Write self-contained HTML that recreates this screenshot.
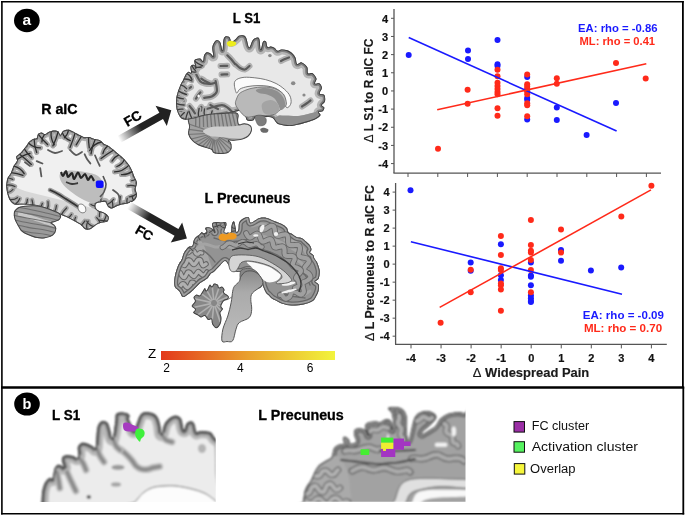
<!DOCTYPE html>
<html><head><meta charset="utf-8"><style>
html,body{margin:0;padding:0;background:#fff;}
svg{display:block;will-change:transform;}
text{font-family:"Liberation Sans",sans-serif;}
.tk{font-size:11px;font-weight:bold;fill:#111;stroke:#111;stroke-width:0.2px;}
.ax{font-size:12px;font-weight:bold;fill:#1a1a1a;stroke:#1a1a1a;stroke-width:0.15px;}
.rho{font-size:11.6px;font-weight:bold;}
.ttl{font-size:14.5px;font-weight:bold;fill:#000;stroke:#000;stroke-width:0.3px;}
.lg{font-size:12.3px;fill:#111;}
.fc{font-size:13.5px;font-weight:bold;fill:#000;stroke:#000;stroke-width:0.3px;}
</style></head><body>
<svg width="685" height="516" viewBox="0 0 685 516">
<rect width="685" height="516" fill="#fff"/>
<defs>
<filter id="bl6" x="-5%" y="-5%" width="110%" height="110%"><feGaussianBlur stdDeviation="0.45"/></filter>
<linearGradient id="thg" x1="0" x2="1" y1="0" y2="0"><stop offset="0" stop-color="#bebebe"/><stop offset="0.5" stop-color="#b2b2b2"/><stop offset="0.75" stop-color="#9a9a9a"/><stop offset="1" stop-color="#8a8a8a"/></linearGradient>
<linearGradient id="bsg" x1="0" x2="0" y1="0" y2="1"><stop offset="0" stop-color="#8a8a8a"/><stop offset="0.3" stop-color="#aaaaaa"/><stop offset="1" stop-color="#bdbdbd"/></linearGradient>
<filter id="bl9" x="-5%" y="-5%" width="110%" height="110%"><feGaussianBlur stdDeviation="1.1"/></filter>
</defs>
<g filter="url(#bl6)">
<clipPath id="c1"><path d="M176.90,110.10 C176.05,107.05 176.05,103.02 176.20,100.00 C176.35,96.98 177.02,94.67 177.80,92.00 C178.58,89.33 180.00,86.00 180.90,84.00 C181.80,82.00 182.40,81.57 183.20,80.00 C184.00,78.43 184.80,75.98 185.70,74.60 C186.60,73.22 187.72,72.02 188.60,71.70 C189.48,71.38 190.68,73.50 191.00,72.70 C191.32,71.90 190.27,68.20 190.50,66.90 C190.73,65.60 191.67,65.15 192.40,64.90 C193.13,64.65 194.33,64.90 194.90,65.40 C195.47,65.90 195.88,68.62 195.80,67.90 C195.72,67.18 194.32,62.57 194.40,61.10 C194.48,59.63 195.33,59.52 196.30,59.10 C197.27,58.68 199.07,58.27 200.20,58.60 C201.33,58.93 202.45,61.65 203.10,61.10 C203.75,60.55 203.45,56.77 204.10,55.30 C204.75,53.83 205.87,52.55 207.00,52.30 C208.13,52.05 209.85,53.15 210.90,53.80 C211.95,54.45 213.07,57.25 213.30,56.20 C213.53,55.15 212.07,49.92 212.30,47.50 C212.53,45.08 213.82,42.92 214.70,41.70 C215.58,40.48 216.63,40.03 217.60,40.20 C218.57,40.37 219.68,41.00 220.50,42.70 C221.32,44.40 222.00,50.88 222.50,50.40 C223.00,49.92 223.02,42.13 223.50,39.80 C223.98,37.47 224.52,36.90 225.40,36.40 C226.28,35.90 228.00,36.40 228.80,36.80 C229.60,37.20 229.75,37.93 230.20,38.80 C230.65,39.67 230.53,42.02 231.50,42.00 C232.47,41.98 234.77,39.73 236.00,38.70 C237.23,37.67 237.77,36.37 238.90,35.80 C240.03,35.23 241.60,34.97 242.80,35.30 C244.00,35.63 245.05,35.78 246.10,37.80 C247.15,39.82 248.05,46.92 249.10,47.40 C250.15,47.88 251.37,42.23 252.40,40.70 C253.43,39.17 254.17,38.53 255.30,38.20 C256.43,37.87 258.30,36.83 259.20,38.70 C260.10,40.57 260.05,48.92 260.70,49.40 C261.35,49.88 262.22,42.90 263.10,41.60 C263.98,40.30 265.27,40.70 266.00,41.60 C266.73,42.50 266.68,46.18 267.50,47.00 C268.32,47.82 269.70,46.35 270.90,46.50 C272.10,46.65 273.58,47.18 274.70,47.90 C275.82,48.62 276.47,50.55 277.60,50.80 C278.73,51.05 279.88,49.48 281.50,49.40 C283.12,49.32 285.52,49.65 287.30,50.30 C289.08,50.95 290.83,52.05 292.20,53.30 C293.57,54.55 294.68,56.02 295.50,57.80 C296.32,59.58 296.07,63.23 297.10,64.00 C298.13,64.77 300.02,61.88 301.70,62.40 C303.38,62.92 306.15,65.28 307.20,67.10 C308.25,68.92 307.10,72.27 308.00,73.30 C308.90,74.33 311.18,72.40 312.60,73.30 C314.02,74.20 316.10,77.02 316.50,78.70 C316.90,80.38 314.48,82.62 315.00,83.40 C315.52,84.18 318.45,82.63 319.60,83.40 C320.75,84.17 321.90,86.32 321.90,88.00 C321.90,89.68 319.20,92.33 319.60,93.50 C320.00,94.67 323.40,93.72 324.30,95.00 C325.20,96.28 325.40,99.52 325.00,101.20 C324.60,102.88 322.02,104.05 321.90,105.10 C321.78,106.15 324.17,106.47 324.30,107.50 C324.43,108.53 323.62,110.53 322.70,111.30 C321.78,112.07 319.18,111.45 318.80,112.10 C318.42,112.75 320.92,114.03 320.40,115.20 C319.88,116.37 317.52,118.07 315.70,119.10 C313.88,120.13 312.35,120.50 309.50,121.40 C306.65,122.30 301.97,123.72 298.60,124.50 C295.23,125.28 292.40,126.10 289.30,126.10 C286.20,126.10 282.10,125.02 280.00,124.50 C277.90,123.98 277.98,124.12 276.70,123.00 C275.42,121.88 274.08,118.80 272.30,117.80 C270.52,116.80 268.62,117.40 266.00,117.00 C263.38,116.60 258.70,114.87 256.60,115.40 C254.50,115.93 255.00,119.40 253.40,120.20 C251.80,121.00 248.43,121.25 247.00,120.20 C245.57,119.15 245.80,115.52 244.80,113.90 C243.80,112.28 242.47,110.90 241.00,110.50 C239.53,110.10 238.17,111.00 236.00,111.50 C233.83,112.00 231.50,112.83 228.00,113.50 C224.50,114.17 219.67,114.83 215.00,115.50 C210.33,116.17 204.50,116.82 200.00,117.50 C195.50,118.18 191.12,119.47 188.00,119.60 C184.88,119.73 183.15,119.88 181.30,118.30 C179.45,116.72 177.75,113.15 176.90,110.10 Z"/></clipPath>
<g clip-path="url(#c1)">
<path d="M176.90,110.10 C176.05,107.05 176.05,103.02 176.20,100.00 C176.35,96.98 177.02,94.67 177.80,92.00 C178.58,89.33 180.00,86.00 180.90,84.00 C181.80,82.00 182.40,81.57 183.20,80.00 C184.00,78.43 184.80,75.98 185.70,74.60 C186.60,73.22 187.72,72.02 188.60,71.70 C189.48,71.38 190.68,73.50 191.00,72.70 C191.32,71.90 190.27,68.20 190.50,66.90 C190.73,65.60 191.67,65.15 192.40,64.90 C193.13,64.65 194.33,64.90 194.90,65.40 C195.47,65.90 195.88,68.62 195.80,67.90 C195.72,67.18 194.32,62.57 194.40,61.10 C194.48,59.63 195.33,59.52 196.30,59.10 C197.27,58.68 199.07,58.27 200.20,58.60 C201.33,58.93 202.45,61.65 203.10,61.10 C203.75,60.55 203.45,56.77 204.10,55.30 C204.75,53.83 205.87,52.55 207.00,52.30 C208.13,52.05 209.85,53.15 210.90,53.80 C211.95,54.45 213.07,57.25 213.30,56.20 C213.53,55.15 212.07,49.92 212.30,47.50 C212.53,45.08 213.82,42.92 214.70,41.70 C215.58,40.48 216.63,40.03 217.60,40.20 C218.57,40.37 219.68,41.00 220.50,42.70 C221.32,44.40 222.00,50.88 222.50,50.40 C223.00,49.92 223.02,42.13 223.50,39.80 C223.98,37.47 224.52,36.90 225.40,36.40 C226.28,35.90 228.00,36.40 228.80,36.80 C229.60,37.20 229.75,37.93 230.20,38.80 C230.65,39.67 230.53,42.02 231.50,42.00 C232.47,41.98 234.77,39.73 236.00,38.70 C237.23,37.67 237.77,36.37 238.90,35.80 C240.03,35.23 241.60,34.97 242.80,35.30 C244.00,35.63 245.05,35.78 246.10,37.80 C247.15,39.82 248.05,46.92 249.10,47.40 C250.15,47.88 251.37,42.23 252.40,40.70 C253.43,39.17 254.17,38.53 255.30,38.20 C256.43,37.87 258.30,36.83 259.20,38.70 C260.10,40.57 260.05,48.92 260.70,49.40 C261.35,49.88 262.22,42.90 263.10,41.60 C263.98,40.30 265.27,40.70 266.00,41.60 C266.73,42.50 266.68,46.18 267.50,47.00 C268.32,47.82 269.70,46.35 270.90,46.50 C272.10,46.65 273.58,47.18 274.70,47.90 C275.82,48.62 276.47,50.55 277.60,50.80 C278.73,51.05 279.88,49.48 281.50,49.40 C283.12,49.32 285.52,49.65 287.30,50.30 C289.08,50.95 290.83,52.05 292.20,53.30 C293.57,54.55 294.68,56.02 295.50,57.80 C296.32,59.58 296.07,63.23 297.10,64.00 C298.13,64.77 300.02,61.88 301.70,62.40 C303.38,62.92 306.15,65.28 307.20,67.10 C308.25,68.92 307.10,72.27 308.00,73.30 C308.90,74.33 311.18,72.40 312.60,73.30 C314.02,74.20 316.10,77.02 316.50,78.70 C316.90,80.38 314.48,82.62 315.00,83.40 C315.52,84.18 318.45,82.63 319.60,83.40 C320.75,84.17 321.90,86.32 321.90,88.00 C321.90,89.68 319.20,92.33 319.60,93.50 C320.00,94.67 323.40,93.72 324.30,95.00 C325.20,96.28 325.40,99.52 325.00,101.20 C324.60,102.88 322.02,104.05 321.90,105.10 C321.78,106.15 324.17,106.47 324.30,107.50 C324.43,108.53 323.62,110.53 322.70,111.30 C321.78,112.07 319.18,111.45 318.80,112.10 C318.42,112.75 320.92,114.03 320.40,115.20 C319.88,116.37 317.52,118.07 315.70,119.10 C313.88,120.13 312.35,120.50 309.50,121.40 C306.65,122.30 301.97,123.72 298.60,124.50 C295.23,125.28 292.40,126.10 289.30,126.10 C286.20,126.10 282.10,125.02 280.00,124.50 C277.90,123.98 277.98,124.12 276.70,123.00 C275.42,121.88 274.08,118.80 272.30,117.80 C270.52,116.80 268.62,117.40 266.00,117.00 C263.38,116.60 258.70,114.87 256.60,115.40 C254.50,115.93 255.00,119.40 253.40,120.20 C251.80,121.00 248.43,121.25 247.00,120.20 C245.57,119.15 245.80,115.52 244.80,113.90 C243.80,112.28 242.47,110.90 241.00,110.50 C239.53,110.10 238.17,111.00 236.00,111.50 C233.83,112.00 231.50,112.83 228.00,113.50 C224.50,114.17 219.67,114.83 215.00,115.50 C210.33,116.17 204.50,116.82 200.00,117.50 C195.50,118.18 191.12,119.47 188.00,119.60 C184.88,119.73 183.15,119.88 181.30,118.30 C179.45,116.72 177.75,113.15 176.90,110.10 Z" fill="#e8e8e8" stroke="#b6b6b6" stroke-width="10"/>
<path d="M176.90,110.10 C176.05,107.05 176.05,103.02 176.20,100.00 C176.35,96.98 177.02,94.67 177.80,92.00 C178.58,89.33 180.00,86.00 180.90,84.00 C181.80,82.00 182.40,81.57 183.20,80.00 C184.00,78.43 184.80,75.98 185.70,74.60 C186.60,73.22 187.72,72.02 188.60,71.70 C189.48,71.38 190.68,73.50 191.00,72.70 C191.32,71.90 190.27,68.20 190.50,66.90 C190.73,65.60 191.67,65.15 192.40,64.90 C193.13,64.65 194.33,64.90 194.90,65.40 C195.47,65.90 195.88,68.62 195.80,67.90 C195.72,67.18 194.32,62.57 194.40,61.10 C194.48,59.63 195.33,59.52 196.30,59.10 C197.27,58.68 199.07,58.27 200.20,58.60 C201.33,58.93 202.45,61.65 203.10,61.10 C203.75,60.55 203.45,56.77 204.10,55.30 C204.75,53.83 205.87,52.55 207.00,52.30 C208.13,52.05 209.85,53.15 210.90,53.80 C211.95,54.45 213.07,57.25 213.30,56.20 C213.53,55.15 212.07,49.92 212.30,47.50 C212.53,45.08 213.82,42.92 214.70,41.70 C215.58,40.48 216.63,40.03 217.60,40.20 C218.57,40.37 219.68,41.00 220.50,42.70 C221.32,44.40 222.00,50.88 222.50,50.40 C223.00,49.92 223.02,42.13 223.50,39.80 C223.98,37.47 224.52,36.90 225.40,36.40 C226.28,35.90 228.00,36.40 228.80,36.80 C229.60,37.20 229.75,37.93 230.20,38.80 C230.65,39.67 230.53,42.02 231.50,42.00 C232.47,41.98 234.77,39.73 236.00,38.70 C237.23,37.67 237.77,36.37 238.90,35.80 C240.03,35.23 241.60,34.97 242.80,35.30 C244.00,35.63 245.05,35.78 246.10,37.80 C247.15,39.82 248.05,46.92 249.10,47.40 C250.15,47.88 251.37,42.23 252.40,40.70 C253.43,39.17 254.17,38.53 255.30,38.20 C256.43,37.87 258.30,36.83 259.20,38.70 C260.10,40.57 260.05,48.92 260.70,49.40 C261.35,49.88 262.22,42.90 263.10,41.60 C263.98,40.30 265.27,40.70 266.00,41.60 C266.73,42.50 266.68,46.18 267.50,47.00 C268.32,47.82 269.70,46.35 270.90,46.50 C272.10,46.65 273.58,47.18 274.70,47.90 C275.82,48.62 276.47,50.55 277.60,50.80 C278.73,51.05 279.88,49.48 281.50,49.40 C283.12,49.32 285.52,49.65 287.30,50.30 C289.08,50.95 290.83,52.05 292.20,53.30 C293.57,54.55 294.68,56.02 295.50,57.80 C296.32,59.58 296.07,63.23 297.10,64.00 C298.13,64.77 300.02,61.88 301.70,62.40 C303.38,62.92 306.15,65.28 307.20,67.10 C308.25,68.92 307.10,72.27 308.00,73.30 C308.90,74.33 311.18,72.40 312.60,73.30 C314.02,74.20 316.10,77.02 316.50,78.70 C316.90,80.38 314.48,82.62 315.00,83.40 C315.52,84.18 318.45,82.63 319.60,83.40 C320.75,84.17 321.90,86.32 321.90,88.00 C321.90,89.68 319.20,92.33 319.60,93.50 C320.00,94.67 323.40,93.72 324.30,95.00 C325.20,96.28 325.40,99.52 325.00,101.20 C324.60,102.88 322.02,104.05 321.90,105.10 C321.78,106.15 324.17,106.47 324.30,107.50 C324.43,108.53 323.62,110.53 322.70,111.30 C321.78,112.07 319.18,111.45 318.80,112.10 C318.42,112.75 320.92,114.03 320.40,115.20 C319.88,116.37 317.52,118.07 315.70,119.10 C313.88,120.13 312.35,120.50 309.50,121.40 C306.65,122.30 301.97,123.72 298.60,124.50 C295.23,125.28 292.40,126.10 289.30,126.10 C286.20,126.10 282.10,125.02 280.00,124.50 C277.90,123.98 277.98,124.12 276.70,123.00 C275.42,121.88 274.08,118.80 272.30,117.80 C270.52,116.80 268.62,117.40 266.00,117.00 C263.38,116.60 258.70,114.87 256.60,115.40 C254.50,115.93 255.00,119.40 253.40,120.20 C251.80,121.00 248.43,121.25 247.00,120.20 C245.57,119.15 245.80,115.52 244.80,113.90 C243.80,112.28 242.47,110.90 241.00,110.50 C239.53,110.10 238.17,111.00 236.00,111.50 C233.83,112.00 231.50,112.83 228.00,113.50 C224.50,114.17 219.67,114.83 215.00,115.50 C210.33,116.17 204.50,116.82 200.00,117.50 C195.50,118.18 191.12,119.47 188.00,119.60 C184.88,119.73 183.15,119.88 181.30,118.30 C179.45,116.72 177.75,113.15 176.90,110.10 Z" fill="none" stroke="#7e7e7e" stroke-width="5"/>
<path d="M192.90,66.30 C193.42,67.58 194.75,71.48 196.00,74.00 C197.25,76.52 198.90,79.82 200.40,81.40 C201.90,82.98 203.32,83.08 205.00,83.50 C206.68,83.92 208.73,84.03 210.50,83.90 C212.27,83.77 214.75,82.90 215.60,82.70" fill="none" stroke="#b0b0b0" stroke-width="6" stroke-linecap="round"/>
<path d="M201.30,78.60 C201.92,79.00 203.63,80.23 205.00,81.00 C206.37,81.77 208.75,82.83 209.50,83.20" fill="none" stroke="#b0b0b0" stroke-width="6" stroke-linecap="round"/>
<path d="M215.60,81.00 C215.80,82.75 217.43,88.92 216.80,91.50 C216.17,94.08 213.90,95.45 211.80,96.50 C209.70,97.55 205.47,97.58 204.20,97.80" fill="none" stroke="#b0b0b0" stroke-width="6" stroke-linecap="round"/>
<path d="M178.60,96.00 C179.00,96.33 180.10,97.25 181.00,98.00 C181.90,98.75 183.50,100.08 184.00,100.50" fill="none" stroke="#b0b0b0" stroke-width="6" stroke-linecap="round"/>
<path d="M195.90,98.70 C196.25,98.17 197.25,96.57 198.00,95.50 C198.75,94.43 200.00,92.83 200.40,92.30" fill="none" stroke="#b0b0b0" stroke-width="6" stroke-linecap="round"/>
<path d="M178.60,110.50 C179.00,110.58 180.10,110.85 181.00,111.00 C181.90,111.15 183.50,111.33 184.00,111.40" fill="none" stroke="#b0b0b0" stroke-width="6" stroke-linecap="round"/>
<path d="M189.50,106.00 C189.92,106.50 191.08,107.78 192.00,109.00 C192.92,110.22 194.50,112.58 195.00,113.30" fill="none" stroke="#b0b0b0" stroke-width="6" stroke-linecap="round"/>
<path d="M201.30,106.90 C201.50,107.42 202.05,108.93 202.50,110.00 C202.95,111.07 203.75,112.75 204.00,113.30" fill="none" stroke="#b0b0b0" stroke-width="6" stroke-linecap="round"/>
<path d="M210.40,105.00 C211.00,105.33 212.73,106.33 214.00,107.00 C215.27,107.67 217.33,108.67 218.00,109.00" fill="none" stroke="#b0b0b0" stroke-width="6" stroke-linecap="round"/>
<path d="M199.20,111.00 C201.00,110.50 206.22,108.98 210.00,108.00 C213.78,107.02 218.90,105.10 221.90,105.10 C224.90,105.10 226.12,106.70 228.00,108.00 C229.88,109.30 232.33,112.08 233.20,112.90" fill="none" stroke="#b0b0b0" stroke-width="6" stroke-linecap="round"/>
<path d="M227.30,55.30 C227.92,55.92 229.72,57.55 231.00,59.00 C232.28,60.45 234.33,63.17 235.00,64.00" fill="none" stroke="#b0b0b0" stroke-width="6" stroke-linecap="round"/>
<path d="M235.50,64.00 C236.25,64.67 238.42,67.08 240.00,68.00 C241.58,68.92 243.42,69.83 245.00,69.50 C246.58,69.17 248.75,66.58 249.50,66.00" fill="none" stroke="#b0b0b0" stroke-width="6" stroke-linecap="round"/>
<path d="M220.50,66.00 C221.63,65.97 226.17,65.83 227.30,65.80" fill="none" stroke="#b0b0b0" stroke-width="6" stroke-linecap="round"/>
<path d="M221.50,74.60 C222.47,74.55 226.33,74.35 227.30,74.30" fill="none" stroke="#b0b0b0" stroke-width="6" stroke-linecap="round"/>
<path d="M281.00,61.00 C281.67,60.67 283.67,59.58 285.00,59.00 C286.33,58.42 288.33,57.75 289.00,57.50" fill="none" stroke="#b0b0b0" stroke-width="6" stroke-linecap="round"/>
<path d="M302.00,106.50 C302.75,106.00 305.08,104.50 306.50,103.50 C307.92,102.50 309.83,101.00 310.50,100.50" fill="none" stroke="#b0b0b0" stroke-width="6" stroke-linecap="round"/>
<path d="M280.00,118.00 C281.67,118.33 286.67,119.83 290.00,120.00 C293.33,120.17 296.33,119.67 300.00,119.00 C303.67,118.33 310.00,116.50 312.00,116.00" fill="none" stroke="#b0b0b0" stroke-width="6" stroke-linecap="round"/>
<path d="M183.00,86.00 C183.67,86.50 185.67,88.83 187.00,89.00 C188.33,89.17 190.33,87.33 191.00,87.00" fill="none" stroke="#b0b0b0" stroke-width="6" stroke-linecap="round"/>
<path d="M192.90,66.30 C193.42,67.58 194.75,71.48 196.00,74.00 C197.25,76.52 198.90,79.82 200.40,81.40 C201.90,82.98 203.32,83.08 205.00,83.50 C206.68,83.92 208.73,84.03 210.50,83.90 C212.27,83.77 214.75,82.90 215.60,82.70" fill="none" stroke="#5a5a5a" stroke-width="2.2" stroke-linecap="round"/>
<path d="M201.30,78.60 C201.92,79.00 203.63,80.23 205.00,81.00 C206.37,81.77 208.75,82.83 209.50,83.20" fill="none" stroke="#5a5a5a" stroke-width="2.2" stroke-linecap="round"/>
<path d="M215.60,81.00 C215.80,82.75 217.43,88.92 216.80,91.50 C216.17,94.08 213.90,95.45 211.80,96.50 C209.70,97.55 205.47,97.58 204.20,97.80" fill="none" stroke="#5a5a5a" stroke-width="2.2" stroke-linecap="round"/>
<path d="M178.60,96.00 C179.00,96.33 180.10,97.25 181.00,98.00 C181.90,98.75 183.50,100.08 184.00,100.50" fill="none" stroke="#5a5a5a" stroke-width="2.2" stroke-linecap="round"/>
<path d="M195.90,98.70 C196.25,98.17 197.25,96.57 198.00,95.50 C198.75,94.43 200.00,92.83 200.40,92.30" fill="none" stroke="#5a5a5a" stroke-width="2.2" stroke-linecap="round"/>
<path d="M178.60,110.50 C179.00,110.58 180.10,110.85 181.00,111.00 C181.90,111.15 183.50,111.33 184.00,111.40" fill="none" stroke="#5a5a5a" stroke-width="2.2" stroke-linecap="round"/>
<path d="M189.50,106.00 C189.92,106.50 191.08,107.78 192.00,109.00 C192.92,110.22 194.50,112.58 195.00,113.30" fill="none" stroke="#5a5a5a" stroke-width="2.2" stroke-linecap="round"/>
<path d="M201.30,106.90 C201.50,107.42 202.05,108.93 202.50,110.00 C202.95,111.07 203.75,112.75 204.00,113.30" fill="none" stroke="#5a5a5a" stroke-width="2.2" stroke-linecap="round"/>
<path d="M210.40,105.00 C211.00,105.33 212.73,106.33 214.00,107.00 C215.27,107.67 217.33,108.67 218.00,109.00" fill="none" stroke="#5a5a5a" stroke-width="2.2" stroke-linecap="round"/>
<path d="M199.20,111.00 C201.00,110.50 206.22,108.98 210.00,108.00 C213.78,107.02 218.90,105.10 221.90,105.10 C224.90,105.10 226.12,106.70 228.00,108.00 C229.88,109.30 232.33,112.08 233.20,112.90" fill="none" stroke="#5a5a5a" stroke-width="2.2" stroke-linecap="round"/>
<path d="M227.30,55.30 C227.92,55.92 229.72,57.55 231.00,59.00 C232.28,60.45 234.33,63.17 235.00,64.00" fill="none" stroke="#5a5a5a" stroke-width="2.2" stroke-linecap="round"/>
<path d="M235.50,64.00 C236.25,64.67 238.42,67.08 240.00,68.00 C241.58,68.92 243.42,69.83 245.00,69.50 C246.58,69.17 248.75,66.58 249.50,66.00" fill="none" stroke="#5a5a5a" stroke-width="2.2" stroke-linecap="round"/>
<path d="M220.50,66.00 C221.63,65.97 226.17,65.83 227.30,65.80" fill="none" stroke="#5a5a5a" stroke-width="2.2" stroke-linecap="round"/>
<path d="M221.50,74.60 C222.47,74.55 226.33,74.35 227.30,74.30" fill="none" stroke="#5a5a5a" stroke-width="2.2" stroke-linecap="round"/>
<path d="M281.00,61.00 C281.67,60.67 283.67,59.58 285.00,59.00 C286.33,58.42 288.33,57.75 289.00,57.50" fill="none" stroke="#5a5a5a" stroke-width="2.2" stroke-linecap="round"/>
<path d="M302.00,106.50 C302.75,106.00 305.08,104.50 306.50,103.50 C307.92,102.50 309.83,101.00 310.50,100.50" fill="none" stroke="#5a5a5a" stroke-width="2.2" stroke-linecap="round"/>
<path d="M280.00,118.00 C281.67,118.33 286.67,119.83 290.00,120.00 C293.33,120.17 296.33,119.67 300.00,119.00 C303.67,118.33 310.00,116.50 312.00,116.00" fill="none" stroke="#5a5a5a" stroke-width="2.2" stroke-linecap="round"/>
<path d="M183.00,86.00 C183.67,86.50 185.67,88.83 187.00,89.00 C188.33,89.17 190.33,87.33 191.00,87.00" fill="none" stroke="#5a5a5a" stroke-width="2.2" stroke-linecap="round"/>
<ellipse cx="185.8" cy="90.5" rx="1.6" ry="1.3" fill="#555"/>
<ellipse cx="198.6" cy="96" rx="1.2" ry="1.6" fill="#fafafa"/>
<path d="M176.9,110.1 Q179.8,108.7 183.0,109.2" fill="none" stroke="#a8a8a8" stroke-width="4.5" stroke-linecap="round"/>
<path d="M176.5,103.6 Q180.2,105.1 184.2,105.0" fill="none" stroke="#a8a8a8" stroke-width="4.5" stroke-linecap="round"/>
<path d="M176.8,97.2 Q180.0,98.7 183.5,98.8" fill="none" stroke="#a8a8a8" stroke-width="4.5" stroke-linecap="round"/>
<path d="M178.2,90.9 Q182.0,93.3 186.4,94.5" fill="none" stroke="#a8a8a8" stroke-width="4.5" stroke-linecap="round"/>
<path d="M180.6,84.8 Q184.3,85.7 186.6,88.7" fill="none" stroke="#a8a8a8" stroke-width="4.5" stroke-linecap="round"/>
<path d="M183.6,79.1 Q188.1,78.6 192.0,81.0" fill="none" stroke="#a8a8a8" stroke-width="4.5" stroke-linecap="round"/>
<path d="M186.8,73.5 Q190.8,75.5 192.0,79.7" fill="none" stroke="#a8a8a8" stroke-width="4.5" stroke-linecap="round"/>
<path d="M190.9,71.3 Q193.4,72.5 196.0,71.8" fill="none" stroke="#a8a8a8" stroke-width="4.5" stroke-linecap="round"/>
<path d="M191.9,65.4 Q193.1,68.3 195.4,70.4" fill="none" stroke="#a8a8a8" stroke-width="4.5" stroke-linecap="round"/>
<path d="M195.7,67.3 Q198.5,67.6 201.3,67.0" fill="none" stroke="#a8a8a8" stroke-width="4.5" stroke-linecap="round"/>
<path d="M194.5,61.0 Q198.2,64.2 202.7,65.9" fill="none" stroke="#a8a8a8" stroke-width="4.5" stroke-linecap="round"/>
<path d="M211.4,116.0 Q211.3,113.3 212.2,110.8" fill="none" stroke="#a8a8a8" stroke-width="4.5" stroke-linecap="round"/>
<path d="M205.0,116.8 Q203.4,112.9 204.5,108.8" fill="none" stroke="#a8a8a8" stroke-width="4.5" stroke-linecap="round"/>
<path d="M198.5,117.8 Q197.9,113.1 199.1,108.5" fill="none" stroke="#a8a8a8" stroke-width="4.5" stroke-linecap="round"/>
<path d="M192.1,118.9 Q190.2,115.2 189.0,111.2" fill="none" stroke="#a8a8a8" stroke-width="4.5" stroke-linecap="round"/>
<path d="M185.7,119.2 Q186.4,115.5 187.9,112.0" fill="none" stroke="#a8a8a8" stroke-width="4.5" stroke-linecap="round"/>
<path d="M180.4,116.6 Q182.3,114.5 184.4,112.6" fill="none" stroke="#a8a8a8" stroke-width="4.5" stroke-linecap="round"/>
<path d="M176.9,110.1 Q179.8,108.7 183.0,109.2" fill="none" stroke="#3c3c3c" stroke-width="1.3" stroke-linecap="round"/>
<path d="M176.5,103.6 Q180.2,105.1 184.2,105.0" fill="none" stroke="#3c3c3c" stroke-width="1.3" stroke-linecap="round"/>
<path d="M176.8,97.2 Q180.0,98.7 183.5,98.8" fill="none" stroke="#3c3c3c" stroke-width="1.3" stroke-linecap="round"/>
<path d="M178.2,90.9 Q182.0,93.3 186.4,94.5" fill="none" stroke="#3c3c3c" stroke-width="1.3" stroke-linecap="round"/>
<path d="M180.6,84.8 Q184.3,85.7 186.6,88.7" fill="none" stroke="#3c3c3c" stroke-width="1.3" stroke-linecap="round"/>
<path d="M183.6,79.1 Q188.1,78.6 192.0,81.0" fill="none" stroke="#3c3c3c" stroke-width="1.3" stroke-linecap="round"/>
<path d="M186.8,73.5 Q190.8,75.5 192.0,79.7" fill="none" stroke="#3c3c3c" stroke-width="1.3" stroke-linecap="round"/>
<path d="M190.9,71.3 Q193.4,72.5 196.0,71.8" fill="none" stroke="#3c3c3c" stroke-width="1.3" stroke-linecap="round"/>
<path d="M191.9,65.4 Q193.1,68.3 195.4,70.4" fill="none" stroke="#3c3c3c" stroke-width="1.3" stroke-linecap="round"/>
<path d="M195.7,67.3 Q198.5,67.6 201.3,67.0" fill="none" stroke="#3c3c3c" stroke-width="1.3" stroke-linecap="round"/>
<path d="M194.5,61.0 Q198.2,64.2 202.7,65.9" fill="none" stroke="#3c3c3c" stroke-width="1.3" stroke-linecap="round"/>
<path d="M211.4,116.0 Q211.3,113.3 212.2,110.8" fill="none" stroke="#3c3c3c" stroke-width="1.3" stroke-linecap="round"/>
<path d="M205.0,116.8 Q203.4,112.9 204.5,108.8" fill="none" stroke="#3c3c3c" stroke-width="1.3" stroke-linecap="round"/>
<path d="M198.5,117.8 Q197.9,113.1 199.1,108.5" fill="none" stroke="#3c3c3c" stroke-width="1.3" stroke-linecap="round"/>
<path d="M192.1,118.9 Q190.2,115.2 189.0,111.2" fill="none" stroke="#3c3c3c" stroke-width="1.3" stroke-linecap="round"/>
<path d="M185.7,119.2 Q186.4,115.5 187.9,112.0" fill="none" stroke="#3c3c3c" stroke-width="1.3" stroke-linecap="round"/>
<path d="M180.4,116.6 Q182.3,114.5 184.4,112.6" fill="none" stroke="#3c3c3c" stroke-width="1.3" stroke-linecap="round"/>
<ellipse cx="269.9" cy="55.6" rx="1.8" ry="1.6" fill="#8a8a8a"/>
<ellipse cx="293.2" cy="83.3" rx="2.2" ry="2" fill="#8a8a8a"/>
<ellipse cx="304" cy="95" rx="1.6" ry="1.5" fill="#8a8a8a"/>
<path d="M276.00,117.00 C277.50,115.75 281.33,115.67 285.00,115.50 C288.67,115.33 293.83,116.33 298.00,116.00 C302.17,115.67 306.33,114.33 310.00,113.50 C313.67,112.67 318.00,110.58 320.00,111.00 C322.00,111.42 323.00,114.25 322.00,116.00 C321.00,117.75 317.67,120.00 314.00,121.50 C310.33,123.00 304.50,124.17 300.00,125.00 C295.50,125.83 291.00,126.83 287.00,126.50 C283.00,126.17 277.83,124.58 276.00,123.00 C274.17,121.42 274.50,118.25 276.00,117.00 Z" fill="#8f8f8f"/>
<path d="M176.90,110.10 C176.05,107.05 176.05,103.02 176.20,100.00 C176.35,96.98 177.02,94.67 177.80,92.00 C178.58,89.33 180.00,86.00 180.90,84.00 C181.80,82.00 182.40,81.57 183.20,80.00 C184.00,78.43 184.80,75.98 185.70,74.60 C186.60,73.22 187.72,72.02 188.60,71.70 C189.48,71.38 190.68,73.50 191.00,72.70 C191.32,71.90 190.27,68.20 190.50,66.90 C190.73,65.60 191.67,65.15 192.40,64.90 C193.13,64.65 194.33,64.90 194.90,65.40 C195.47,65.90 195.88,68.62 195.80,67.90 C195.72,67.18 194.32,62.57 194.40,61.10 C194.48,59.63 195.33,59.52 196.30,59.10 C197.27,58.68 199.07,58.27 200.20,58.60 C201.33,58.93 202.45,61.65 203.10,61.10 C203.75,60.55 203.45,56.77 204.10,55.30 C204.75,53.83 205.87,52.55 207.00,52.30 C208.13,52.05 209.85,53.15 210.90,53.80 C211.95,54.45 213.07,57.25 213.30,56.20 C213.53,55.15 212.07,49.92 212.30,47.50 C212.53,45.08 213.82,42.92 214.70,41.70 C215.58,40.48 216.63,40.03 217.60,40.20 C218.57,40.37 219.68,41.00 220.50,42.70 C221.32,44.40 222.00,50.88 222.50,50.40 C223.00,49.92 223.02,42.13 223.50,39.80 C223.98,37.47 224.52,36.90 225.40,36.40 C226.28,35.90 228.00,36.40 228.80,36.80 C229.60,37.20 229.75,37.93 230.20,38.80 C230.65,39.67 230.53,42.02 231.50,42.00 C232.47,41.98 234.77,39.73 236.00,38.70 C237.23,37.67 237.77,36.37 238.90,35.80 C240.03,35.23 241.60,34.97 242.80,35.30 C244.00,35.63 245.05,35.78 246.10,37.80 C247.15,39.82 248.05,46.92 249.10,47.40 C250.15,47.88 251.37,42.23 252.40,40.70 C253.43,39.17 254.17,38.53 255.30,38.20 C256.43,37.87 258.30,36.83 259.20,38.70 C260.10,40.57 260.05,48.92 260.70,49.40 C261.35,49.88 262.22,42.90 263.10,41.60 C263.98,40.30 265.27,40.70 266.00,41.60 C266.73,42.50 266.68,46.18 267.50,47.00 C268.32,47.82 269.70,46.35 270.90,46.50 C272.10,46.65 273.58,47.18 274.70,47.90 C275.82,48.62 276.47,50.55 277.60,50.80 C278.73,51.05 279.88,49.48 281.50,49.40 C283.12,49.32 285.52,49.65 287.30,50.30 C289.08,50.95 290.83,52.05 292.20,53.30 C293.57,54.55 294.68,56.02 295.50,57.80 C296.32,59.58 296.07,63.23 297.10,64.00 C298.13,64.77 300.02,61.88 301.70,62.40 C303.38,62.92 306.15,65.28 307.20,67.10 C308.25,68.92 307.10,72.27 308.00,73.30 C308.90,74.33 311.18,72.40 312.60,73.30 C314.02,74.20 316.10,77.02 316.50,78.70 C316.90,80.38 314.48,82.62 315.00,83.40 C315.52,84.18 318.45,82.63 319.60,83.40 C320.75,84.17 321.90,86.32 321.90,88.00 C321.90,89.68 319.20,92.33 319.60,93.50 C320.00,94.67 323.40,93.72 324.30,95.00 C325.20,96.28 325.40,99.52 325.00,101.20 C324.60,102.88 322.02,104.05 321.90,105.10 C321.78,106.15 324.17,106.47 324.30,107.50 C324.43,108.53 323.62,110.53 322.70,111.30 C321.78,112.07 319.18,111.45 318.80,112.10 C318.42,112.75 320.92,114.03 320.40,115.20 C319.88,116.37 317.52,118.07 315.70,119.10 C313.88,120.13 312.35,120.50 309.50,121.40 C306.65,122.30 301.97,123.72 298.60,124.50 C295.23,125.28 292.40,126.10 289.30,126.10 C286.20,126.10 282.10,125.02 280.00,124.50 C277.90,123.98 277.98,124.12 276.70,123.00 C275.42,121.88 274.08,118.80 272.30,117.80 C270.52,116.80 268.62,117.40 266.00,117.00 C263.38,116.60 258.70,114.87 256.60,115.40 C254.50,115.93 255.00,119.40 253.40,120.20 C251.80,121.00 248.43,121.25 247.00,120.20 C245.57,119.15 245.80,115.52 244.80,113.90 C243.80,112.28 242.47,110.90 241.00,110.50 C239.53,110.10 238.17,111.00 236.00,111.50 C233.83,112.00 231.50,112.83 228.00,113.50 C224.50,114.17 219.67,114.83 215.00,115.50 C210.33,116.17 204.50,116.82 200.00,117.50 C195.50,118.18 191.12,119.47 188.00,119.60 C184.88,119.73 183.15,119.88 181.30,118.30 C179.45,116.72 177.75,113.15 176.90,110.10 Z" fill="none" stroke="#3f3f3f" stroke-width="1.8"/>
</g>
<path d="M234.30,84.00 C234.33,81.75 235.05,80.62 236.70,79.50 C238.35,78.38 241.18,77.58 244.20,77.30 C247.22,77.02 251.25,77.42 254.80,77.80 C258.35,78.18 261.95,78.65 265.50,79.60 C269.05,80.55 272.90,81.85 276.10,83.50 C279.30,85.15 282.38,87.42 284.70,89.50 C287.02,91.58 288.95,93.75 290.00,96.00 C291.05,98.25 291.33,101.08 291.00,103.00 C290.67,104.92 288.92,107.00 288.00,107.50 C287.08,108.00 286.00,107.42 285.50,106.00 C285.00,104.58 285.58,101.17 285.00,99.00 C284.42,96.83 283.50,94.75 282.00,93.00 C280.50,91.25 278.33,89.63 276.00,88.50 C273.67,87.37 271.00,86.68 268.00,86.20 C265.00,85.72 261.33,85.55 258.00,85.60 C254.67,85.65 251.00,85.93 248.00,86.50 C245.00,87.07 241.92,87.92 240.00,89.00 C238.08,90.08 237.45,93.83 236.50,93.00 C235.55,92.17 234.27,86.25 234.30,84.00 Z" fill="#fbfbfb" stroke="#6a6a6a" stroke-width="0.9"/>
<path d="M236.50,99.00 C237.17,97.25 237.92,95.00 239.50,93.50 C241.08,92.00 243.73,90.92 246.00,90.00 C248.27,89.08 250.43,88.50 253.10,88.00 C255.77,87.50 259.05,87.08 262.00,87.00 C264.95,86.92 268.13,87.00 270.80,87.50 C273.47,88.00 275.90,88.92 278.00,90.00 C280.10,91.08 282.08,92.33 283.40,94.00 C284.72,95.67 285.48,98.07 285.90,100.00 C286.32,101.93 286.88,103.93 285.90,105.60 C284.92,107.27 282.15,108.48 280.00,110.00 C277.85,111.52 276.83,113.73 273.00,114.70 C269.17,115.67 261.45,115.43 257.00,115.80 C252.55,116.17 249.32,117.87 246.30,116.90 C243.28,115.93 240.70,112.15 238.90,110.00 C237.10,107.85 235.90,105.83 235.50,104.00 C235.10,102.17 235.83,100.75 236.50,99.00 Z" fill="#b9b9b9" stroke="#6a6a6a" stroke-width="0.8"/>
<path d="M256.00,90.00 C256.83,89.17 261.33,88.17 264.00,88.00 C266.67,87.83 269.50,88.25 272.00,89.00 C274.50,89.75 277.00,90.83 279.00,92.50 C281.00,94.17 283.00,96.75 284.00,99.00 C285.00,101.25 285.50,104.17 285.00,106.00 C284.50,107.83 282.17,110.33 281.00,110.00 C279.83,109.67 279.17,106.00 278.00,104.00 C276.83,102.00 275.83,99.58 274.00,98.00 C272.17,96.42 269.50,95.33 267.00,94.50 C264.50,93.67 260.83,93.75 259.00,93.00 C257.17,92.25 255.17,90.83 256.00,90.00 Z" fill="#8f8f8f"/>
<path d="M262.00,104.00 C263.00,101.83 267.50,100.17 270.00,100.00 C272.50,99.83 275.50,101.33 277.00,103.00 C278.50,104.67 279.83,108.17 279.00,110.00 C278.17,111.83 274.50,113.50 272.00,114.00 C269.50,114.50 265.67,114.67 264.00,113.00 C262.33,111.33 261.00,106.17 262.00,104.00 Z" fill="#a4a4a4"/>
<path d="M255.50,116.00 C256.50,115.07 260.23,114.90 262.00,115.40 C263.77,115.90 265.60,117.48 266.10,119.00 C266.60,120.52 266.18,123.40 265.00,124.50 C263.82,125.60 260.50,126.18 259.00,125.60 C257.50,125.02 256.58,122.60 256.00,121.00 C255.42,119.40 254.50,116.93 255.50,116.00 Z" fill="#7d7d7d" stroke="#555" stroke-width="0.6"/>
<path d="M260.30,129.00 C260.63,128.23 262.67,127.62 264.00,127.70 C265.33,127.78 267.80,128.70 268.30,129.50 C268.80,130.30 268.05,132.03 267.00,132.50 C265.95,132.97 263.12,132.88 262.00,132.30 C260.88,131.72 259.97,129.77 260.30,129.00 Z" fill="#6a6a6a"/>
<clipPath id="c1b"><path d="M188.10,119.20 C187.08,120.73 189.10,124.02 189.10,126.40 C189.10,128.78 187.77,131.30 188.10,133.50 C188.43,135.70 189.57,137.73 191.10,139.60 C192.63,141.47 194.92,143.33 197.30,144.70 C199.68,146.07 203.02,146.93 205.40,147.80 C207.78,148.67 210.23,149.05 211.60,149.90 C212.97,150.75 212.07,152.23 213.60,152.90 C215.13,153.57 218.42,153.90 220.80,153.90 C223.18,153.90 226.12,153.75 227.90,152.90 C229.68,152.05 230.98,150.50 231.50,148.80 C232.02,147.10 231.43,144.05 231.00,142.70 C230.57,141.35 228.40,141.03 228.90,140.70 C229.40,140.37 231.78,140.88 234.00,140.70 C236.22,140.52 239.80,140.28 242.20,139.60 C244.60,138.92 246.78,138.13 248.40,136.60 C250.02,135.07 251.57,132.28 251.90,130.40 C252.23,128.52 251.67,126.48 250.40,125.30 C249.13,124.12 246.17,123.47 244.30,123.30 C242.43,123.13 240.23,124.82 239.20,124.30 C238.17,123.78 238.20,121.73 238.10,120.20 C238.00,118.67 238.93,116.38 238.60,115.10 C238.27,113.82 238.22,112.88 236.10,112.50 C233.98,112.12 229.30,112.68 225.90,112.80 C222.50,112.92 219.12,112.90 215.70,113.20 C212.28,113.50 208.82,113.93 205.40,114.60 C201.98,115.27 198.08,116.43 195.20,117.20 C192.32,117.97 189.12,117.67 188.10,119.20 Z"/></clipPath>
<g clip-path="url(#c1b)">
<path d="M188.10,119.20 C187.08,120.73 189.10,124.02 189.10,126.40 C189.10,128.78 187.77,131.30 188.10,133.50 C188.43,135.70 189.57,137.73 191.10,139.60 C192.63,141.47 194.92,143.33 197.30,144.70 C199.68,146.07 203.02,146.93 205.40,147.80 C207.78,148.67 210.23,149.05 211.60,149.90 C212.97,150.75 212.07,152.23 213.60,152.90 C215.13,153.57 218.42,153.90 220.80,153.90 C223.18,153.90 226.12,153.75 227.90,152.90 C229.68,152.05 230.98,150.50 231.50,148.80 C232.02,147.10 231.43,144.05 231.00,142.70 C230.57,141.35 228.40,141.03 228.90,140.70 C229.40,140.37 231.78,140.88 234.00,140.70 C236.22,140.52 239.80,140.28 242.20,139.60 C244.60,138.92 246.78,138.13 248.40,136.60 C250.02,135.07 251.57,132.28 251.90,130.40 C252.23,128.52 251.67,126.48 250.40,125.30 C249.13,124.12 246.17,123.47 244.30,123.30 C242.43,123.13 240.23,124.82 239.20,124.30 C238.17,123.78 238.20,121.73 238.10,120.20 C238.00,118.67 238.93,116.38 238.60,115.10 C238.27,113.82 238.22,112.88 236.10,112.50 C233.98,112.12 229.30,112.68 225.90,112.80 C222.50,112.92 219.12,112.90 215.70,113.20 C212.28,113.50 208.82,113.93 205.40,114.60 C201.98,115.27 198.08,116.43 195.20,117.20 C192.32,117.97 189.12,117.67 188.10,119.20 Z" fill="#a2a2a2"/>
<line x1="196.0" y1="112" x2="195.6" y2="127" stroke="#747474" stroke-width="1.3"/>
<line x1="199.6" y1="112" x2="199.6" y2="127" stroke="#747474" stroke-width="1.3"/>
<line x1="203.2" y1="112" x2="203.6" y2="127" stroke="#747474" stroke-width="1.3"/>
<line x1="206.8" y1="112" x2="207.6" y2="127" stroke="#747474" stroke-width="1.3"/>
<line x1="210.4" y1="112" x2="211.6" y2="127" stroke="#747474" stroke-width="1.3"/>
<line x1="214.0" y1="112" x2="215.6" y2="127" stroke="#747474" stroke-width="1.3"/>
<line x1="217.6" y1="112" x2="219.6" y2="127" stroke="#747474" stroke-width="1.3"/>
<line x1="221.2" y1="112" x2="223.6" y2="127" stroke="#747474" stroke-width="1.3"/>
<line x1="224.8" y1="112" x2="227.6" y2="127" stroke="#747474" stroke-width="1.3"/>
<line x1="228.4" y1="112" x2="231.6" y2="127" stroke="#747474" stroke-width="1.3"/>
<line x1="232.0" y1="112" x2="235.6" y2="127" stroke="#747474" stroke-width="1.3"/>
<line x1="235.6" y1="112" x2="239.6" y2="127" stroke="#747474" stroke-width="1.3"/>
<line x1="214.0" y1="138.9" x2="209.8" y2="162.5" stroke="#777" stroke-width="1.2"/>
<line x1="212.8" y1="138.6" x2="204.2" y2="161.0" stroke="#777" stroke-width="1.2"/>
<line x1="211.8" y1="138.1" x2="199.1" y2="158.4" stroke="#777" stroke-width="1.2"/>
<line x1="210.9" y1="137.4" x2="194.5" y2="154.9" stroke="#777" stroke-width="1.2"/>
<line x1="210.1" y1="136.5" x2="190.7" y2="150.6" stroke="#777" stroke-width="1.2"/>
<line x1="209.6" y1="135.5" x2="187.8" y2="145.7" stroke="#777" stroke-width="1.2"/>
<line x1="209.2" y1="134.5" x2="185.9" y2="140.3" stroke="#777" stroke-width="1.2"/>
<line x1="209.0" y1="133.3" x2="185.0" y2="134.6" stroke="#777" stroke-width="1.2"/>
<line x1="209.1" y1="132.2" x2="185.3" y2="128.8" stroke="#777" stroke-width="1.2"/>
<line x1="209.3" y1="131.0" x2="186.6" y2="123.2" stroke="#777" stroke-width="1.2"/>
<line x1="219.6" y1="136.1" x2="236.6" y2="142.2" stroke="#777" stroke-width="1.2"/>
<line x1="219.1" y1="137.1" x2="234.6" y2="146.4" stroke="#777" stroke-width="1.2"/>
<line x1="218.5" y1="138.0" x2="231.8" y2="150.1" stroke="#777" stroke-width="1.2"/>
<line x1="217.6" y1="138.8" x2="228.4" y2="153.2" stroke="#777" stroke-width="1.2"/>
<line x1="216.6" y1="139.4" x2="224.5" y2="155.6" stroke="#777" stroke-width="1.2"/>
<line x1="215.6" y1="139.8" x2="220.2" y2="157.2" stroke="#777" stroke-width="1.2"/>
<line x1="214.4" y1="140.0" x2="215.7" y2="157.9" stroke="#777" stroke-width="1.2"/>
<line x1="213.3" y1="140.0" x2="211.1" y2="157.8" stroke="#777" stroke-width="1.2"/>
<path d="M203.00,131.00 C203.33,129.50 208.33,127.75 212.00,127.00 C215.67,126.25 221.00,126.67 225.00,126.50 C229.00,126.33 232.83,126.33 236.00,126.00 C239.17,125.67 241.60,124.42 244.00,124.50 C246.40,124.58 249.23,125.42 250.40,126.50 C251.57,127.58 251.57,129.42 251.00,131.00 C250.43,132.58 248.83,134.75 247.00,136.00 C245.17,137.25 242.83,138.17 240.00,138.50 C237.17,138.83 233.33,138.25 230.00,138.00 C226.67,137.75 223.33,137.33 220.00,137.00 C216.67,136.67 212.83,137.00 210.00,136.00 C207.17,135.00 202.67,132.50 203.00,131.00 Z" fill="#cfcfcf"/>
<path d="M188.10,119.20 C187.08,120.73 189.10,124.02 189.10,126.40 C189.10,128.78 187.77,131.30 188.10,133.50 C188.43,135.70 189.57,137.73 191.10,139.60 C192.63,141.47 194.92,143.33 197.30,144.70 C199.68,146.07 203.02,146.93 205.40,147.80 C207.78,148.67 210.23,149.05 211.60,149.90 C212.97,150.75 212.07,152.23 213.60,152.90 C215.13,153.57 218.42,153.90 220.80,153.90 C223.18,153.90 226.12,153.75 227.90,152.90 C229.68,152.05 230.98,150.50 231.50,148.80 C232.02,147.10 231.43,144.05 231.00,142.70 C230.57,141.35 228.40,141.03 228.90,140.70 C229.40,140.37 231.78,140.88 234.00,140.70 C236.22,140.52 239.80,140.28 242.20,139.60 C244.60,138.92 246.78,138.13 248.40,136.60 C250.02,135.07 251.57,132.28 251.90,130.40 C252.23,128.52 251.67,126.48 250.40,125.30 C249.13,124.12 246.17,123.47 244.30,123.30 C242.43,123.13 240.23,124.82 239.20,124.30 C238.17,123.78 238.20,121.73 238.10,120.20 C238.00,118.67 238.93,116.38 238.60,115.10 C238.27,113.82 238.22,112.88 236.10,112.50 C233.98,112.12 229.30,112.68 225.90,112.80 C222.50,112.92 219.12,112.90 215.70,113.20 C212.28,113.50 208.82,113.93 205.40,114.60 C201.98,115.27 198.08,116.43 195.20,117.20 C192.32,117.97 189.12,117.67 188.10,119.20 Z" fill="none" stroke="#484848" stroke-width="2"/>
</g>
<path d="M227.00,42.50 C227.42,41.77 228.83,40.97 230.00,40.80 C231.17,40.63 232.97,41.13 234.00,41.50 C235.03,41.87 236.12,42.28 236.20,43.00 C236.28,43.72 235.53,45.20 234.50,45.80 C233.47,46.40 231.17,46.70 230.00,46.60 C228.83,46.50 228.00,45.88 227.50,45.20 C227.00,44.52 226.58,43.23 227.00,42.50 Z" fill="#eded1e"/>
</g>
<g filter="url(#bl6)">
<clipPath id="c2"><path d="M15.10,204.60 C13.30,204.20 12.45,203.47 11.30,202.10 C10.15,200.73 9.03,198.82 8.20,196.40 C7.37,193.98 6.53,190.17 6.30,187.60 C6.07,185.03 6.50,182.77 6.80,181.00 C7.10,179.23 7.42,178.35 8.10,177.00 C8.78,175.65 9.98,174.72 10.90,172.90 C11.82,171.08 12.58,168.13 13.60,166.10 C14.62,164.07 16.55,162.28 17.00,160.70 C17.45,159.12 15.75,157.85 16.30,156.60 C16.85,155.35 19.07,154.43 20.30,153.20 C21.53,151.97 22.68,150.43 23.70,149.20 C24.72,147.97 25.48,147.05 26.40,145.80 C27.32,144.55 28.07,142.83 29.20,141.70 C30.33,140.57 31.97,139.57 33.20,139.00 C34.43,138.43 35.80,139.10 36.60,138.30 C37.40,137.50 37.20,135.17 38.00,134.20 C38.80,133.23 40.27,132.50 41.40,132.50 C42.53,132.50 43.68,134.25 44.80,134.20 C45.92,134.15 47.20,132.65 48.10,132.20 C49.00,131.75 49.17,131.77 50.20,131.50 C51.23,131.23 52.95,130.60 54.30,130.60 C55.65,130.60 57.28,130.78 58.30,131.50 C59.32,132.22 59.60,134.97 60.40,134.90 C61.20,134.83 61.87,131.95 63.10,131.10 C64.33,130.25 66.33,129.83 67.80,129.80 C69.27,129.77 70.40,130.27 71.90,130.90 C73.40,131.53 74.85,132.58 76.80,133.60 C78.75,134.62 81.57,136.43 83.60,137.00 C85.63,137.57 87.20,136.67 89.00,137.00 C90.80,137.33 92.60,138.45 94.40,139.00 C96.20,139.55 98.22,139.52 99.80,140.30 C101.38,141.08 102.32,142.68 103.90,143.70 C105.48,144.72 107.72,145.38 109.30,146.40 C110.88,147.42 112.03,148.67 113.40,149.80 C114.77,150.93 116.15,152.07 117.50,153.20 C118.85,154.33 120.15,155.35 121.50,156.60 C122.85,157.85 124.23,159.12 125.60,160.70 C126.97,162.28 128.57,164.30 129.70,166.10 C130.83,167.90 131.60,169.68 132.40,171.50 C133.20,173.32 133.75,175.15 134.50,177.00 C135.25,178.85 136.72,180.62 136.90,182.60 C137.08,184.58 135.60,186.80 135.60,188.90 C135.60,191.00 137.12,193.32 136.90,195.20 C136.68,197.08 135.78,198.85 134.30,200.20 C132.82,201.55 130.52,202.47 128.00,203.30 C125.48,204.13 121.92,204.35 119.20,205.20 C116.48,206.05 113.58,208.18 111.70,208.40 C109.82,208.62 108.95,207.55 107.90,206.50 C106.85,205.45 106.45,202.83 105.40,202.10 C104.35,201.37 103.08,201.90 101.60,202.10 C100.12,202.30 97.55,202.57 96.50,203.30 C95.45,204.03 95.08,205.33 95.30,206.50 C95.52,207.67 96.33,209.25 97.80,210.30 C99.27,211.35 102.32,211.75 104.10,212.80 C105.88,213.85 107.98,215.13 108.50,216.60 C109.02,218.07 108.57,220.55 107.20,221.60 C105.83,222.65 102.28,222.27 100.30,222.90 C98.32,223.53 96.98,224.35 95.30,225.40 C93.62,226.45 91.88,228.57 90.20,229.20 C88.52,229.83 86.67,229.83 85.20,229.20 C83.73,228.57 83.08,226.67 81.40,225.40 C79.72,224.13 77.32,222.87 75.10,221.60 C72.88,220.33 70.75,219.07 68.10,217.80 C65.45,216.53 62.15,215.25 59.20,214.00 C56.25,212.75 54.17,211.67 50.40,210.30 C46.63,208.93 41.32,206.77 36.60,205.80 C31.88,204.83 25.68,204.70 22.10,204.50 C18.52,204.30 16.90,205.00 15.10,204.60 Z"/></clipPath>
<g clip-path="url(#c2)">
<path d="M15.10,204.60 C13.30,204.20 12.45,203.47 11.30,202.10 C10.15,200.73 9.03,198.82 8.20,196.40 C7.37,193.98 6.53,190.17 6.30,187.60 C6.07,185.03 6.50,182.77 6.80,181.00 C7.10,179.23 7.42,178.35 8.10,177.00 C8.78,175.65 9.98,174.72 10.90,172.90 C11.82,171.08 12.58,168.13 13.60,166.10 C14.62,164.07 16.55,162.28 17.00,160.70 C17.45,159.12 15.75,157.85 16.30,156.60 C16.85,155.35 19.07,154.43 20.30,153.20 C21.53,151.97 22.68,150.43 23.70,149.20 C24.72,147.97 25.48,147.05 26.40,145.80 C27.32,144.55 28.07,142.83 29.20,141.70 C30.33,140.57 31.97,139.57 33.20,139.00 C34.43,138.43 35.80,139.10 36.60,138.30 C37.40,137.50 37.20,135.17 38.00,134.20 C38.80,133.23 40.27,132.50 41.40,132.50 C42.53,132.50 43.68,134.25 44.80,134.20 C45.92,134.15 47.20,132.65 48.10,132.20 C49.00,131.75 49.17,131.77 50.20,131.50 C51.23,131.23 52.95,130.60 54.30,130.60 C55.65,130.60 57.28,130.78 58.30,131.50 C59.32,132.22 59.60,134.97 60.40,134.90 C61.20,134.83 61.87,131.95 63.10,131.10 C64.33,130.25 66.33,129.83 67.80,129.80 C69.27,129.77 70.40,130.27 71.90,130.90 C73.40,131.53 74.85,132.58 76.80,133.60 C78.75,134.62 81.57,136.43 83.60,137.00 C85.63,137.57 87.20,136.67 89.00,137.00 C90.80,137.33 92.60,138.45 94.40,139.00 C96.20,139.55 98.22,139.52 99.80,140.30 C101.38,141.08 102.32,142.68 103.90,143.70 C105.48,144.72 107.72,145.38 109.30,146.40 C110.88,147.42 112.03,148.67 113.40,149.80 C114.77,150.93 116.15,152.07 117.50,153.20 C118.85,154.33 120.15,155.35 121.50,156.60 C122.85,157.85 124.23,159.12 125.60,160.70 C126.97,162.28 128.57,164.30 129.70,166.10 C130.83,167.90 131.60,169.68 132.40,171.50 C133.20,173.32 133.75,175.15 134.50,177.00 C135.25,178.85 136.72,180.62 136.90,182.60 C137.08,184.58 135.60,186.80 135.60,188.90 C135.60,191.00 137.12,193.32 136.90,195.20 C136.68,197.08 135.78,198.85 134.30,200.20 C132.82,201.55 130.52,202.47 128.00,203.30 C125.48,204.13 121.92,204.35 119.20,205.20 C116.48,206.05 113.58,208.18 111.70,208.40 C109.82,208.62 108.95,207.55 107.90,206.50 C106.85,205.45 106.45,202.83 105.40,202.10 C104.35,201.37 103.08,201.90 101.60,202.10 C100.12,202.30 97.55,202.57 96.50,203.30 C95.45,204.03 95.08,205.33 95.30,206.50 C95.52,207.67 96.33,209.25 97.80,210.30 C99.27,211.35 102.32,211.75 104.10,212.80 C105.88,213.85 107.98,215.13 108.50,216.60 C109.02,218.07 108.57,220.55 107.20,221.60 C105.83,222.65 102.28,222.27 100.30,222.90 C98.32,223.53 96.98,224.35 95.30,225.40 C93.62,226.45 91.88,228.57 90.20,229.20 C88.52,229.83 86.67,229.83 85.20,229.20 C83.73,228.57 83.08,226.67 81.40,225.40 C79.72,224.13 77.32,222.87 75.10,221.60 C72.88,220.33 70.75,219.07 68.10,217.80 C65.45,216.53 62.15,215.25 59.20,214.00 C56.25,212.75 54.17,211.67 50.40,210.30 C46.63,208.93 41.32,206.77 36.60,205.80 C31.88,204.83 25.68,204.70 22.10,204.50 C18.52,204.30 16.90,205.00 15.10,204.60 Z" fill="#f0f0f0" stroke="#b2b2b2" stroke-width="8"/>
<path d="M15.10,204.60 C13.30,204.20 12.45,203.47 11.30,202.10 C10.15,200.73 9.03,198.82 8.20,196.40 C7.37,193.98 6.53,190.17 6.30,187.60 C6.07,185.03 6.50,182.77 6.80,181.00 C7.10,179.23 7.42,178.35 8.10,177.00 C8.78,175.65 9.98,174.72 10.90,172.90 C11.82,171.08 12.58,168.13 13.60,166.10 C14.62,164.07 16.55,162.28 17.00,160.70 C17.45,159.12 15.75,157.85 16.30,156.60 C16.85,155.35 19.07,154.43 20.30,153.20 C21.53,151.97 22.68,150.43 23.70,149.20 C24.72,147.97 25.48,147.05 26.40,145.80 C27.32,144.55 28.07,142.83 29.20,141.70 C30.33,140.57 31.97,139.57 33.20,139.00 C34.43,138.43 35.80,139.10 36.60,138.30 C37.40,137.50 37.20,135.17 38.00,134.20 C38.80,133.23 40.27,132.50 41.40,132.50 C42.53,132.50 43.68,134.25 44.80,134.20 C45.92,134.15 47.20,132.65 48.10,132.20 C49.00,131.75 49.17,131.77 50.20,131.50 C51.23,131.23 52.95,130.60 54.30,130.60 C55.65,130.60 57.28,130.78 58.30,131.50 C59.32,132.22 59.60,134.97 60.40,134.90 C61.20,134.83 61.87,131.95 63.10,131.10 C64.33,130.25 66.33,129.83 67.80,129.80 C69.27,129.77 70.40,130.27 71.90,130.90 C73.40,131.53 74.85,132.58 76.80,133.60 C78.75,134.62 81.57,136.43 83.60,137.00 C85.63,137.57 87.20,136.67 89.00,137.00 C90.80,137.33 92.60,138.45 94.40,139.00 C96.20,139.55 98.22,139.52 99.80,140.30 C101.38,141.08 102.32,142.68 103.90,143.70 C105.48,144.72 107.72,145.38 109.30,146.40 C110.88,147.42 112.03,148.67 113.40,149.80 C114.77,150.93 116.15,152.07 117.50,153.20 C118.85,154.33 120.15,155.35 121.50,156.60 C122.85,157.85 124.23,159.12 125.60,160.70 C126.97,162.28 128.57,164.30 129.70,166.10 C130.83,167.90 131.60,169.68 132.40,171.50 C133.20,173.32 133.75,175.15 134.50,177.00 C135.25,178.85 136.72,180.62 136.90,182.60 C137.08,184.58 135.60,186.80 135.60,188.90 C135.60,191.00 137.12,193.32 136.90,195.20 C136.68,197.08 135.78,198.85 134.30,200.20 C132.82,201.55 130.52,202.47 128.00,203.30 C125.48,204.13 121.92,204.35 119.20,205.20 C116.48,206.05 113.58,208.18 111.70,208.40 C109.82,208.62 108.95,207.55 107.90,206.50 C106.85,205.45 106.45,202.83 105.40,202.10 C104.35,201.37 103.08,201.90 101.60,202.10 C100.12,202.30 97.55,202.57 96.50,203.30 C95.45,204.03 95.08,205.33 95.30,206.50 C95.52,207.67 96.33,209.25 97.80,210.30 C99.27,211.35 102.32,211.75 104.10,212.80 C105.88,213.85 107.98,215.13 108.50,216.60 C109.02,218.07 108.57,220.55 107.20,221.60 C105.83,222.65 102.28,222.27 100.30,222.90 C98.32,223.53 96.98,224.35 95.30,225.40 C93.62,226.45 91.88,228.57 90.20,229.20 C88.52,229.83 86.67,229.83 85.20,229.20 C83.73,228.57 83.08,226.67 81.40,225.40 C79.72,224.13 77.32,222.87 75.10,221.60 C72.88,220.33 70.75,219.07 68.10,217.80 C65.45,216.53 62.15,215.25 59.20,214.00 C56.25,212.75 54.17,211.67 50.40,210.30 C46.63,208.93 41.32,206.77 36.60,205.80 C31.88,204.83 25.68,204.70 22.10,204.50 C18.52,204.30 16.90,205.00 15.10,204.60 Z" fill="none" stroke="#7a7a7a" stroke-width="3.6"/>
<path d="M10.00,186.00 C12.50,184.83 19.17,189.33 25.00,191.00 C30.83,192.67 38.33,194.33 45.00,196.00 C51.67,197.67 58.33,199.33 65.00,201.00 C71.67,202.67 79.17,204.33 85.00,206.00 C90.83,207.67 96.17,209.17 100.00,211.00 C103.83,212.83 108.00,215.00 108.00,217.00 C108.00,219.00 103.33,221.00 100.00,223.00 C96.67,225.00 91.67,229.00 88.00,229.00 C84.33,229.00 82.67,225.50 78.00,223.00 C73.33,220.50 66.33,216.67 60.00,214.00 C53.67,211.33 46.67,208.67 40.00,207.00 C33.33,205.33 25.00,205.50 20.00,204.00 C15.00,202.50 11.67,201.00 10.00,198.00 C8.33,195.00 7.50,187.17 10.00,186.00 Z" fill="#d8d8d8"/>
<path d="M11.0,172.7 Q17.2,173.3 23.0,175.4" fill="none" stroke="#a3a3a3" stroke-width="5" stroke-linecap="round"/>
<path d="M13.6,166.1 Q20.6,167.6 24.2,173.7" fill="none" stroke="#a3a3a3" stroke-width="5" stroke-linecap="round"/>
<path d="M16.9,159.8 Q22.6,155.0 30.0,153.3" fill="none" stroke="#a3a3a3" stroke-width="5" stroke-linecap="round"/>
<path d="M19.3,154.1 Q25.5,159.1 31.4,164.4" fill="none" stroke="#a3a3a3" stroke-width="5" stroke-linecap="round"/>
<path d="M24.1,148.7 Q27.2,153.8 31.7,157.8" fill="none" stroke="#a3a3a3" stroke-width="5" stroke-linecap="round"/>
<path d="M28.4,142.9 Q33.5,147.6 40.5,147.9" fill="none" stroke="#a3a3a3" stroke-width="5" stroke-linecap="round"/>
<path d="M34.1,138.8 Q34.2,145.9 36.7,152.5" fill="none" stroke="#a3a3a3" stroke-width="5" stroke-linecap="round"/>
<path d="M38.2,134.1 Q42.4,139.8 47.6,144.6" fill="none" stroke="#a3a3a3" stroke-width="5" stroke-linecap="round"/>
<path d="M44.7,134.1 Q41.9,137.5 41.9,141.9" fill="none" stroke="#a3a3a3" stroke-width="5" stroke-linecap="round"/>
<path d="M51.2,131.3 Q50.2,138.6 54.3,144.7" fill="none" stroke="#a3a3a3" stroke-width="5" stroke-linecap="round"/>
<path d="M58.2,131.5 Q56.3,139.0 52.9,145.9" fill="none" stroke="#a3a3a3" stroke-width="5" stroke-linecap="round"/>
<path d="M62.2,132.4 Q64.4,138.3 70.3,140.6" fill="none" stroke="#a3a3a3" stroke-width="5" stroke-linecap="round"/>
<path d="M68.5,130.0 Q67.9,134.6 64.4,137.7" fill="none" stroke="#a3a3a3" stroke-width="5" stroke-linecap="round"/>
<path d="M75.2,132.7 Q73.1,140.3 70.0,147.6" fill="none" stroke="#a3a3a3" stroke-width="5" stroke-linecap="round"/>
<path d="M81.6,136.0 Q78.9,140.4 76.2,144.9" fill="none" stroke="#a3a3a3" stroke-width="5" stroke-linecap="round"/>
<path d="M88.5,137.0 Q88.4,142.4 89.3,147.8" fill="none" stroke="#a3a3a3" stroke-width="5" stroke-linecap="round"/>
<path d="M95.3,139.2 Q91.9,146.1 91.0,153.8" fill="none" stroke="#a3a3a3" stroke-width="5" stroke-linecap="round"/>
<path d="M101.8,142.0 Q93.7,143.3 89.7,150.6" fill="none" stroke="#a3a3a3" stroke-width="5" stroke-linecap="round"/>
<path d="M107.9,145.7 Q104.0,148.7 102.9,153.6" fill="none" stroke="#a3a3a3" stroke-width="5" stroke-linecap="round"/>
<path d="M113.7,150.0 Q107.1,153.9 101.1,158.6" fill="none" stroke="#a3a3a3" stroke-width="5" stroke-linecap="round"/>
<path d="M119.2,154.6 Q114.5,156.7 112.0,161.1" fill="none" stroke="#a3a3a3" stroke-width="5" stroke-linecap="round"/>
<path d="M124.4,159.5 Q122.2,164.7 116.9,166.5" fill="none" stroke="#a3a3a3" stroke-width="5" stroke-linecap="round"/>
<path d="M129.0,165.1 Q123.1,171.5 114.5,171.9" fill="none" stroke="#a3a3a3" stroke-width="5" stroke-linecap="round"/>
<path d="M132.4,171.4 Q127.5,174.9 121.5,174.6" fill="none" stroke="#a3a3a3" stroke-width="5" stroke-linecap="round"/>
<path d="M11.0,172.7 Q17.2,173.3 23.0,175.4" fill="none" stroke="#2e2e2e" stroke-width="1.3" stroke-linecap="round"/>
<path d="M13.6,166.1 Q20.6,167.6 24.2,173.7" fill="none" stroke="#2e2e2e" stroke-width="1.3" stroke-linecap="round"/>
<path d="M16.9,159.8 Q22.6,155.0 30.0,153.3" fill="none" stroke="#2e2e2e" stroke-width="1.3" stroke-linecap="round"/>
<path d="M19.3,154.1 Q25.5,159.1 31.4,164.4" fill="none" stroke="#2e2e2e" stroke-width="1.3" stroke-linecap="round"/>
<path d="M24.1,148.7 Q27.2,153.8 31.7,157.8" fill="none" stroke="#2e2e2e" stroke-width="1.3" stroke-linecap="round"/>
<path d="M28.4,142.9 Q33.5,147.6 40.5,147.9" fill="none" stroke="#2e2e2e" stroke-width="1.3" stroke-linecap="round"/>
<path d="M34.1,138.8 Q34.2,145.9 36.7,152.5" fill="none" stroke="#2e2e2e" stroke-width="1.3" stroke-linecap="round"/>
<path d="M38.2,134.1 Q42.4,139.8 47.6,144.6" fill="none" stroke="#2e2e2e" stroke-width="1.3" stroke-linecap="round"/>
<path d="M44.7,134.1 Q41.9,137.5 41.9,141.9" fill="none" stroke="#2e2e2e" stroke-width="1.3" stroke-linecap="round"/>
<path d="M51.2,131.3 Q50.2,138.6 54.3,144.7" fill="none" stroke="#2e2e2e" stroke-width="1.3" stroke-linecap="round"/>
<path d="M58.2,131.5 Q56.3,139.0 52.9,145.9" fill="none" stroke="#2e2e2e" stroke-width="1.3" stroke-linecap="round"/>
<path d="M62.2,132.4 Q64.4,138.3 70.3,140.6" fill="none" stroke="#2e2e2e" stroke-width="1.3" stroke-linecap="round"/>
<path d="M68.5,130.0 Q67.9,134.6 64.4,137.7" fill="none" stroke="#2e2e2e" stroke-width="1.3" stroke-linecap="round"/>
<path d="M75.2,132.7 Q73.1,140.3 70.0,147.6" fill="none" stroke="#2e2e2e" stroke-width="1.3" stroke-linecap="round"/>
<path d="M81.6,136.0 Q78.9,140.4 76.2,144.9" fill="none" stroke="#2e2e2e" stroke-width="1.3" stroke-linecap="round"/>
<path d="M88.5,137.0 Q88.4,142.4 89.3,147.8" fill="none" stroke="#2e2e2e" stroke-width="1.3" stroke-linecap="round"/>
<path d="M95.3,139.2 Q91.9,146.1 91.0,153.8" fill="none" stroke="#2e2e2e" stroke-width="1.3" stroke-linecap="round"/>
<path d="M101.8,142.0 Q93.7,143.3 89.7,150.6" fill="none" stroke="#2e2e2e" stroke-width="1.3" stroke-linecap="round"/>
<path d="M107.9,145.7 Q104.0,148.7 102.9,153.6" fill="none" stroke="#2e2e2e" stroke-width="1.3" stroke-linecap="round"/>
<path d="M113.7,150.0 Q107.1,153.9 101.1,158.6" fill="none" stroke="#2e2e2e" stroke-width="1.3" stroke-linecap="round"/>
<path d="M119.2,154.6 Q114.5,156.7 112.0,161.1" fill="none" stroke="#2e2e2e" stroke-width="1.3" stroke-linecap="round"/>
<path d="M124.4,159.5 Q122.2,164.7 116.9,166.5" fill="none" stroke="#2e2e2e" stroke-width="1.3" stroke-linecap="round"/>
<path d="M129.0,165.1 Q123.1,171.5 114.5,171.9" fill="none" stroke="#2e2e2e" stroke-width="1.3" stroke-linecap="round"/>
<path d="M132.4,171.4 Q127.5,174.9 121.5,174.6" fill="none" stroke="#2e2e2e" stroke-width="1.3" stroke-linecap="round"/>
<path d="M15.1,204.6 Q18.4,202.2 19.8,198.5" fill="none" stroke="#a3a3a3" stroke-width="4.5" stroke-linecap="round"/>
<path d="M9.9,199.5 Q14.0,200.2 17.4,197.7" fill="none" stroke="#a3a3a3" stroke-width="4.5" stroke-linecap="round"/>
<path d="M7.4,192.5 Q10.8,192.3 12.9,189.5" fill="none" stroke="#a3a3a3" stroke-width="4.5" stroke-linecap="round"/>
<path d="M6.5,185.1 Q11.0,184.2 14.9,186.5" fill="none" stroke="#a3a3a3" stroke-width="4.5" stroke-linecap="round"/>
<path d="M7.8,177.8 Q10.3,178.7 12.8,179.3" fill="none" stroke="#a3a3a3" stroke-width="4.5" stroke-linecap="round"/>
<path d="M135.5,179.2 Q133.8,180.5 131.7,180.7" fill="none" stroke="#a3a3a3" stroke-width="4.5" stroke-linecap="round"/>
<path d="M136.1,186.4 Q131.9,184.9 127.6,185.8" fill="none" stroke="#a3a3a3" stroke-width="4.5" stroke-linecap="round"/>
<path d="M136.6,193.7 Q133.5,196.6 129.3,196.9" fill="none" stroke="#a3a3a3" stroke-width="4.5" stroke-linecap="round"/>
<path d="M134.0,200.4 Q132.0,198.6 132.2,196.1" fill="none" stroke="#a3a3a3" stroke-width="4.5" stroke-linecap="round"/>
<path d="M127.2,203.5 Q126.5,200.9 127.2,198.4" fill="none" stroke="#a3a3a3" stroke-width="4.5" stroke-linecap="round"/>
<path d="M119.9,205.1 Q119.3,200.8 120.5,196.7" fill="none" stroke="#a3a3a3" stroke-width="4.5" stroke-linecap="round"/>
<path d="M112.9,207.9 Q113.1,204.5 112.1,201.2" fill="none" stroke="#a3a3a3" stroke-width="4.5" stroke-linecap="round"/>
<path d="M106.9,204.8 Q110.8,202.7 113.6,199.3" fill="none" stroke="#a3a3a3" stroke-width="4.5" stroke-linecap="round"/>
<path d="M101.0,202.2 Q100.4,198.0 101.5,193.8" fill="none" stroke="#a3a3a3" stroke-width="4.5" stroke-linecap="round"/>
<path d="M95.5,205.9 Q93.0,206.1 90.9,204.6" fill="none" stroke="#a3a3a3" stroke-width="4.5" stroke-linecap="round"/>
<path d="M100.0,211.2 Q99.4,213.9 99.4,216.6" fill="none" stroke="#a3a3a3" stroke-width="4.5" stroke-linecap="round"/>
<path d="M106.4,214.8 Q105.5,218.4 103.5,221.6" fill="none" stroke="#a3a3a3" stroke-width="4.5" stroke-linecap="round"/>
<path d="M107.3,221.2 Q103.3,220.7 99.3,220.1" fill="none" stroke="#a3a3a3" stroke-width="4.5" stroke-linecap="round"/>
<path d="M100.2,222.9 Q99.0,219.9 96.7,217.6" fill="none" stroke="#a3a3a3" stroke-width="4.5" stroke-linecap="round"/>
<path d="M93.7,226.6 Q88.9,225.5 86.7,221.1" fill="none" stroke="#a3a3a3" stroke-width="4.5" stroke-linecap="round"/>
<path d="M87.1,229.2 Q85.7,224.8 88.3,221.1" fill="none" stroke="#a3a3a3" stroke-width="4.5" stroke-linecap="round"/>
<path d="M81.2,225.3 Q83.3,223.2 85.0,220.9" fill="none" stroke="#a3a3a3" stroke-width="4.5" stroke-linecap="round"/>
<path d="M74.7,221.4 Q74.5,219.2 75.6,217.3" fill="none" stroke="#a3a3a3" stroke-width="4.5" stroke-linecap="round"/>
<path d="M68.2,217.8 Q70.4,216.5 71.6,214.3" fill="none" stroke="#a3a3a3" stroke-width="4.5" stroke-linecap="round"/>
<path d="M61.3,214.9 Q63.4,211.0 66.6,208.0" fill="none" stroke="#a3a3a3" stroke-width="4.5" stroke-linecap="round"/>
<path d="M54.4,212.0 Q56.2,209.1 56.4,205.7" fill="none" stroke="#a3a3a3" stroke-width="4.5" stroke-linecap="round"/>
<path d="M47.3,209.3 Q48.8,205.5 48.0,201.6" fill="none" stroke="#a3a3a3" stroke-width="4.5" stroke-linecap="round"/>
<path d="M40.2,207.0 Q42.1,205.6 42.3,203.4" fill="none" stroke="#a3a3a3" stroke-width="4.5" stroke-linecap="round"/>
<path d="M32.9,205.5 Q32.8,202.6 32.0,199.8" fill="none" stroke="#a3a3a3" stroke-width="4.5" stroke-linecap="round"/>
<path d="M25.4,204.8 Q27.5,202.5 27.4,199.4" fill="none" stroke="#a3a3a3" stroke-width="4.5" stroke-linecap="round"/>
<path d="M15.1,204.6 Q18.4,202.2 19.8,198.5" fill="none" stroke="#3a3a3a" stroke-width="1.2" stroke-linecap="round"/>
<path d="M9.9,199.5 Q14.0,200.2 17.4,197.7" fill="none" stroke="#3a3a3a" stroke-width="1.2" stroke-linecap="round"/>
<path d="M7.4,192.5 Q10.8,192.3 12.9,189.5" fill="none" stroke="#3a3a3a" stroke-width="1.2" stroke-linecap="round"/>
<path d="M6.5,185.1 Q11.0,184.2 14.9,186.5" fill="none" stroke="#3a3a3a" stroke-width="1.2" stroke-linecap="round"/>
<path d="M7.8,177.8 Q10.3,178.7 12.8,179.3" fill="none" stroke="#3a3a3a" stroke-width="1.2" stroke-linecap="round"/>
<path d="M135.5,179.2 Q133.8,180.5 131.7,180.7" fill="none" stroke="#3a3a3a" stroke-width="1.2" stroke-linecap="round"/>
<path d="M136.1,186.4 Q131.9,184.9 127.6,185.8" fill="none" stroke="#3a3a3a" stroke-width="1.2" stroke-linecap="round"/>
<path d="M136.6,193.7 Q133.5,196.6 129.3,196.9" fill="none" stroke="#3a3a3a" stroke-width="1.2" stroke-linecap="round"/>
<path d="M134.0,200.4 Q132.0,198.6 132.2,196.1" fill="none" stroke="#3a3a3a" stroke-width="1.2" stroke-linecap="round"/>
<path d="M127.2,203.5 Q126.5,200.9 127.2,198.4" fill="none" stroke="#3a3a3a" stroke-width="1.2" stroke-linecap="round"/>
<path d="M119.9,205.1 Q119.3,200.8 120.5,196.7" fill="none" stroke="#3a3a3a" stroke-width="1.2" stroke-linecap="round"/>
<path d="M112.9,207.9 Q113.1,204.5 112.1,201.2" fill="none" stroke="#3a3a3a" stroke-width="1.2" stroke-linecap="round"/>
<path d="M106.9,204.8 Q110.8,202.7 113.6,199.3" fill="none" stroke="#3a3a3a" stroke-width="1.2" stroke-linecap="round"/>
<path d="M101.0,202.2 Q100.4,198.0 101.5,193.8" fill="none" stroke="#3a3a3a" stroke-width="1.2" stroke-linecap="round"/>
<path d="M95.5,205.9 Q93.0,206.1 90.9,204.6" fill="none" stroke="#3a3a3a" stroke-width="1.2" stroke-linecap="round"/>
<path d="M100.0,211.2 Q99.4,213.9 99.4,216.6" fill="none" stroke="#3a3a3a" stroke-width="1.2" stroke-linecap="round"/>
<path d="M106.4,214.8 Q105.5,218.4 103.5,221.6" fill="none" stroke="#3a3a3a" stroke-width="1.2" stroke-linecap="round"/>
<path d="M107.3,221.2 Q103.3,220.7 99.3,220.1" fill="none" stroke="#3a3a3a" stroke-width="1.2" stroke-linecap="round"/>
<path d="M100.2,222.9 Q99.0,219.9 96.7,217.6" fill="none" stroke="#3a3a3a" stroke-width="1.2" stroke-linecap="round"/>
<path d="M93.7,226.6 Q88.9,225.5 86.7,221.1" fill="none" stroke="#3a3a3a" stroke-width="1.2" stroke-linecap="round"/>
<path d="M87.1,229.2 Q85.7,224.8 88.3,221.1" fill="none" stroke="#3a3a3a" stroke-width="1.2" stroke-linecap="round"/>
<path d="M81.2,225.3 Q83.3,223.2 85.0,220.9" fill="none" stroke="#3a3a3a" stroke-width="1.2" stroke-linecap="round"/>
<path d="M74.7,221.4 Q74.5,219.2 75.6,217.3" fill="none" stroke="#3a3a3a" stroke-width="1.2" stroke-linecap="round"/>
<path d="M68.2,217.8 Q70.4,216.5 71.6,214.3" fill="none" stroke="#3a3a3a" stroke-width="1.2" stroke-linecap="round"/>
<path d="M61.3,214.9 Q63.4,211.0 66.6,208.0" fill="none" stroke="#3a3a3a" stroke-width="1.2" stroke-linecap="round"/>
<path d="M54.4,212.0 Q56.2,209.1 56.4,205.7" fill="none" stroke="#3a3a3a" stroke-width="1.2" stroke-linecap="round"/>
<path d="M47.3,209.3 Q48.8,205.5 48.0,201.6" fill="none" stroke="#3a3a3a" stroke-width="1.2" stroke-linecap="round"/>
<path d="M40.2,207.0 Q42.1,205.6 42.3,203.4" fill="none" stroke="#3a3a3a" stroke-width="1.2" stroke-linecap="round"/>
<path d="M32.9,205.5 Q32.8,202.6 32.0,199.8" fill="none" stroke="#3a3a3a" stroke-width="1.2" stroke-linecap="round"/>
<path d="M25.4,204.8 Q27.5,202.5 27.4,199.4" fill="none" stroke="#3a3a3a" stroke-width="1.2" stroke-linecap="round"/>
<path d="M36.70,161.20 C37.67,161.58 41.53,163.12 42.50,163.50" fill="none" stroke="#5a5a5a" stroke-width="1.8" stroke-linecap="round"/>
<path d="M40.20,168.20 C40.40,169.57 41.20,175.03 41.40,176.40" fill="none" stroke="#5a5a5a" stroke-width="1.8" stroke-linecap="round"/>
<path d="M25.00,162.40 C25.78,162.98 28.92,165.32 29.70,165.90" fill="none" stroke="#5a5a5a" stroke-width="1.8" stroke-linecap="round"/>
<path d="M84.60,154.20 C85.00,155.00 86.03,157.45 87.00,159.00 C87.97,160.55 89.83,162.75 90.40,163.50" fill="none" stroke="#5a5a5a" stroke-width="1.8" stroke-linecap="round"/>
<path d="M95.00,155.40 C95.33,156.17 96.22,158.25 97.00,160.00 C97.78,161.75 99.25,164.92 99.70,165.90" fill="none" stroke="#5a5a5a" stroke-width="1.8" stroke-linecap="round"/>
<path d="M113.00,190.00 C113.83,190.67 116.83,192.50 118.00,194.00 C119.17,195.50 119.67,198.17 120.00,199.00" fill="none" stroke="#5a5a5a" stroke-width="1.8" stroke-linecap="round"/>
<path d="M48.00,150.00 C49.17,150.50 52.67,152.83 55.00,153.00 C57.33,153.17 60.83,151.33 62.00,151.00" fill="none" stroke="#5a5a5a" stroke-width="1.8" stroke-linecap="round"/>
<path d="M70.00,150.00 C71.00,150.83 74.00,154.67 76.00,155.00 C78.00,155.33 81.00,152.50 82.00,152.00" fill="none" stroke="#5a5a5a" stroke-width="1.8" stroke-linecap="round"/>
<path d="M60.00,174.00 C61.33,171.92 65.83,170.83 70.00,170.50 C74.17,170.17 80.33,171.08 85.00,172.00 C89.67,172.92 94.83,173.67 98.00,176.00 C101.17,178.33 103.33,182.50 104.00,186.00 C104.67,189.50 103.67,194.17 102.00,197.00 C100.33,199.83 97.33,202.67 94.00,203.00 C90.67,203.33 86.00,201.00 82.00,199.00 C78.00,197.00 73.33,193.67 70.00,191.00 C66.67,188.33 63.67,185.83 62.00,183.00 C60.33,180.17 58.67,176.08 60.00,174.00 Z" fill="#bdbdbd"/>
<path d="M61.00,172.00 C61.33,172.67 62.17,176.17 63.00,176.00 C63.83,175.83 65.17,170.83 66.00,171.00 C66.83,171.17 67.00,176.67 68.00,177.00 C69.00,177.33 71.00,172.67 72.00,173.00 C73.00,173.33 73.00,179.08 74.00,179.00 C75.00,178.92 76.83,172.67 78.00,172.50 C79.17,172.33 79.83,177.75 81.00,178.00 C82.17,178.25 83.83,173.67 85.00,174.00 C86.17,174.33 87.00,179.67 88.00,180.00 C89.00,180.33 90.00,175.83 91.00,176.00 C92.00,176.17 93.50,180.17 94.00,181.00" fill="none" stroke="#262626" stroke-width="2.2" stroke-linejoin="round"/>
<path d="M66.00,182.00 C67.00,182.33 70.00,183.83 72.00,184.00 C74.00,184.17 77.00,183.17 78.00,183.00" fill="none" stroke="#3a3a3a" stroke-width="1.8"/>
<path d="M103.00,176.00 C103.50,177.33 105.83,181.33 106.00,184.00 C106.17,186.67 105.00,189.83 104.00,192.00 C103.00,194.17 100.67,196.17 100.00,197.00" fill="none" stroke="#555" stroke-width="1.6"/>
<path d="M50.00,190.00 C51.33,190.67 55.33,192.50 58.00,194.00 C60.67,195.50 63.33,197.33 66.00,199.00 C68.67,200.67 71.67,202.50 74.00,204.00 C76.33,205.50 79.00,207.33 80.00,208.00" fill="none" stroke="#9a9a9a" stroke-width="4.5" stroke-linecap="round"/>
<path d="M50.00,190.00 C51.33,190.67 55.33,192.50 58.00,194.00 C60.67,195.50 63.33,197.33 66.00,199.00 C68.67,200.67 71.67,202.50 74.00,204.00 C76.33,205.50 79.00,207.33 80.00,208.00" fill="none" stroke="#333" stroke-width="1.6" stroke-linecap="round"/>
<path d="M15.10,204.60 C13.30,204.20 12.45,203.47 11.30,202.10 C10.15,200.73 9.03,198.82 8.20,196.40 C7.37,193.98 6.53,190.17 6.30,187.60 C6.07,185.03 6.50,182.77 6.80,181.00 C7.10,179.23 7.42,178.35 8.10,177.00 C8.78,175.65 9.98,174.72 10.90,172.90 C11.82,171.08 12.58,168.13 13.60,166.10 C14.62,164.07 16.55,162.28 17.00,160.70 C17.45,159.12 15.75,157.85 16.30,156.60 C16.85,155.35 19.07,154.43 20.30,153.20 C21.53,151.97 22.68,150.43 23.70,149.20 C24.72,147.97 25.48,147.05 26.40,145.80 C27.32,144.55 28.07,142.83 29.20,141.70 C30.33,140.57 31.97,139.57 33.20,139.00 C34.43,138.43 35.80,139.10 36.60,138.30 C37.40,137.50 37.20,135.17 38.00,134.20 C38.80,133.23 40.27,132.50 41.40,132.50 C42.53,132.50 43.68,134.25 44.80,134.20 C45.92,134.15 47.20,132.65 48.10,132.20 C49.00,131.75 49.17,131.77 50.20,131.50 C51.23,131.23 52.95,130.60 54.30,130.60 C55.65,130.60 57.28,130.78 58.30,131.50 C59.32,132.22 59.60,134.97 60.40,134.90 C61.20,134.83 61.87,131.95 63.10,131.10 C64.33,130.25 66.33,129.83 67.80,129.80 C69.27,129.77 70.40,130.27 71.90,130.90 C73.40,131.53 74.85,132.58 76.80,133.60 C78.75,134.62 81.57,136.43 83.60,137.00 C85.63,137.57 87.20,136.67 89.00,137.00 C90.80,137.33 92.60,138.45 94.40,139.00 C96.20,139.55 98.22,139.52 99.80,140.30 C101.38,141.08 102.32,142.68 103.90,143.70 C105.48,144.72 107.72,145.38 109.30,146.40 C110.88,147.42 112.03,148.67 113.40,149.80 C114.77,150.93 116.15,152.07 117.50,153.20 C118.85,154.33 120.15,155.35 121.50,156.60 C122.85,157.85 124.23,159.12 125.60,160.70 C126.97,162.28 128.57,164.30 129.70,166.10 C130.83,167.90 131.60,169.68 132.40,171.50 C133.20,173.32 133.75,175.15 134.50,177.00 C135.25,178.85 136.72,180.62 136.90,182.60 C137.08,184.58 135.60,186.80 135.60,188.90 C135.60,191.00 137.12,193.32 136.90,195.20 C136.68,197.08 135.78,198.85 134.30,200.20 C132.82,201.55 130.52,202.47 128.00,203.30 C125.48,204.13 121.92,204.35 119.20,205.20 C116.48,206.05 113.58,208.18 111.70,208.40 C109.82,208.62 108.95,207.55 107.90,206.50 C106.85,205.45 106.45,202.83 105.40,202.10 C104.35,201.37 103.08,201.90 101.60,202.10 C100.12,202.30 97.55,202.57 96.50,203.30 C95.45,204.03 95.08,205.33 95.30,206.50 C95.52,207.67 96.33,209.25 97.80,210.30 C99.27,211.35 102.32,211.75 104.10,212.80 C105.88,213.85 107.98,215.13 108.50,216.60 C109.02,218.07 108.57,220.55 107.20,221.60 C105.83,222.65 102.28,222.27 100.30,222.90 C98.32,223.53 96.98,224.35 95.30,225.40 C93.62,226.45 91.88,228.57 90.20,229.20 C88.52,229.83 86.67,229.83 85.20,229.20 C83.73,228.57 83.08,226.67 81.40,225.40 C79.72,224.13 77.32,222.87 75.10,221.60 C72.88,220.33 70.75,219.07 68.10,217.80 C65.45,216.53 62.15,215.25 59.20,214.00 C56.25,212.75 54.17,211.67 50.40,210.30 C46.63,208.93 41.32,206.77 36.60,205.80 C31.88,204.83 25.68,204.70 22.10,204.50 C18.52,204.30 16.90,205.00 15.10,204.60 Z" fill="none" stroke="#3f3f3f" stroke-width="1.8"/>
</g>
<path d="M78.50,205.00 C79.08,204.03 80.88,203.87 82.00,204.20 C83.12,204.53 84.62,205.78 85.20,207.00 C85.78,208.22 86.03,210.53 85.50,211.50 C84.97,212.47 83.17,213.05 82.00,212.80 C80.83,212.55 79.08,211.30 78.50,210.00 C77.92,208.70 77.92,205.97 78.50,205.00 Z" fill="#fbfbfb" stroke="#666" stroke-width="0.8"/>
<clipPath id="c2b"><path d="M13.80,213.10 C13.65,214.72 13.88,217.10 14.60,219.30 C15.32,221.50 16.93,224.27 18.10,226.30 C19.27,228.33 19.98,230.05 21.60,231.50 C23.22,232.95 25.45,233.97 27.80,235.00 C30.15,236.03 33.22,237.12 35.70,237.70 C38.18,238.28 40.23,238.65 42.70,238.50 C45.17,238.35 48.47,237.67 50.50,236.80 C52.53,235.93 53.95,234.77 54.90,233.30 C55.85,231.83 56.35,229.47 56.20,228.00 C56.05,226.53 54.80,225.37 54.00,224.50 C53.20,223.63 51.25,223.23 51.40,222.80 C51.55,222.37 53.58,222.35 54.90,221.90 C56.22,221.45 58.27,220.98 59.30,220.10 C60.33,219.22 61.10,217.77 61.10,216.60 C61.10,215.43 60.48,214.12 59.30,213.10 C58.12,212.08 56.48,211.52 54.00,210.50 C51.52,209.48 47.75,207.87 44.40,207.00 C41.05,206.13 37.12,205.52 33.90,205.30 C30.68,205.08 27.58,205.42 25.10,205.70 C22.62,205.98 20.60,206.35 19.00,207.00 C17.40,207.65 16.37,208.58 15.50,209.60 C14.63,210.62 13.95,211.48 13.80,213.10 Z"/></clipPath>
<g clip-path="url(#c2b)">
<path d="M13.80,213.10 C13.65,214.72 13.88,217.10 14.60,219.30 C15.32,221.50 16.93,224.27 18.10,226.30 C19.27,228.33 19.98,230.05 21.60,231.50 C23.22,232.95 25.45,233.97 27.80,235.00 C30.15,236.03 33.22,237.12 35.70,237.70 C38.18,238.28 40.23,238.65 42.70,238.50 C45.17,238.35 48.47,237.67 50.50,236.80 C52.53,235.93 53.95,234.77 54.90,233.30 C55.85,231.83 56.35,229.47 56.20,228.00 C56.05,226.53 54.80,225.37 54.00,224.50 C53.20,223.63 51.25,223.23 51.40,222.80 C51.55,222.37 53.58,222.35 54.90,221.90 C56.22,221.45 58.27,220.98 59.30,220.10 C60.33,219.22 61.10,217.77 61.10,216.60 C61.10,215.43 60.48,214.12 59.30,213.10 C58.12,212.08 56.48,211.52 54.00,210.50 C51.52,209.48 47.75,207.87 44.40,207.00 C41.05,206.13 37.12,205.52 33.90,205.30 C30.68,205.08 27.58,205.42 25.10,205.70 C22.62,205.98 20.60,206.35 19.00,207.00 C17.40,207.65 16.37,208.58 15.50,209.60 C14.63,210.62 13.95,211.48 13.80,213.10 Z" fill="#9a9a9a"/>
<path d="M18.00,214.00 C20.00,214.50 25.50,215.67 30.00,217.00 C34.50,218.33 40.33,220.50 45.00,222.00 C49.67,223.50 55.83,225.33 58.00,226.00" fill="none" stroke="#c8c8c8" stroke-width="4"/>
<path d="M10.00,206.00 C13.00,206.50 22.00,207.83 28.00,209.00 C34.00,210.17 40.33,211.67 46.00,213.00 C51.67,214.33 59.33,216.33 62.00,217.00" fill="none" stroke="#6e6e6e" stroke-width="1.1"/>
<path d="M10.00,210.30 C13.00,210.85 22.00,212.43 28.00,213.60 C34.00,214.77 40.33,216.02 46.00,217.30 C51.67,218.58 59.33,220.63 62.00,221.30" fill="none" stroke="#6e6e6e" stroke-width="1.1"/>
<path d="M10.00,214.60 C13.00,215.20 22.00,217.03 28.00,218.20 C34.00,219.37 40.33,220.37 46.00,221.60 C51.67,222.83 59.33,224.93 62.00,225.60" fill="none" stroke="#6e6e6e" stroke-width="1.1"/>
<path d="M10.00,218.90 C13.00,219.55 22.00,221.63 28.00,222.80 C34.00,223.97 40.33,224.72 46.00,225.90 C51.67,227.08 59.33,229.23 62.00,229.90" fill="none" stroke="#6e6e6e" stroke-width="1.1"/>
<path d="M10.00,223.20 C13.00,223.90 22.00,226.23 28.00,227.40 C34.00,228.57 40.33,229.07 46.00,230.20 C51.67,231.33 59.33,233.53 62.00,234.20" fill="none" stroke="#6e6e6e" stroke-width="1.1"/>
<path d="M10.00,227.50 C13.00,228.25 22.00,230.83 28.00,232.00 C34.00,233.17 40.33,233.42 46.00,234.50 C51.67,235.58 59.33,237.83 62.00,238.50" fill="none" stroke="#6e6e6e" stroke-width="1.1"/>
<path d="M10.00,231.80 C13.00,232.60 22.00,235.43 28.00,236.60 C34.00,237.77 40.33,237.77 46.00,238.80 C51.67,239.83 59.33,242.13 62.00,242.80" fill="none" stroke="#6e6e6e" stroke-width="1.1"/>
<path d="M10.00,236.10 C13.00,236.95 22.00,240.03 28.00,241.20 C34.00,242.37 40.33,242.12 46.00,243.10 C51.67,244.08 59.33,246.43 62.00,247.10" fill="none" stroke="#6e6e6e" stroke-width="1.1"/>
<path d="M13.80,213.10 C13.65,214.72 13.88,217.10 14.60,219.30 C15.32,221.50 16.93,224.27 18.10,226.30 C19.27,228.33 19.98,230.05 21.60,231.50 C23.22,232.95 25.45,233.97 27.80,235.00 C30.15,236.03 33.22,237.12 35.70,237.70 C38.18,238.28 40.23,238.65 42.70,238.50 C45.17,238.35 48.47,237.67 50.50,236.80 C52.53,235.93 53.95,234.77 54.90,233.30 C55.85,231.83 56.35,229.47 56.20,228.00 C56.05,226.53 54.80,225.37 54.00,224.50 C53.20,223.63 51.25,223.23 51.40,222.80 C51.55,222.37 53.58,222.35 54.90,221.90 C56.22,221.45 58.27,220.98 59.30,220.10 C60.33,219.22 61.10,217.77 61.10,216.60 C61.10,215.43 60.48,214.12 59.30,213.10 C58.12,212.08 56.48,211.52 54.00,210.50 C51.52,209.48 47.75,207.87 44.40,207.00 C41.05,206.13 37.12,205.52 33.90,205.30 C30.68,205.08 27.58,205.42 25.10,205.70 C22.62,205.98 20.60,206.35 19.00,207.00 C17.40,207.65 16.37,208.58 15.50,209.60 C14.63,210.62 13.95,211.48 13.80,213.10 Z" fill="none" stroke="#444" stroke-width="2"/>
</g>
<rect x="95.8" y="180.4" width="7.8" height="7.5" rx="2" fill="#1111ff"/>
</g>
<g filter="url(#bl6)">
<clipPath id="c3"><path d="M182.80,297.00 C181.45,296.42 180.65,292.95 179.30,291.20 C177.95,289.45 175.47,288.83 174.70,286.50 C173.93,284.17 174.13,280.68 174.70,277.20 C175.27,273.72 176.95,268.50 178.10,265.60 C179.25,262.70 180.62,261.93 181.60,259.80 C182.58,257.67 182.83,254.93 184.00,252.80 C185.17,250.67 187.20,248.18 188.60,247.00 C190.00,245.82 191.43,247.05 192.40,245.70 C193.37,244.35 193.17,240.82 194.40,238.90 C195.63,236.98 198.55,235.33 199.80,234.20 C201.05,233.07 201.33,232.22 201.90,232.10 C202.47,231.98 202.42,233.50 203.20,233.50 C203.98,233.50 206.25,233.00 206.60,232.10 C206.95,231.20 204.85,228.88 205.30,228.10 C205.75,227.32 207.95,227.18 209.30,227.40 C210.65,227.62 212.50,228.62 213.40,229.40 C214.30,230.18 214.93,233.00 214.70,232.10 C214.47,231.20 211.77,225.68 212.00,224.00 C212.23,222.32 214.52,222.23 216.10,222.00 C217.68,221.77 219.92,222.60 221.50,222.60 C223.08,222.60 224.80,221.55 225.60,222.00 C226.40,222.45 226.53,223.62 226.30,225.30 C226.07,226.98 223.87,230.85 224.20,232.10 C224.53,233.35 227.17,232.80 228.30,232.80 C229.43,232.80 230.43,233.35 231.00,232.10 C231.57,230.85 231.25,227.10 231.70,225.30 C232.15,223.50 233.13,221.30 233.70,221.30 C234.27,221.30 234.65,223.50 235.10,225.30 C235.55,227.10 235.83,231.42 236.40,232.10 C236.97,232.78 238.03,230.98 238.50,229.40 C238.97,227.82 238.42,224.40 239.20,222.60 C239.98,220.80 241.63,219.50 243.20,218.60 C244.77,217.70 247.40,216.53 248.60,217.20 C249.80,217.87 249.20,222.15 250.40,222.60 C251.60,223.05 254.22,220.68 255.80,219.90 C257.38,219.12 258.08,218.23 259.90,217.90 C261.72,217.57 264.22,217.33 266.70,217.90 C269.18,218.47 272.08,220.17 274.80,221.30 C277.52,222.43 280.97,223.57 283.00,224.70 C285.03,225.83 286.10,226.87 287.00,228.10 C287.90,229.33 287.48,231.08 288.40,232.10 C289.32,233.12 291.15,233.40 292.50,234.20 C293.85,235.00 294.92,236.23 296.50,236.90 C298.08,237.57 300.42,237.42 302.00,238.20 C303.58,238.98 304.65,240.35 306.00,241.60 C307.35,242.85 309.20,244.35 310.10,245.70 C311.00,247.05 311.40,248.57 311.40,249.70 C311.40,250.83 309.75,251.58 310.10,252.50 C310.45,253.42 312.82,254.30 313.50,255.20 C314.18,256.10 313.63,256.77 314.20,257.90 C314.77,259.03 316.12,260.42 316.90,262.00 C317.68,263.58 318.43,265.73 318.90,267.40 C319.37,269.07 319.75,270.12 319.70,272.00 C319.65,273.88 319.37,277.10 318.60,278.70 C317.83,280.30 315.10,280.63 315.10,281.60 C315.10,282.57 318.02,283.03 318.60,284.50 C319.18,285.97 319.00,288.45 318.60,290.40 C318.20,292.35 317.18,294.45 316.20,296.20 C315.22,297.95 314.83,299.53 312.70,300.90 C310.57,302.27 306.90,303.63 303.40,304.40 C299.90,305.17 295.20,305.60 291.70,305.50 C288.20,305.40 285.12,304.67 282.40,303.80 C279.68,302.93 277.15,301.18 275.40,300.30 C273.65,299.42 273.07,299.38 271.90,298.50 C270.73,297.62 269.38,295.97 268.40,295.00 C267.42,294.03 266.90,294.20 266.00,292.70 C265.10,291.20 263.83,288.45 263.00,286.00 C262.17,283.55 262.33,280.50 261.00,278.00 C259.67,275.50 257.33,272.33 255.00,271.00 C252.67,269.67 249.33,269.83 247.00,270.00 C244.67,270.17 242.83,271.75 241.00,272.00 C239.17,272.25 237.67,271.92 236.00,271.50 C234.33,271.08 232.33,270.75 231.00,269.50 C229.67,268.25 229.05,265.42 228.00,264.00 C226.95,262.58 226.23,260.55 224.70,261.00 C223.17,261.45 220.55,264.97 218.80,266.70 C217.05,268.43 215.55,270.23 214.20,271.40 C212.85,272.57 211.87,272.53 210.70,273.70 C209.53,274.87 208.95,276.85 207.20,278.40 C205.45,279.95 202.52,281.07 200.20,283.00 C197.88,284.93 195.43,288.05 193.30,290.00 C191.17,291.95 189.15,293.53 187.40,294.70 C185.65,295.87 184.15,297.58 182.80,297.00 Z"/></clipPath>
<g clip-path="url(#c3)">
<path d="M182.80,297.00 C181.45,296.42 180.65,292.95 179.30,291.20 C177.95,289.45 175.47,288.83 174.70,286.50 C173.93,284.17 174.13,280.68 174.70,277.20 C175.27,273.72 176.95,268.50 178.10,265.60 C179.25,262.70 180.62,261.93 181.60,259.80 C182.58,257.67 182.83,254.93 184.00,252.80 C185.17,250.67 187.20,248.18 188.60,247.00 C190.00,245.82 191.43,247.05 192.40,245.70 C193.37,244.35 193.17,240.82 194.40,238.90 C195.63,236.98 198.55,235.33 199.80,234.20 C201.05,233.07 201.33,232.22 201.90,232.10 C202.47,231.98 202.42,233.50 203.20,233.50 C203.98,233.50 206.25,233.00 206.60,232.10 C206.95,231.20 204.85,228.88 205.30,228.10 C205.75,227.32 207.95,227.18 209.30,227.40 C210.65,227.62 212.50,228.62 213.40,229.40 C214.30,230.18 214.93,233.00 214.70,232.10 C214.47,231.20 211.77,225.68 212.00,224.00 C212.23,222.32 214.52,222.23 216.10,222.00 C217.68,221.77 219.92,222.60 221.50,222.60 C223.08,222.60 224.80,221.55 225.60,222.00 C226.40,222.45 226.53,223.62 226.30,225.30 C226.07,226.98 223.87,230.85 224.20,232.10 C224.53,233.35 227.17,232.80 228.30,232.80 C229.43,232.80 230.43,233.35 231.00,232.10 C231.57,230.85 231.25,227.10 231.70,225.30 C232.15,223.50 233.13,221.30 233.70,221.30 C234.27,221.30 234.65,223.50 235.10,225.30 C235.55,227.10 235.83,231.42 236.40,232.10 C236.97,232.78 238.03,230.98 238.50,229.40 C238.97,227.82 238.42,224.40 239.20,222.60 C239.98,220.80 241.63,219.50 243.20,218.60 C244.77,217.70 247.40,216.53 248.60,217.20 C249.80,217.87 249.20,222.15 250.40,222.60 C251.60,223.05 254.22,220.68 255.80,219.90 C257.38,219.12 258.08,218.23 259.90,217.90 C261.72,217.57 264.22,217.33 266.70,217.90 C269.18,218.47 272.08,220.17 274.80,221.30 C277.52,222.43 280.97,223.57 283.00,224.70 C285.03,225.83 286.10,226.87 287.00,228.10 C287.90,229.33 287.48,231.08 288.40,232.10 C289.32,233.12 291.15,233.40 292.50,234.20 C293.85,235.00 294.92,236.23 296.50,236.90 C298.08,237.57 300.42,237.42 302.00,238.20 C303.58,238.98 304.65,240.35 306.00,241.60 C307.35,242.85 309.20,244.35 310.10,245.70 C311.00,247.05 311.40,248.57 311.40,249.70 C311.40,250.83 309.75,251.58 310.10,252.50 C310.45,253.42 312.82,254.30 313.50,255.20 C314.18,256.10 313.63,256.77 314.20,257.90 C314.77,259.03 316.12,260.42 316.90,262.00 C317.68,263.58 318.43,265.73 318.90,267.40 C319.37,269.07 319.75,270.12 319.70,272.00 C319.65,273.88 319.37,277.10 318.60,278.70 C317.83,280.30 315.10,280.63 315.10,281.60 C315.10,282.57 318.02,283.03 318.60,284.50 C319.18,285.97 319.00,288.45 318.60,290.40 C318.20,292.35 317.18,294.45 316.20,296.20 C315.22,297.95 314.83,299.53 312.70,300.90 C310.57,302.27 306.90,303.63 303.40,304.40 C299.90,305.17 295.20,305.60 291.70,305.50 C288.20,305.40 285.12,304.67 282.40,303.80 C279.68,302.93 277.15,301.18 275.40,300.30 C273.65,299.42 273.07,299.38 271.90,298.50 C270.73,297.62 269.38,295.97 268.40,295.00 C267.42,294.03 266.90,294.20 266.00,292.70 C265.10,291.20 263.83,288.45 263.00,286.00 C262.17,283.55 262.33,280.50 261.00,278.00 C259.67,275.50 257.33,272.33 255.00,271.00 C252.67,269.67 249.33,269.83 247.00,270.00 C244.67,270.17 242.83,271.75 241.00,272.00 C239.17,272.25 237.67,271.92 236.00,271.50 C234.33,271.08 232.33,270.75 231.00,269.50 C229.67,268.25 229.05,265.42 228.00,264.00 C226.95,262.58 226.23,260.55 224.70,261.00 C223.17,261.45 220.55,264.97 218.80,266.70 C217.05,268.43 215.55,270.23 214.20,271.40 C212.85,272.57 211.87,272.53 210.70,273.70 C209.53,274.87 208.95,276.85 207.20,278.40 C205.45,279.95 202.52,281.07 200.20,283.00 C197.88,284.93 195.43,288.05 193.30,290.00 C191.17,291.95 189.15,293.53 187.40,294.70 C185.65,295.87 184.15,297.58 182.80,297.00 Z" fill="#939393"/>
<path d="M172.00,300.00 C169.67,294.00 169.83,271.00 172.00,262.00 C174.17,253.00 180.33,249.67 185.00,246.00 C189.67,242.33 195.83,237.33 200.00,240.00 C204.17,242.67 208.00,256.17 210.00,262.00 C212.00,267.83 213.67,271.00 212.00,275.00 C210.33,279.00 204.33,282.17 200.00,286.00 C195.67,289.83 190.67,295.67 186.00,298.00 C181.33,300.33 174.33,306.00 172.00,300.00 Z" fill="#a7a7a7"/>
<path d="M175.90,262.76 C176.30,262.32 177.54,260.51 178.27,260.13 C178.99,259.74 179.65,259.88 180.25,260.46 C180.86,261.05 181.21,262.80 181.89,263.65 C182.57,264.50 183.62,265.62 184.32,265.58 C185.02,265.53 185.51,264.27 186.08,263.39 C186.65,262.51 187.11,260.83 187.73,260.31 C188.34,259.79 189.04,259.84 189.76,260.29 C190.47,260.75 191.29,262.31 192.00,263.03 C192.71,263.74 193.33,264.66 194.00,264.59 C194.67,264.51 195.33,263.38 196.00,262.57 C196.67,261.77 197.23,260.17 198.00,259.77 C198.77,259.36 200.01,259.47 200.62,260.15 C201.22,260.82 201.19,262.86 201.62,263.79 C202.05,264.72 202.47,265.70 203.20,265.74 C203.93,265.77 205.53,264.29 206.00,264.00" fill="none" stroke="#666" stroke-width="5.5" stroke-linecap="round" stroke-linejoin="round"/><path d="M175.90,262.76 C176.30,262.32 177.54,260.51 178.27,260.13 C178.99,259.74 179.65,259.88 180.25,260.46 C180.86,261.05 181.21,262.80 181.89,263.65 C182.57,264.50 183.62,265.62 184.32,265.58 C185.02,265.53 185.51,264.27 186.08,263.39 C186.65,262.51 187.11,260.83 187.73,260.31 C188.34,259.79 189.04,259.84 189.76,260.29 C190.47,260.75 191.29,262.31 192.00,263.03 C192.71,263.74 193.33,264.66 194.00,264.59 C194.67,264.51 195.33,263.38 196.00,262.57 C196.67,261.77 197.23,260.17 198.00,259.77 C198.77,259.36 200.01,259.47 200.62,260.15 C201.22,260.82 201.19,262.86 201.62,263.79 C202.05,264.72 202.47,265.70 203.20,265.74 C203.93,265.77 205.53,264.29 206.00,264.00" fill="none" stroke="#b0b0b0" stroke-width="3.4" stroke-linecap="round" stroke-linejoin="round"/>
<path d="M175.95,274.41 C176.34,274.00 177.58,272.23 178.29,271.94 C179.00,271.66 179.63,272.03 180.22,272.70 C180.82,273.38 181.16,275.17 181.85,275.98 C182.53,276.78 183.62,277.69 184.32,277.53 C185.01,277.38 185.47,275.94 186.04,275.04 C186.60,274.14 187.08,272.56 187.71,272.14 C188.33,271.73 189.07,272.01 189.79,272.55 C190.50,273.08 191.30,274.68 192.00,275.35 C192.70,276.01 193.33,276.72 194.00,276.53 C194.67,276.34 195.33,275.04 196.00,274.22 C196.67,273.39 197.41,271.91 198.00,271.60 C198.59,271.29 198.72,271.78 199.53,272.37 C200.34,272.96 201.91,274.80 202.85,275.15 C203.79,275.50 204.49,274.99 205.18,274.47 C205.87,273.94 206.70,272.41 207.00,272.00" fill="none" stroke="#666" stroke-width="5.5" stroke-linecap="round" stroke-linejoin="round"/><path d="M175.95,274.41 C176.34,274.00 177.58,272.23 178.29,271.94 C179.00,271.66 179.63,272.03 180.22,272.70 C180.82,273.38 181.16,275.17 181.85,275.98 C182.53,276.78 183.62,277.69 184.32,277.53 C185.01,277.38 185.47,275.94 186.04,275.04 C186.60,274.14 187.08,272.56 187.71,272.14 C188.33,271.73 189.07,272.01 189.79,272.55 C190.50,273.08 191.30,274.68 192.00,275.35 C192.70,276.01 193.33,276.72 194.00,276.53 C194.67,276.34 195.33,275.04 196.00,274.22 C196.67,273.39 197.41,271.91 198.00,271.60 C198.59,271.29 198.72,271.78 199.53,272.37 C200.34,272.96 201.91,274.80 202.85,275.15 C203.79,275.50 204.49,274.99 205.18,274.47 C205.87,273.94 206.70,272.41 207.00,272.00" fill="none" stroke="#b0b0b0" stroke-width="3.4" stroke-linecap="round" stroke-linejoin="round"/>
<path d="M178.00,288.40 C178.33,288.10 179.33,287.35 180.00,286.61 C180.67,285.88 181.33,284.39 182.00,283.98 C182.67,283.57 183.30,283.66 184.00,284.14 C184.70,284.62 185.45,286.23 186.21,286.84 C186.97,287.45 187.93,288.06 188.58,287.82 C189.23,287.58 189.62,286.32 190.10,285.42 C190.59,284.52 190.92,282.90 191.48,282.41 C192.03,281.92 192.60,282.14 193.44,282.50 C194.27,282.85 195.59,284.19 196.48,284.54 C197.37,284.89 198.22,285.11 198.78,284.59 C199.35,284.06 199.34,282.01 199.87,281.41 C200.41,280.81 201.65,281.07 202.00,281.00" fill="none" stroke="#666" stroke-width="5.5" stroke-linecap="round" stroke-linejoin="round"/><path d="M178.00,288.40 C178.33,288.10 179.33,287.35 180.00,286.61 C180.67,285.88 181.33,284.39 182.00,283.98 C182.67,283.57 183.30,283.66 184.00,284.14 C184.70,284.62 185.45,286.23 186.21,286.84 C186.97,287.45 187.93,288.06 188.58,287.82 C189.23,287.58 189.62,286.32 190.10,285.42 C190.59,284.52 190.92,282.90 191.48,282.41 C192.03,281.92 192.60,282.14 193.44,282.50 C194.27,282.85 195.59,284.19 196.48,284.54 C197.37,284.89 198.22,285.11 198.78,284.59 C199.35,284.06 199.34,282.01 199.87,281.41 C200.41,280.81 201.65,281.07 202.00,281.00" fill="none" stroke="#b0b0b0" stroke-width="3.4" stroke-linecap="round" stroke-linejoin="round"/>
<path d="M185.85,252.23 C186.17,252.38 187.07,253.25 187.77,253.10 C188.46,252.96 189.27,251.92 190.02,251.38 C190.76,250.83 191.56,249.89 192.24,249.82 C192.93,249.76 193.53,250.35 194.13,250.97 C194.73,251.59 195.23,253.00 195.84,253.56 C196.44,254.12 197.07,254.49 197.77,254.32 C198.47,254.14 199.32,252.75 200.03,252.53 C200.73,252.31 201.67,252.92 202.00,253.00" fill="none" stroke="#666" stroke-width="5" stroke-linecap="round" stroke-linejoin="round"/><path d="M185.85,252.23 C186.17,252.38 187.07,253.25 187.77,253.10 C188.46,252.96 189.27,251.92 190.02,251.38 C190.76,250.83 191.56,249.89 192.24,249.82 C192.93,249.76 193.53,250.35 194.13,250.97 C194.73,251.59 195.23,253.00 195.84,253.56 C196.44,254.12 197.07,254.49 197.77,254.32 C198.47,254.14 199.32,252.75 200.03,252.53 C200.73,252.31 201.67,252.92 202.00,253.00" fill="none" stroke="#b0b0b0" stroke-width="3" stroke-linecap="round" stroke-linejoin="round"/>
<path d="M252.00,226.00 C253.67,225.67 258.67,223.67 262.00,224.00 C265.33,224.33 268.67,226.50 272.00,228.00 C275.33,229.50 280.33,232.17 282.00,233.00" fill="none" stroke="#a4a4a4" stroke-width="3" stroke-linecap="round"/>
<path d="M262.00,236.00 C264.17,236.67 270.67,238.33 275.00,240.00 C279.33,241.67 284.17,244.00 288.00,246.00 C291.83,248.00 296.33,251.00 298.00,252.00" fill="none" stroke="#a4a4a4" stroke-width="3" stroke-linecap="round"/>
<path d="M285.00,240.00 C286.67,240.33 292.00,240.67 295.00,242.00 C298.00,243.33 300.83,245.67 303.00,248.00 C305.17,250.33 307.17,254.67 308.00,256.00" fill="none" stroke="#a4a4a4" stroke-width="3" stroke-linecap="round"/>
<path d="M292.00,258.00 C293.33,258.67 297.50,260.00 300.00,262.00 C302.50,264.00 305.00,267.33 307.00,270.00 C309.00,272.67 311.17,276.67 312.00,278.00" fill="none" stroke="#a4a4a4" stroke-width="3" stroke-linecap="round"/>
<path d="M290.00,293.00 C291.67,293.50 296.67,296.33 300.00,296.00 C303.33,295.67 308.33,291.83 310.00,291.00" fill="none" stroke="#a4a4a4" stroke-width="3" stroke-linecap="round"/>
<path d="M196.00,246.00 C197.50,245.67 201.83,243.83 205.00,244.00 C208.17,244.17 211.67,246.67 215.00,247.00 C218.33,247.33 221.67,245.67 225.00,246.00 C228.33,246.33 233.33,248.50 235.00,249.00" fill="none" stroke="#a4a4a4" stroke-width="3" stroke-linecap="round"/>
<path d="M214.00,238.00 C216.00,238.50 221.67,240.50 226.00,241.00 C230.33,241.50 235.67,241.50 240.00,241.00 C244.33,240.50 250.00,238.50 252.00,238.00" fill="none" stroke="#6a6a6a" stroke-width="1.4" stroke-linecap="round"/>
<path d="M246.00,245.00 C248.00,245.50 254.00,246.83 258.00,248.00 C262.00,249.17 266.00,250.33 270.00,252.00 C274.00,253.67 278.67,255.67 282.00,258.00 C285.33,260.33 288.67,264.67 290.00,266.00" fill="none" stroke="#6a6a6a" stroke-width="1.4" stroke-linecap="round"/>
<path d="M296.00,270.00 C297.50,270.83 302.67,272.50 305.00,275.00 C307.33,277.50 309.17,283.33 310.00,285.00" fill="none" stroke="#6a6a6a" stroke-width="1.4" stroke-linecap="round"/>
<path d="M280.00,292.00 C282.00,292.67 287.83,295.00 292.00,296.00 C296.17,297.00 302.83,297.67 305.00,298.00" fill="none" stroke="#6a6a6a" stroke-width="1.4" stroke-linecap="round"/>
<path d="M203.00,250.00 C204.17,251.00 208.00,254.00 210.00,256.00 C212.00,258.00 214.17,261.00 215.00,262.00" fill="none" stroke="#6a6a6a" stroke-width="1.4" stroke-linecap="round"/>
<path d="M182.80,297.00 C181.45,296.42 180.65,292.95 179.30,291.20 C177.95,289.45 175.47,288.83 174.70,286.50 C173.93,284.17 174.13,280.68 174.70,277.20 C175.27,273.72 176.95,268.50 178.10,265.60 C179.25,262.70 180.62,261.93 181.60,259.80 C182.58,257.67 182.83,254.93 184.00,252.80 C185.17,250.67 187.20,248.18 188.60,247.00 C190.00,245.82 191.43,247.05 192.40,245.70 C193.37,244.35 193.17,240.82 194.40,238.90 C195.63,236.98 198.55,235.33 199.80,234.20 C201.05,233.07 201.33,232.22 201.90,232.10 C202.47,231.98 202.42,233.50 203.20,233.50 C203.98,233.50 206.25,233.00 206.60,232.10 C206.95,231.20 204.85,228.88 205.30,228.10 C205.75,227.32 207.95,227.18 209.30,227.40 C210.65,227.62 212.50,228.62 213.40,229.40 C214.30,230.18 214.93,233.00 214.70,232.10 C214.47,231.20 211.77,225.68 212.00,224.00 C212.23,222.32 214.52,222.23 216.10,222.00 C217.68,221.77 219.92,222.60 221.50,222.60 C223.08,222.60 224.80,221.55 225.60,222.00 C226.40,222.45 226.53,223.62 226.30,225.30 C226.07,226.98 223.87,230.85 224.20,232.10 C224.53,233.35 227.17,232.80 228.30,232.80 C229.43,232.80 230.43,233.35 231.00,232.10 C231.57,230.85 231.25,227.10 231.70,225.30 C232.15,223.50 233.13,221.30 233.70,221.30 C234.27,221.30 234.65,223.50 235.10,225.30 C235.55,227.10 235.83,231.42 236.40,232.10 C236.97,232.78 238.03,230.98 238.50,229.40 C238.97,227.82 238.42,224.40 239.20,222.60 C239.98,220.80 241.63,219.50 243.20,218.60 C244.77,217.70 247.40,216.53 248.60,217.20 C249.80,217.87 249.20,222.15 250.40,222.60 C251.60,223.05 254.22,220.68 255.80,219.90 C257.38,219.12 258.08,218.23 259.90,217.90 C261.72,217.57 264.22,217.33 266.70,217.90 C269.18,218.47 272.08,220.17 274.80,221.30 C277.52,222.43 280.97,223.57 283.00,224.70 C285.03,225.83 286.10,226.87 287.00,228.10 C287.90,229.33 287.48,231.08 288.40,232.10 C289.32,233.12 291.15,233.40 292.50,234.20 C293.85,235.00 294.92,236.23 296.50,236.90 C298.08,237.57 300.42,237.42 302.00,238.20 C303.58,238.98 304.65,240.35 306.00,241.60 C307.35,242.85 309.20,244.35 310.10,245.70 C311.00,247.05 311.40,248.57 311.40,249.70 C311.40,250.83 309.75,251.58 310.10,252.50 C310.45,253.42 312.82,254.30 313.50,255.20 C314.18,256.10 313.63,256.77 314.20,257.90 C314.77,259.03 316.12,260.42 316.90,262.00 C317.68,263.58 318.43,265.73 318.90,267.40 C319.37,269.07 319.75,270.12 319.70,272.00 C319.65,273.88 319.37,277.10 318.60,278.70 C317.83,280.30 315.10,280.63 315.10,281.60 C315.10,282.57 318.02,283.03 318.60,284.50 C319.18,285.97 319.00,288.45 318.60,290.40 C318.20,292.35 317.18,294.45 316.20,296.20 C315.22,297.95 314.83,299.53 312.70,300.90 C310.57,302.27 306.90,303.63 303.40,304.40 C299.90,305.17 295.20,305.60 291.70,305.50 C288.20,305.40 285.12,304.67 282.40,303.80 C279.68,302.93 277.15,301.18 275.40,300.30 C273.65,299.42 273.07,299.38 271.90,298.50 C270.73,297.62 269.38,295.97 268.40,295.00 C267.42,294.03 266.90,294.20 266.00,292.70 C265.10,291.20 263.83,288.45 263.00,286.00 C262.17,283.55 262.33,280.50 261.00,278.00 C259.67,275.50 257.33,272.33 255.00,271.00 C252.67,269.67 249.33,269.83 247.00,270.00 C244.67,270.17 242.83,271.75 241.00,272.00 C239.17,272.25 237.67,271.92 236.00,271.50 C234.33,271.08 232.33,270.75 231.00,269.50 C229.67,268.25 229.05,265.42 228.00,264.00 C226.95,262.58 226.23,260.55 224.70,261.00 C223.17,261.45 220.55,264.97 218.80,266.70 C217.05,268.43 215.55,270.23 214.20,271.40 C212.85,272.57 211.87,272.53 210.70,273.70 C209.53,274.87 208.95,276.85 207.20,278.40 C205.45,279.95 202.52,281.07 200.20,283.00 C197.88,284.93 195.43,288.05 193.30,290.00 C191.17,291.95 189.15,293.53 187.40,294.70 C185.65,295.87 184.15,297.58 182.80,297.00 Z" fill="none" stroke="#666" stroke-width="8"/>
<path d="M182.80,297.00 C181.45,296.42 180.65,292.95 179.30,291.20 C177.95,289.45 175.47,288.83 174.70,286.50 C173.93,284.17 174.13,280.68 174.70,277.20 C175.27,273.72 176.95,268.50 178.10,265.60 C179.25,262.70 180.62,261.93 181.60,259.80 C182.58,257.67 182.83,254.93 184.00,252.80 C185.17,250.67 187.20,248.18 188.60,247.00 C190.00,245.82 191.43,247.05 192.40,245.70 C193.37,244.35 193.17,240.82 194.40,238.90 C195.63,236.98 198.55,235.33 199.80,234.20 C201.05,233.07 201.33,232.22 201.90,232.10 C202.47,231.98 202.42,233.50 203.20,233.50 C203.98,233.50 206.25,233.00 206.60,232.10 C206.95,231.20 204.85,228.88 205.30,228.10 C205.75,227.32 207.95,227.18 209.30,227.40 C210.65,227.62 212.50,228.62 213.40,229.40 C214.30,230.18 214.93,233.00 214.70,232.10 C214.47,231.20 211.77,225.68 212.00,224.00 C212.23,222.32 214.52,222.23 216.10,222.00 C217.68,221.77 219.92,222.60 221.50,222.60 C223.08,222.60 224.80,221.55 225.60,222.00 C226.40,222.45 226.53,223.62 226.30,225.30 C226.07,226.98 223.87,230.85 224.20,232.10 C224.53,233.35 227.17,232.80 228.30,232.80 C229.43,232.80 230.43,233.35 231.00,232.10 C231.57,230.85 231.25,227.10 231.70,225.30 C232.15,223.50 233.13,221.30 233.70,221.30 C234.27,221.30 234.65,223.50 235.10,225.30 C235.55,227.10 235.83,231.42 236.40,232.10 C236.97,232.78 238.03,230.98 238.50,229.40 C238.97,227.82 238.42,224.40 239.20,222.60 C239.98,220.80 241.63,219.50 243.20,218.60 C244.77,217.70 247.40,216.53 248.60,217.20 C249.80,217.87 249.20,222.15 250.40,222.60 C251.60,223.05 254.22,220.68 255.80,219.90 C257.38,219.12 258.08,218.23 259.90,217.90 C261.72,217.57 264.22,217.33 266.70,217.90 C269.18,218.47 272.08,220.17 274.80,221.30 C277.52,222.43 280.97,223.57 283.00,224.70 C285.03,225.83 286.10,226.87 287.00,228.10 C287.90,229.33 287.48,231.08 288.40,232.10 C289.32,233.12 291.15,233.40 292.50,234.20 C293.85,235.00 294.92,236.23 296.50,236.90 C298.08,237.57 300.42,237.42 302.00,238.20 C303.58,238.98 304.65,240.35 306.00,241.60 C307.35,242.85 309.20,244.35 310.10,245.70 C311.00,247.05 311.40,248.57 311.40,249.70 C311.40,250.83 309.75,251.58 310.10,252.50 C310.45,253.42 312.82,254.30 313.50,255.20 C314.18,256.10 313.63,256.77 314.20,257.90 C314.77,259.03 316.12,260.42 316.90,262.00 C317.68,263.58 318.43,265.73 318.90,267.40 C319.37,269.07 319.75,270.12 319.70,272.00 C319.65,273.88 319.37,277.10 318.60,278.70 C317.83,280.30 315.10,280.63 315.10,281.60 C315.10,282.57 318.02,283.03 318.60,284.50 C319.18,285.97 319.00,288.45 318.60,290.40 C318.20,292.35 317.18,294.45 316.20,296.20 C315.22,297.95 314.83,299.53 312.70,300.90 C310.57,302.27 306.90,303.63 303.40,304.40 C299.90,305.17 295.20,305.60 291.70,305.50 C288.20,305.40 285.12,304.67 282.40,303.80 C279.68,302.93 277.15,301.18 275.40,300.30 C273.65,299.42 273.07,299.38 271.90,298.50 C270.73,297.62 269.38,295.97 268.40,295.00 C267.42,294.03 266.90,294.20 266.00,292.70 C265.10,291.20 263.83,288.45 263.00,286.00 C262.17,283.55 262.33,280.50 261.00,278.00 C259.67,275.50 257.33,272.33 255.00,271.00 C252.67,269.67 249.33,269.83 247.00,270.00 C244.67,270.17 242.83,271.75 241.00,272.00 C239.17,272.25 237.67,271.92 236.00,271.50 C234.33,271.08 232.33,270.75 231.00,269.50 C229.67,268.25 229.05,265.42 228.00,264.00 C226.95,262.58 226.23,260.55 224.70,261.00 C223.17,261.45 220.55,264.97 218.80,266.70 C217.05,268.43 215.55,270.23 214.20,271.40 C212.85,272.57 211.87,272.53 210.70,273.70 C209.53,274.87 208.95,276.85 207.20,278.40 C205.45,279.95 202.52,281.07 200.20,283.00 C197.88,284.93 195.43,288.05 193.30,290.00 C191.17,291.95 189.15,293.53 187.40,294.70 C185.65,295.87 184.15,297.58 182.80,297.00 Z" fill="none" stroke="#9e9e9e" stroke-width="5.4"/>
<path d="M261.31,228.29 C261.61,228.52 262.40,229.52 263.08,229.65 C263.77,229.78 264.59,229.47 265.44,229.07 C266.28,228.68 267.26,227.84 268.15,227.31 C269.04,226.77 269.86,226.01 270.76,225.85 C271.67,225.69 272.95,225.79 273.60,226.33 C274.25,226.87 274.41,228.01 274.68,229.07 C274.95,230.13 274.94,231.66 275.22,232.70 C275.50,233.74 275.78,234.79 276.38,235.31 C276.97,235.83 277.83,235.89 278.80,235.80 C279.77,235.71 281.12,235.00 282.20,234.75 C283.28,234.51 284.43,234.24 285.28,234.32 C286.13,234.40 286.84,234.65 287.29,235.22 C287.75,235.79 287.88,236.76 288.01,237.74 C288.14,238.72 287.97,240.06 288.06,241.09 C288.14,242.13 288.20,243.28 288.51,243.95 C288.82,244.61 289.18,244.86 289.93,245.07 C290.68,245.28 291.90,245.23 293.00,245.20 C294.10,245.17 295.51,244.83 296.52,244.88 C297.53,244.94 298.49,245.04 299.06,245.54 C299.63,246.04 299.84,246.92 299.93,247.87 C300.02,248.82 299.80,250.19 299.59,251.22 C299.39,252.26 298.75,253.27 298.69,254.09 C298.63,254.92 298.78,255.63 299.26,256.16 C299.73,256.70 300.64,256.99 301.57,257.28 C302.49,257.57 303.80,257.65 304.79,257.90 C305.78,258.16 306.82,258.20 307.51,258.80 C308.20,259.39 308.96,260.59 308.95,261.46 C308.94,262.33 308.08,263.14 307.45,264.01 C306.82,264.88 305.74,265.83 305.18,266.69 C304.62,267.55 304.08,268.41 304.09,269.17 C304.10,269.92 304.57,270.59 305.24,271.23 C305.91,271.87 307.29,272.28 308.10,273.02 C308.91,273.76 309.72,274.83 310.09,275.65 C310.45,276.48 310.58,277.26 310.27,277.96 C309.97,278.66 309.09,279.26 308.24,279.86 C307.39,280.46 305.95,281.19 305.17,281.58 C304.38,281.96 303.98,281.77 303.55,282.16 C303.11,282.55 302.66,283.16 302.55,283.91 C302.43,284.66 302.69,285.68 302.87,286.65 C303.05,287.62 303.49,288.78 303.62,289.71 C303.75,290.64 304.08,291.42 303.65,292.24 C303.22,293.06 301.94,294.41 301.05,294.61 C300.15,294.82 299.23,293.93 298.27,293.48 C297.31,293.02 296.22,292.22 295.31,291.88 C294.40,291.54 293.52,291.26 292.82,291.45 C292.12,291.63 291.59,292.24 291.12,293.00 C290.65,293.77 290.55,295.19 290.00,296.04 C289.44,296.89 288.49,297.63 287.77,298.09 C287.05,298.55 286.35,298.87 285.68,298.78 C285.02,298.70 284.39,298.21 283.78,297.60 C283.17,296.98 282.64,295.54 282.01,295.11 C281.38,294.68 280.33,295.02 280.00,295.00" fill="none" stroke="#686868" stroke-width="6" stroke-linecap="round" stroke-linejoin="round"/><path d="M261.31,228.29 C261.61,228.52 262.40,229.52 263.08,229.65 C263.77,229.78 264.59,229.47 265.44,229.07 C266.28,228.68 267.26,227.84 268.15,227.31 C269.04,226.77 269.86,226.01 270.76,225.85 C271.67,225.69 272.95,225.79 273.60,226.33 C274.25,226.87 274.41,228.01 274.68,229.07 C274.95,230.13 274.94,231.66 275.22,232.70 C275.50,233.74 275.78,234.79 276.38,235.31 C276.97,235.83 277.83,235.89 278.80,235.80 C279.77,235.71 281.12,235.00 282.20,234.75 C283.28,234.51 284.43,234.24 285.28,234.32 C286.13,234.40 286.84,234.65 287.29,235.22 C287.75,235.79 287.88,236.76 288.01,237.74 C288.14,238.72 287.97,240.06 288.06,241.09 C288.14,242.13 288.20,243.28 288.51,243.95 C288.82,244.61 289.18,244.86 289.93,245.07 C290.68,245.28 291.90,245.23 293.00,245.20 C294.10,245.17 295.51,244.83 296.52,244.88 C297.53,244.94 298.49,245.04 299.06,245.54 C299.63,246.04 299.84,246.92 299.93,247.87 C300.02,248.82 299.80,250.19 299.59,251.22 C299.39,252.26 298.75,253.27 298.69,254.09 C298.63,254.92 298.78,255.63 299.26,256.16 C299.73,256.70 300.64,256.99 301.57,257.28 C302.49,257.57 303.80,257.65 304.79,257.90 C305.78,258.16 306.82,258.20 307.51,258.80 C308.20,259.39 308.96,260.59 308.95,261.46 C308.94,262.33 308.08,263.14 307.45,264.01 C306.82,264.88 305.74,265.83 305.18,266.69 C304.62,267.55 304.08,268.41 304.09,269.17 C304.10,269.92 304.57,270.59 305.24,271.23 C305.91,271.87 307.29,272.28 308.10,273.02 C308.91,273.76 309.72,274.83 310.09,275.65 C310.45,276.48 310.58,277.26 310.27,277.96 C309.97,278.66 309.09,279.26 308.24,279.86 C307.39,280.46 305.95,281.19 305.17,281.58 C304.38,281.96 303.98,281.77 303.55,282.16 C303.11,282.55 302.66,283.16 302.55,283.91 C302.43,284.66 302.69,285.68 302.87,286.65 C303.05,287.62 303.49,288.78 303.62,289.71 C303.75,290.64 304.08,291.42 303.65,292.24 C303.22,293.06 301.94,294.41 301.05,294.61 C300.15,294.82 299.23,293.93 298.27,293.48 C297.31,293.02 296.22,292.22 295.31,291.88 C294.40,291.54 293.52,291.26 292.82,291.45 C292.12,291.63 291.59,292.24 291.12,293.00 C290.65,293.77 290.55,295.19 290.00,296.04 C289.44,296.89 288.49,297.63 287.77,298.09 C287.05,298.55 286.35,298.87 285.68,298.78 C285.02,298.70 284.39,298.21 283.78,297.60 C283.17,296.98 282.64,295.54 282.01,295.11 C281.38,294.68 280.33,295.02 280.00,295.00" fill="none" stroke="#a0a0a0" stroke-width="4.2" stroke-linecap="round" stroke-linejoin="round"/>
<path d="M246.15,233.24 C246.41,233.71 247.12,235.31 247.67,236.03 C248.22,236.75 248.79,237.40 249.45,237.55 C250.11,237.69 250.88,237.35 251.66,236.92 C252.44,236.48 253.25,235.49 254.13,234.95 C255.01,234.40 256.16,233.68 256.95,233.62 C257.74,233.56 258.37,233.95 258.89,234.59 C259.40,235.23 259.67,236.49 260.05,237.46 C260.44,238.44 260.68,239.76 261.18,240.46 C261.67,241.16 262.27,241.63 263.01,241.68 C263.75,241.72 264.67,241.11 265.64,240.72 C266.61,240.34 267.88,239.57 268.82,239.37 C269.75,239.17 270.62,239.09 271.24,239.52 C271.86,239.95 272.17,240.99 272.52,241.97 C272.86,242.94 273.00,244.48 273.31,245.37 C273.63,246.26 273.83,246.93 274.39,247.29 C274.96,247.66 275.81,247.64 276.70,247.55 C277.59,247.45 278.79,246.92 279.76,246.73 C280.72,246.53 281.77,246.22 282.48,246.38 C283.20,246.54 283.71,246.99 284.06,247.68 C284.40,248.37 284.47,249.59 284.55,250.52 C284.63,251.46 284.39,252.48 284.52,253.29 C284.65,254.11 284.76,254.97 285.32,255.42 C285.88,255.87 286.89,255.93 287.87,256.01 C288.85,256.09 290.24,255.83 291.21,255.92 C292.18,256.01 293.11,256.03 293.69,256.57 C294.27,257.11 294.74,258.20 294.68,259.16 C294.62,260.12 293.68,261.33 293.33,262.33 C292.99,263.34 292.48,264.43 292.61,265.20 C292.73,265.97 293.30,266.52 294.09,266.95 C294.88,267.39 296.27,267.36 297.34,267.83 C298.42,268.29 299.98,269.09 300.53,269.75 C301.09,270.40 300.95,271.05 300.68,271.75 C300.42,272.45 299.59,273.21 298.94,273.95 C298.29,274.68 297.28,275.46 296.79,276.18 C296.30,276.90 295.89,277.77 296.02,278.28 C296.14,278.79 297.04,278.56 297.52,279.26 C298.00,279.96 298.59,281.46 298.91,282.46 C299.23,283.45 299.65,284.49 299.46,285.23 C299.26,285.96 298.47,286.40 297.73,286.86 C296.99,287.33 295.45,287.81 295.00,288.00" fill="none" stroke="#686868" stroke-width="6" stroke-linecap="round" stroke-linejoin="round"/><path d="M246.15,233.24 C246.41,233.71 247.12,235.31 247.67,236.03 C248.22,236.75 248.79,237.40 249.45,237.55 C250.11,237.69 250.88,237.35 251.66,236.92 C252.44,236.48 253.25,235.49 254.13,234.95 C255.01,234.40 256.16,233.68 256.95,233.62 C257.74,233.56 258.37,233.95 258.89,234.59 C259.40,235.23 259.67,236.49 260.05,237.46 C260.44,238.44 260.68,239.76 261.18,240.46 C261.67,241.16 262.27,241.63 263.01,241.68 C263.75,241.72 264.67,241.11 265.64,240.72 C266.61,240.34 267.88,239.57 268.82,239.37 C269.75,239.17 270.62,239.09 271.24,239.52 C271.86,239.95 272.17,240.99 272.52,241.97 C272.86,242.94 273.00,244.48 273.31,245.37 C273.63,246.26 273.83,246.93 274.39,247.29 C274.96,247.66 275.81,247.64 276.70,247.55 C277.59,247.45 278.79,246.92 279.76,246.73 C280.72,246.53 281.77,246.22 282.48,246.38 C283.20,246.54 283.71,246.99 284.06,247.68 C284.40,248.37 284.47,249.59 284.55,250.52 C284.63,251.46 284.39,252.48 284.52,253.29 C284.65,254.11 284.76,254.97 285.32,255.42 C285.88,255.87 286.89,255.93 287.87,256.01 C288.85,256.09 290.24,255.83 291.21,255.92 C292.18,256.01 293.11,256.03 293.69,256.57 C294.27,257.11 294.74,258.20 294.68,259.16 C294.62,260.12 293.68,261.33 293.33,262.33 C292.99,263.34 292.48,264.43 292.61,265.20 C292.73,265.97 293.30,266.52 294.09,266.95 C294.88,267.39 296.27,267.36 297.34,267.83 C298.42,268.29 299.98,269.09 300.53,269.75 C301.09,270.40 300.95,271.05 300.68,271.75 C300.42,272.45 299.59,273.21 298.94,273.95 C298.29,274.68 297.28,275.46 296.79,276.18 C296.30,276.90 295.89,277.77 296.02,278.28 C296.14,278.79 297.04,278.56 297.52,279.26 C298.00,279.96 298.59,281.46 298.91,282.46 C299.23,283.45 299.65,284.49 299.46,285.23 C299.26,285.96 298.47,286.40 297.73,286.86 C296.99,287.33 295.45,287.81 295.00,288.00" fill="none" stroke="#a0a0a0" stroke-width="4.2" stroke-linecap="round" stroke-linejoin="round"/>
<path d="M222.29,247.47 C222.61,247.32 223.59,247.01 224.20,246.58 C224.81,246.16 225.36,245.45 225.95,244.93 C226.54,244.42 227.11,243.80 227.74,243.49 C228.37,243.18 229.03,243.04 229.73,243.07 C230.44,243.10 231.24,243.41 231.97,243.69 C232.70,243.97 233.40,244.52 234.10,244.75 C234.79,244.98 235.48,245.17 236.15,245.09 C236.82,245.02 237.45,244.68 238.09,244.30 C238.73,243.92 239.29,243.27 239.96,242.82 C240.64,242.38 241.44,241.79 242.14,241.63 C242.83,241.48 243.48,241.63 244.13,241.88 C244.78,242.13 245.40,242.68 246.03,243.13 C246.66,243.58 247.26,244.23 247.90,244.59 C248.54,244.95 249.21,245.25 249.85,245.29 C250.49,245.33 251.04,245.02 251.75,244.83 C252.47,244.64 253.36,244.31 254.14,244.15 C254.91,243.98 255.71,243.75 256.41,243.83 C257.11,243.91 257.75,244.21 258.35,244.63 C258.95,245.06 259.40,245.99 260.00,246.39 C260.61,246.78 261.67,246.90 262.00,247.00" fill="none" stroke="#686868" stroke-width="5.4" stroke-linecap="round" stroke-linejoin="round"/><path d="M222.29,247.47 C222.61,247.32 223.59,247.01 224.20,246.58 C224.81,246.16 225.36,245.45 225.95,244.93 C226.54,244.42 227.11,243.80 227.74,243.49 C228.37,243.18 229.03,243.04 229.73,243.07 C230.44,243.10 231.24,243.41 231.97,243.69 C232.70,243.97 233.40,244.52 234.10,244.75 C234.79,244.98 235.48,245.17 236.15,245.09 C236.82,245.02 237.45,244.68 238.09,244.30 C238.73,243.92 239.29,243.27 239.96,242.82 C240.64,242.38 241.44,241.79 242.14,241.63 C242.83,241.48 243.48,241.63 244.13,241.88 C244.78,242.13 245.40,242.68 246.03,243.13 C246.66,243.58 247.26,244.23 247.90,244.59 C248.54,244.95 249.21,245.25 249.85,245.29 C250.49,245.33 251.04,245.02 251.75,244.83 C252.47,244.64 253.36,244.31 254.14,244.15 C254.91,243.98 255.71,243.75 256.41,243.83 C257.11,243.91 257.75,244.21 258.35,244.63 C258.95,245.06 259.40,245.99 260.00,246.39 C260.61,246.78 261.67,246.90 262.00,247.00" fill="none" stroke="#a0a0a0" stroke-width="3.6" stroke-linecap="round" stroke-linejoin="round"/>
<path d="M188.4,247.2 Q191.2,248.1 192.8,250.6" fill="none" stroke="#888" stroke-width="3.2" stroke-linecap="round"/>
<path d="M193.4,242.2 Q195.2,243.2 197.0,244.1" fill="none" stroke="#888" stroke-width="3.2" stroke-linecap="round"/>
<path d="M197.9,235.9 Q198.7,237.9 199.8,239.7" fill="none" stroke="#888" stroke-width="3.2" stroke-linecap="round"/>
<path d="M203.7,233.3 Q204.6,235.2 205.0,237.2" fill="none" stroke="#888" stroke-width="3.2" stroke-linecap="round"/>
<path d="M205.9,228.0 Q205.4,230.9 206.2,233.8" fill="none" stroke="#888" stroke-width="3.2" stroke-linecap="round"/>
<path d="M213.4,229.4 Q212.0,231.7 209.5,232.4" fill="none" stroke="#888" stroke-width="3.2" stroke-linecap="round"/>
<path d="M213.1,227.3 Q216.9,226.4 220.4,224.9" fill="none" stroke="#888" stroke-width="3.2" stroke-linecap="round"/>
<path d="M216.0,222.0 Q216.2,224.9 217.6,227.3" fill="none" stroke="#888" stroke-width="3.2" stroke-linecap="round"/>
<path d="M224.0,222.2 Q224.5,224.8 225.9,227.0" fill="none" stroke="#888" stroke-width="3.2" stroke-linecap="round"/>
<path d="M225.4,228.2 Q222.3,228.0 220.3,225.8" fill="none" stroke="#888" stroke-width="3.2" stroke-linecap="round"/>
<path d="M228.0,232.8 Q228.5,235.2 227.9,237.6" fill="none" stroke="#888" stroke-width="3.2" stroke-linecap="round"/>
<path d="M231.5,227.2 Q233.5,228.8 236.1,228.6" fill="none" stroke="#888" stroke-width="3.2" stroke-linecap="round"/>
<path d="M234.2,222.8 Q232.2,223.3 230.0,223.3" fill="none" stroke="#888" stroke-width="3.2" stroke-linecap="round"/>
<path d="M236.1,230.6 Q234.1,231.1 232.1,231.4" fill="none" stroke="#888" stroke-width="3.2" stroke-linecap="round"/>
<path d="M188.4,247.2 Q191.2,248.1 192.8,250.6" fill="none" stroke="#444" stroke-width="1.0" stroke-linecap="round"/>
<path d="M193.4,242.2 Q195.2,243.2 197.0,244.1" fill="none" stroke="#444" stroke-width="1.0" stroke-linecap="round"/>
<path d="M197.9,235.9 Q198.7,237.9 199.8,239.7" fill="none" stroke="#444" stroke-width="1.0" stroke-linecap="round"/>
<path d="M203.7,233.3 Q204.6,235.2 205.0,237.2" fill="none" stroke="#444" stroke-width="1.0" stroke-linecap="round"/>
<path d="M205.9,228.0 Q205.4,230.9 206.2,233.8" fill="none" stroke="#444" stroke-width="1.0" stroke-linecap="round"/>
<path d="M213.4,229.4 Q212.0,231.7 209.5,232.4" fill="none" stroke="#444" stroke-width="1.0" stroke-linecap="round"/>
<path d="M213.1,227.3 Q216.9,226.4 220.4,224.9" fill="none" stroke="#444" stroke-width="1.0" stroke-linecap="round"/>
<path d="M216.0,222.0 Q216.2,224.9 217.6,227.3" fill="none" stroke="#444" stroke-width="1.0" stroke-linecap="round"/>
<path d="M224.0,222.2 Q224.5,224.8 225.9,227.0" fill="none" stroke="#444" stroke-width="1.0" stroke-linecap="round"/>
<path d="M225.4,228.2 Q222.3,228.0 220.3,225.8" fill="none" stroke="#444" stroke-width="1.0" stroke-linecap="round"/>
<path d="M228.0,232.8 Q228.5,235.2 227.9,237.6" fill="none" stroke="#444" stroke-width="1.0" stroke-linecap="round"/>
<path d="M231.5,227.2 Q233.5,228.8 236.1,228.6" fill="none" stroke="#444" stroke-width="1.0" stroke-linecap="round"/>
<path d="M234.2,222.8 Q232.2,223.3 230.0,223.3" fill="none" stroke="#444" stroke-width="1.0" stroke-linecap="round"/>
<path d="M236.1,230.6 Q234.1,231.1 232.1,231.4" fill="none" stroke="#444" stroke-width="1.0" stroke-linecap="round"/>
<path d="M232.00,250.00 C233.33,249.67 237.33,248.08 240.00,248.00 C242.67,247.92 245.33,249.50 248.00,249.50 C250.67,249.50 253.33,247.75 256.00,248.00 C258.67,248.25 261.33,250.00 264.00,251.00 C266.67,252.00 269.33,252.83 272.00,254.00 C274.67,255.17 277.33,256.50 280.00,258.00 C282.67,259.50 285.67,261.17 288.00,263.00 C290.33,264.83 292.17,266.83 294.00,269.00 C295.83,271.17 297.83,273.50 299.00,276.00 C300.17,278.50 301.00,281.33 301.00,284.00 C301.00,286.67 299.33,290.67 299.00,292.00" fill="none" stroke="#3a3a3a" stroke-width="1.3"/>
<path d="M238.00,244.00 C239.33,243.67 243.33,242.17 246.00,242.00 C248.67,241.83 252.67,242.83 254.00,243.00" fill="none" stroke="#3a3a3a" stroke-width="1.1"/>
<ellipse cx="262" cy="228.5" rx="2" ry="4" transform="rotate(20 262 228.5)" fill="#f2f2f2"/>
<ellipse cx="276" cy="234" rx="2.2" ry="2" transform="rotate(0 276 234)" fill="#f2f2f2"/>
<ellipse cx="255.8" cy="235.5" rx="2.6" ry="1.2" transform="rotate(0 255.8 235.5)" fill="#f2f2f2"/>
<ellipse cx="288.5" cy="283.8" rx="7" ry="1.6" transform="rotate(-10 288.5 283.8)" fill="#f2f2f2"/>
<ellipse cx="289" cy="291" rx="8" ry="1.3" transform="rotate(-15 289 291)" fill="#f2f2f2"/>
<path d="M182.80,297.00 C181.45,296.42 180.65,292.95 179.30,291.20 C177.95,289.45 175.47,288.83 174.70,286.50 C173.93,284.17 174.13,280.68 174.70,277.20 C175.27,273.72 176.95,268.50 178.10,265.60 C179.25,262.70 180.62,261.93 181.60,259.80 C182.58,257.67 182.83,254.93 184.00,252.80 C185.17,250.67 187.20,248.18 188.60,247.00 C190.00,245.82 191.43,247.05 192.40,245.70 C193.37,244.35 193.17,240.82 194.40,238.90 C195.63,236.98 198.55,235.33 199.80,234.20 C201.05,233.07 201.33,232.22 201.90,232.10 C202.47,231.98 202.42,233.50 203.20,233.50 C203.98,233.50 206.25,233.00 206.60,232.10 C206.95,231.20 204.85,228.88 205.30,228.10 C205.75,227.32 207.95,227.18 209.30,227.40 C210.65,227.62 212.50,228.62 213.40,229.40 C214.30,230.18 214.93,233.00 214.70,232.10 C214.47,231.20 211.77,225.68 212.00,224.00 C212.23,222.32 214.52,222.23 216.10,222.00 C217.68,221.77 219.92,222.60 221.50,222.60 C223.08,222.60 224.80,221.55 225.60,222.00 C226.40,222.45 226.53,223.62 226.30,225.30 C226.07,226.98 223.87,230.85 224.20,232.10 C224.53,233.35 227.17,232.80 228.30,232.80 C229.43,232.80 230.43,233.35 231.00,232.10 C231.57,230.85 231.25,227.10 231.70,225.30 C232.15,223.50 233.13,221.30 233.70,221.30 C234.27,221.30 234.65,223.50 235.10,225.30 C235.55,227.10 235.83,231.42 236.40,232.10 C236.97,232.78 238.03,230.98 238.50,229.40 C238.97,227.82 238.42,224.40 239.20,222.60 C239.98,220.80 241.63,219.50 243.20,218.60 C244.77,217.70 247.40,216.53 248.60,217.20 C249.80,217.87 249.20,222.15 250.40,222.60 C251.60,223.05 254.22,220.68 255.80,219.90 C257.38,219.12 258.08,218.23 259.90,217.90 C261.72,217.57 264.22,217.33 266.70,217.90 C269.18,218.47 272.08,220.17 274.80,221.30 C277.52,222.43 280.97,223.57 283.00,224.70 C285.03,225.83 286.10,226.87 287.00,228.10 C287.90,229.33 287.48,231.08 288.40,232.10 C289.32,233.12 291.15,233.40 292.50,234.20 C293.85,235.00 294.92,236.23 296.50,236.90 C298.08,237.57 300.42,237.42 302.00,238.20 C303.58,238.98 304.65,240.35 306.00,241.60 C307.35,242.85 309.20,244.35 310.10,245.70 C311.00,247.05 311.40,248.57 311.40,249.70 C311.40,250.83 309.75,251.58 310.10,252.50 C310.45,253.42 312.82,254.30 313.50,255.20 C314.18,256.10 313.63,256.77 314.20,257.90 C314.77,259.03 316.12,260.42 316.90,262.00 C317.68,263.58 318.43,265.73 318.90,267.40 C319.37,269.07 319.75,270.12 319.70,272.00 C319.65,273.88 319.37,277.10 318.60,278.70 C317.83,280.30 315.10,280.63 315.10,281.60 C315.10,282.57 318.02,283.03 318.60,284.50 C319.18,285.97 319.00,288.45 318.60,290.40 C318.20,292.35 317.18,294.45 316.20,296.20 C315.22,297.95 314.83,299.53 312.70,300.90 C310.57,302.27 306.90,303.63 303.40,304.40 C299.90,305.17 295.20,305.60 291.70,305.50 C288.20,305.40 285.12,304.67 282.40,303.80 C279.68,302.93 277.15,301.18 275.40,300.30 C273.65,299.42 273.07,299.38 271.90,298.50 C270.73,297.62 269.38,295.97 268.40,295.00 C267.42,294.03 266.90,294.20 266.00,292.70 C265.10,291.20 263.83,288.45 263.00,286.00 C262.17,283.55 262.33,280.50 261.00,278.00 C259.67,275.50 257.33,272.33 255.00,271.00 C252.67,269.67 249.33,269.83 247.00,270.00 C244.67,270.17 242.83,271.75 241.00,272.00 C239.17,272.25 237.67,271.92 236.00,271.50 C234.33,271.08 232.33,270.75 231.00,269.50 C229.67,268.25 229.05,265.42 228.00,264.00 C226.95,262.58 226.23,260.55 224.70,261.00 C223.17,261.45 220.55,264.97 218.80,266.70 C217.05,268.43 215.55,270.23 214.20,271.40 C212.85,272.57 211.87,272.53 210.70,273.70 C209.53,274.87 208.95,276.85 207.20,278.40 C205.45,279.95 202.52,281.07 200.20,283.00 C197.88,284.93 195.43,288.05 193.30,290.00 C191.17,291.95 189.15,293.53 187.40,294.70 C185.65,295.87 184.15,297.58 182.80,297.00 Z" fill="none" stroke="#4a4a4a" stroke-width="1.8"/>
</g>
<path d="M230.50,257.50 C231.57,256.13 232.08,255.58 235.20,255.20 C238.32,254.82 244.92,254.82 249.20,255.20 C253.48,255.58 257.00,256.13 260.90,257.50 C264.80,258.87 268.90,261.25 272.60,263.40 C276.30,265.55 280.18,268.07 283.10,270.40 C286.02,272.73 288.75,275.65 290.10,277.40 C291.45,279.15 291.98,279.93 291.20,280.90 C290.42,281.87 287.92,282.82 285.40,283.20 C282.88,283.58 276.68,284.17 276.10,283.20 C275.52,282.23 281.52,279.35 281.90,277.40 C282.28,275.45 280.55,273.45 278.40,271.50 C276.25,269.55 272.50,267.25 269.00,265.70 C265.50,264.15 261.08,262.98 257.40,262.20 C253.72,261.42 249.63,260.90 246.90,261.00 C244.17,261.10 242.37,261.82 241.00,262.80 C239.63,263.78 239.67,265.45 238.70,266.90 C237.73,268.35 236.57,270.92 235.20,271.50 C233.83,272.08 231.57,271.75 230.50,270.40 C229.43,269.05 228.80,265.55 228.80,263.40 C228.80,261.25 229.43,258.87 230.50,257.50 Z" fill="#d4d4d4" stroke="#5a5a5a" stroke-width="0.9"/>
<path d="M246.90,262.00 C247.88,261.37 253.72,262.42 257.40,263.20 C261.08,263.98 265.57,265.15 269.00,266.70 C272.43,268.25 276.05,270.95 278.00,272.50 C279.95,274.05 281.03,274.58 280.70,276.00 C280.37,277.42 278.33,280.00 276.00,281.00 C273.67,282.00 269.62,283.00 266.70,282.00 C263.78,281.00 261.03,277.50 258.50,275.00 C255.97,272.50 253.43,269.17 251.50,267.00 C249.57,264.83 245.92,262.63 246.90,262.00 Z" fill="#fbfbfb"/>
<path d="M241.50,270.00 C243.17,268.58 247.42,268.17 250.00,268.50 C252.58,268.83 255.17,270.25 257.00,272.00 C258.83,273.75 260.17,276.67 261.00,279.00 C261.83,281.33 262.83,284.33 262.00,286.00 C261.17,287.67 258.33,288.67 256.00,289.00 C253.67,289.33 250.33,288.83 248.00,288.00 C245.67,287.17 243.33,285.83 242.00,284.00 C240.67,282.17 240.08,279.33 240.00,277.00 C239.92,274.67 239.83,271.42 241.50,270.00 Z" fill="#858585" stroke="#555" stroke-width="0.8"/>
<ellipse cx="243.4" cy="280.9" rx="1.5" ry="1.2" fill="#333"/>
<path d="M241.00,276.50 C242.10,274.85 243.72,272.33 245.90,271.50 C248.08,270.67 251.63,270.58 254.10,271.50 C256.57,272.42 259.32,274.80 260.70,277.00 C262.08,279.20 263.77,282.05 262.40,284.70 C261.03,287.35 254.43,290.43 252.50,292.90 C250.57,295.37 250.93,296.75 250.80,299.50 C250.67,302.25 251.97,306.38 251.70,309.40 C251.43,312.42 251.27,315.40 249.20,317.60 C247.13,319.80 241.50,320.68 239.30,322.60 C237.10,324.52 237.10,326.08 236.00,329.10 C234.90,332.12 234.20,338.63 232.70,340.70 C231.20,342.77 228.78,341.45 227.00,341.50 C225.22,341.55 222.68,343.07 222.00,341.00 C221.32,338.93 221.93,333.27 222.90,329.10 C223.87,324.93 226.43,320.38 227.80,316.00 C229.17,311.62 230.28,306.92 231.10,302.80 C231.92,298.68 232.15,294.05 232.70,291.30 C233.25,288.55 233.30,287.95 234.40,286.30 C235.50,284.65 238.20,283.03 239.30,281.40 C240.40,279.77 239.90,278.15 241.00,276.50 Z" fill="url(#bsg)" stroke="#555" stroke-width="1"/>
<clipPath id="c3b"><path d="M209.70,284.70 C210.62,284.03 211.28,286.70 212.00,286.50 C212.72,286.30 213.02,283.80 214.00,283.50 C214.98,283.20 217.07,284.03 217.90,284.70 C218.73,285.37 218.32,287.20 219.00,287.50 C219.68,287.80 221.08,286.15 222.00,286.50 C222.92,286.85 224.17,288.60 224.50,289.60 C224.83,290.60 223.32,291.40 224.00,292.50 C224.68,293.60 227.97,295.03 228.60,296.20 C229.23,297.37 228.57,298.70 227.80,299.50 C227.03,300.30 225.10,299.90 224.00,301.00 C222.90,302.10 221.37,304.77 221.20,306.10 C221.03,307.43 223.13,307.90 223.00,309.00 C222.87,310.10 220.65,311.20 220.40,312.70 C220.15,314.20 221.50,316.08 221.50,318.00 C221.50,319.92 221.27,322.48 220.40,324.20 C219.53,325.92 217.67,328.30 216.30,328.30 C214.93,328.30 213.03,325.70 212.20,324.20 C211.37,322.70 212.00,320.00 211.30,319.30 C210.60,318.60 209.08,320.55 208.00,320.00 C206.92,319.45 205.97,316.42 204.80,316.00 C203.63,315.58 202.13,317.58 201.00,317.50 C199.87,317.42 199.30,316.30 198.00,315.50 C196.70,314.70 193.70,313.70 193.20,312.70 C192.70,311.70 195.27,310.60 195.00,309.50 C194.73,308.40 191.62,307.48 191.60,306.10 C191.58,304.72 194.58,302.63 194.90,301.20 C195.22,299.77 193.23,298.60 193.50,297.50 C193.77,296.40 195.50,294.93 196.50,294.60 C197.50,294.27 198.67,295.78 199.50,295.50 C200.33,295.22 200.62,294.15 201.50,292.90 C202.38,291.65 203.97,288.40 204.80,288.00 C205.63,287.60 205.68,291.05 206.50,290.50 C207.32,289.95 208.78,285.37 209.70,284.70 Z"/></clipPath>
<g clip-path="url(#c3b)">
<path d="M209.70,284.70 C210.62,284.03 211.28,286.70 212.00,286.50 C212.72,286.30 213.02,283.80 214.00,283.50 C214.98,283.20 217.07,284.03 217.90,284.70 C218.73,285.37 218.32,287.20 219.00,287.50 C219.68,287.80 221.08,286.15 222.00,286.50 C222.92,286.85 224.17,288.60 224.50,289.60 C224.83,290.60 223.32,291.40 224.00,292.50 C224.68,293.60 227.97,295.03 228.60,296.20 C229.23,297.37 228.57,298.70 227.80,299.50 C227.03,300.30 225.10,299.90 224.00,301.00 C222.90,302.10 221.37,304.77 221.20,306.10 C221.03,307.43 223.13,307.90 223.00,309.00 C222.87,310.10 220.65,311.20 220.40,312.70 C220.15,314.20 221.50,316.08 221.50,318.00 C221.50,319.92 221.27,322.48 220.40,324.20 C219.53,325.92 217.67,328.30 216.30,328.30 C214.93,328.30 213.03,325.70 212.20,324.20 C211.37,322.70 212.00,320.00 211.30,319.30 C210.60,318.60 209.08,320.55 208.00,320.00 C206.92,319.45 205.97,316.42 204.80,316.00 C203.63,315.58 202.13,317.58 201.00,317.50 C199.87,317.42 199.30,316.30 198.00,315.50 C196.70,314.70 193.70,313.70 193.20,312.70 C192.70,311.70 195.27,310.60 195.00,309.50 C194.73,308.40 191.62,307.48 191.60,306.10 C191.58,304.72 194.58,302.63 194.90,301.20 C195.22,299.77 193.23,298.60 193.50,297.50 C193.77,296.40 195.50,294.93 196.50,294.60 C197.50,294.27 198.67,295.78 199.50,295.50 C200.33,295.22 200.62,294.15 201.50,292.90 C202.38,291.65 203.97,288.40 204.80,288.00 C205.63,287.60 205.68,291.05 206.50,290.50 C207.32,289.95 208.78,285.37 209.70,284.70 Z" fill="#878787"/>
<line x1="217.0" y1="303.0" x2="234.0" y2="303.0" stroke="#b0b0b0" stroke-width="1.6"/>
<line x1="216.7" y1="304.2" x2="232.3" y2="311.1" stroke="#b0b0b0" stroke-width="1.6"/>
<line x1="216.0" y1="305.2" x2="227.4" y2="317.9" stroke="#b0b0b0" stroke-width="1.6"/>
<line x1="214.9" y1="305.9" x2="220.2" y2="322.0" stroke="#b0b0b0" stroke-width="1.6"/>
<line x1="213.7" y1="306.0" x2="211.9" y2="322.9" stroke="#b0b0b0" stroke-width="1.6"/>
<line x1="212.5" y1="305.6" x2="204.0" y2="320.3" stroke="#b0b0b0" stroke-width="1.6"/>
<line x1="211.6" y1="304.8" x2="197.8" y2="314.8" stroke="#b0b0b0" stroke-width="1.6"/>
<line x1="211.1" y1="303.6" x2="194.4" y2="307.2" stroke="#b0b0b0" stroke-width="1.6"/>
<line x1="211.1" y1="302.4" x2="194.4" y2="298.8" stroke="#b0b0b0" stroke-width="1.6"/>
<line x1="211.6" y1="301.2" x2="197.8" y2="291.2" stroke="#b0b0b0" stroke-width="1.6"/>
<line x1="212.5" y1="300.4" x2="204.0" y2="285.7" stroke="#b0b0b0" stroke-width="1.6"/>
<line x1="213.7" y1="300.0" x2="211.9" y2="283.1" stroke="#b0b0b0" stroke-width="1.6"/>
<line x1="214.9" y1="300.1" x2="220.2" y2="284.0" stroke="#b0b0b0" stroke-width="1.6"/>
<line x1="216.0" y1="300.8" x2="227.4" y2="288.1" stroke="#b0b0b0" stroke-width="1.6"/>
<line x1="216.7" y1="301.8" x2="232.3" y2="294.9" stroke="#b0b0b0" stroke-width="1.6"/>
<path d="M209.70,284.70 C210.62,284.03 211.28,286.70 212.00,286.50 C212.72,286.30 213.02,283.80 214.00,283.50 C214.98,283.20 217.07,284.03 217.90,284.70 C218.73,285.37 218.32,287.20 219.00,287.50 C219.68,287.80 221.08,286.15 222.00,286.50 C222.92,286.85 224.17,288.60 224.50,289.60 C224.83,290.60 223.32,291.40 224.00,292.50 C224.68,293.60 227.97,295.03 228.60,296.20 C229.23,297.37 228.57,298.70 227.80,299.50 C227.03,300.30 225.10,299.90 224.00,301.00 C222.90,302.10 221.37,304.77 221.20,306.10 C221.03,307.43 223.13,307.90 223.00,309.00 C222.87,310.10 220.65,311.20 220.40,312.70 C220.15,314.20 221.50,316.08 221.50,318.00 C221.50,319.92 221.27,322.48 220.40,324.20 C219.53,325.92 217.67,328.30 216.30,328.30 C214.93,328.30 213.03,325.70 212.20,324.20 C211.37,322.70 212.00,320.00 211.30,319.30 C210.60,318.60 209.08,320.55 208.00,320.00 C206.92,319.45 205.97,316.42 204.80,316.00 C203.63,315.58 202.13,317.58 201.00,317.50 C199.87,317.42 199.30,316.30 198.00,315.50 C196.70,314.70 193.70,313.70 193.20,312.70 C192.70,311.70 195.27,310.60 195.00,309.50 C194.73,308.40 191.62,307.48 191.60,306.10 C191.58,304.72 194.58,302.63 194.90,301.20 C195.22,299.77 193.23,298.60 193.50,297.50 C193.77,296.40 195.50,294.93 196.50,294.60 C197.50,294.27 198.67,295.78 199.50,295.50 C200.33,295.22 200.62,294.15 201.50,292.90 C202.38,291.65 203.97,288.40 204.80,288.00 C205.63,287.60 205.68,291.05 206.50,290.50 C207.32,289.95 208.78,285.37 209.70,284.70 Z" fill="none" stroke="#444" stroke-width="2"/>
</g>
<line x1="227.8" y1="299.5" x2="232.5" y2="296.5" stroke="#666" stroke-width="0.8"/>
<path d="M219.00,236.00 C219.53,235.17 220.83,233.75 222.00,233.50 C223.17,233.25 224.83,234.58 226.00,234.50 C227.17,234.42 228.00,233.28 229.00,233.00 C230.00,232.72 230.83,232.60 232.00,232.80 C233.17,233.00 235.27,233.42 236.00,234.20 C236.73,234.98 236.90,236.62 236.40,237.50 C235.90,238.38 234.40,239.17 233.00,239.50 C231.60,239.83 229.33,239.27 228.00,239.50 C226.67,239.73 226.17,240.73 225.00,240.90 C223.83,241.07 222.03,240.90 221.00,240.50 C219.97,240.10 219.13,239.25 218.80,238.50 C218.47,237.75 218.47,236.83 219.00,236.00 Z" fill="#ee9a22"/>
</g>
<clipPath id="c4r"><rect x="0" y="395" width="215.7" height="107"/></clipPath>
<g clip-path="url(#c4r)"><g filter="url(#bl9)">
<clipPath id="c4"><path d="M41.60,502.60 C41.83,499.43 41.78,494.38 42.40,491.00 C43.02,487.62 44.10,484.48 45.30,482.30 C46.50,480.12 48.40,478.52 49.60,477.90 C50.80,477.28 51.65,480.17 52.50,478.60 C53.35,477.03 53.85,470.78 54.70,468.50 C55.55,466.22 56.52,465.38 57.60,464.90 C58.68,464.42 60.13,465.17 61.20,465.60 C62.27,466.03 63.87,468.35 64.00,467.50 C64.13,466.65 62.22,462.27 62.00,460.50 C61.78,458.73 62.10,457.75 62.70,456.90 C63.30,456.05 63.90,455.53 65.60,455.40 C67.30,455.27 70.97,455.62 72.90,456.10 C74.83,456.58 76.27,458.65 77.20,458.30 C78.13,457.95 78.38,455.82 78.50,454.00 C78.62,452.18 77.38,449.22 77.90,447.40 C78.42,445.58 80.02,443.70 81.60,443.10 C83.18,442.50 85.47,443.20 87.40,443.80 C89.33,444.40 91.85,445.92 93.20,446.70 C94.55,447.48 94.97,449.80 95.50,448.50 C96.03,447.20 96.03,442.53 96.40,438.90 C96.77,435.27 96.80,429.63 97.70,426.70 C98.60,423.77 100.22,421.98 101.80,421.30 C103.38,420.62 105.85,421.25 107.20,422.60 C108.55,423.95 109.00,426.75 109.90,429.40 C110.80,432.05 111.68,439.85 112.60,438.50 C113.52,437.15 114.83,425.30 115.40,421.30 C115.97,417.30 115.22,415.97 116.00,414.50 C116.78,413.03 118.40,412.73 120.10,412.50 C121.80,412.27 124.62,412.53 126.20,413.10 C127.78,413.67 129.22,415.00 129.60,415.90 C129.98,416.80 128.27,417.15 128.50,418.50 C128.73,419.85 130.08,421.92 131.00,424.00 C131.92,426.08 133.00,431.17 134.00,431.00 C135.00,430.83 136.03,425.52 137.00,423.00 C137.97,420.48 138.67,417.65 139.80,415.90 C140.93,414.15 141.77,412.97 143.80,412.50 C145.83,412.03 149.73,412.32 152.00,413.10 C154.27,413.88 156.05,415.17 157.40,417.20 C158.75,419.23 159.42,422.48 160.10,425.30 C160.78,428.12 160.78,434.25 161.50,434.10 C162.22,433.95 163.12,426.98 164.40,424.40 C165.68,421.82 167.42,420.05 169.20,418.60 C170.98,417.15 173.15,415.70 175.10,415.70 C177.05,415.70 179.45,416.18 180.90,418.60 C182.35,421.02 182.83,429.40 183.80,430.20 C184.77,431.00 185.42,424.85 186.70,423.40 C187.98,421.95 190.22,421.33 191.50,421.50 C192.78,421.67 193.58,422.63 194.40,424.40 C195.22,426.17 195.43,430.97 196.40,432.10 C197.37,433.23 197.95,431.20 200.20,431.20 C202.45,431.20 207.47,430.98 209.90,432.10 C212.33,433.22 212.95,435.75 214.80,437.90 C216.65,440.05 219.80,439.65 221.00,445.00 C222.20,450.35 221.83,459.50 222.00,470.00 C222.17,480.50 229.00,501.00 222.00,508.00 C215.00,515.00 200.33,511.33 180.00,512.00 C159.67,512.67 123.17,512.33 100.00,512.00 C76.83,511.67 50.73,511.57 41.00,510.00 C31.27,508.43 41.37,505.77 41.60,502.60 Z"/></clipPath>
<g clip-path="url(#c4)">
<path d="M41.60,502.60 C41.83,499.43 41.78,494.38 42.40,491.00 C43.02,487.62 44.10,484.48 45.30,482.30 C46.50,480.12 48.40,478.52 49.60,477.90 C50.80,477.28 51.65,480.17 52.50,478.60 C53.35,477.03 53.85,470.78 54.70,468.50 C55.55,466.22 56.52,465.38 57.60,464.90 C58.68,464.42 60.13,465.17 61.20,465.60 C62.27,466.03 63.87,468.35 64.00,467.50 C64.13,466.65 62.22,462.27 62.00,460.50 C61.78,458.73 62.10,457.75 62.70,456.90 C63.30,456.05 63.90,455.53 65.60,455.40 C67.30,455.27 70.97,455.62 72.90,456.10 C74.83,456.58 76.27,458.65 77.20,458.30 C78.13,457.95 78.38,455.82 78.50,454.00 C78.62,452.18 77.38,449.22 77.90,447.40 C78.42,445.58 80.02,443.70 81.60,443.10 C83.18,442.50 85.47,443.20 87.40,443.80 C89.33,444.40 91.85,445.92 93.20,446.70 C94.55,447.48 94.97,449.80 95.50,448.50 C96.03,447.20 96.03,442.53 96.40,438.90 C96.77,435.27 96.80,429.63 97.70,426.70 C98.60,423.77 100.22,421.98 101.80,421.30 C103.38,420.62 105.85,421.25 107.20,422.60 C108.55,423.95 109.00,426.75 109.90,429.40 C110.80,432.05 111.68,439.85 112.60,438.50 C113.52,437.15 114.83,425.30 115.40,421.30 C115.97,417.30 115.22,415.97 116.00,414.50 C116.78,413.03 118.40,412.73 120.10,412.50 C121.80,412.27 124.62,412.53 126.20,413.10 C127.78,413.67 129.22,415.00 129.60,415.90 C129.98,416.80 128.27,417.15 128.50,418.50 C128.73,419.85 130.08,421.92 131.00,424.00 C131.92,426.08 133.00,431.17 134.00,431.00 C135.00,430.83 136.03,425.52 137.00,423.00 C137.97,420.48 138.67,417.65 139.80,415.90 C140.93,414.15 141.77,412.97 143.80,412.50 C145.83,412.03 149.73,412.32 152.00,413.10 C154.27,413.88 156.05,415.17 157.40,417.20 C158.75,419.23 159.42,422.48 160.10,425.30 C160.78,428.12 160.78,434.25 161.50,434.10 C162.22,433.95 163.12,426.98 164.40,424.40 C165.68,421.82 167.42,420.05 169.20,418.60 C170.98,417.15 173.15,415.70 175.10,415.70 C177.05,415.70 179.45,416.18 180.90,418.60 C182.35,421.02 182.83,429.40 183.80,430.20 C184.77,431.00 185.42,424.85 186.70,423.40 C187.98,421.95 190.22,421.33 191.50,421.50 C192.78,421.67 193.58,422.63 194.40,424.40 C195.22,426.17 195.43,430.97 196.40,432.10 C197.37,433.23 197.95,431.20 200.20,431.20 C202.45,431.20 207.47,430.98 209.90,432.10 C212.33,433.22 212.95,435.75 214.80,437.90 C216.65,440.05 219.80,439.65 221.00,445.00 C222.20,450.35 221.83,459.50 222.00,470.00 C222.17,480.50 229.00,501.00 222.00,508.00 C215.00,515.00 200.33,511.33 180.00,512.00 C159.67,512.67 123.17,512.33 100.00,512.00 C76.83,511.67 50.73,511.57 41.00,510.00 C31.27,508.43 41.37,505.77 41.60,502.60 Z" fill="#ececec" stroke="#b8b8b8" stroke-width="14"/>
<path d="M41.60,502.60 C41.83,499.43 41.78,494.38 42.40,491.00 C43.02,487.62 44.10,484.48 45.30,482.30 C46.50,480.12 48.40,478.52 49.60,477.90 C50.80,477.28 51.65,480.17 52.50,478.60 C53.35,477.03 53.85,470.78 54.70,468.50 C55.55,466.22 56.52,465.38 57.60,464.90 C58.68,464.42 60.13,465.17 61.20,465.60 C62.27,466.03 63.87,468.35 64.00,467.50 C64.13,466.65 62.22,462.27 62.00,460.50 C61.78,458.73 62.10,457.75 62.70,456.90 C63.30,456.05 63.90,455.53 65.60,455.40 C67.30,455.27 70.97,455.62 72.90,456.10 C74.83,456.58 76.27,458.65 77.20,458.30 C78.13,457.95 78.38,455.82 78.50,454.00 C78.62,452.18 77.38,449.22 77.90,447.40 C78.42,445.58 80.02,443.70 81.60,443.10 C83.18,442.50 85.47,443.20 87.40,443.80 C89.33,444.40 91.85,445.92 93.20,446.70 C94.55,447.48 94.97,449.80 95.50,448.50 C96.03,447.20 96.03,442.53 96.40,438.90 C96.77,435.27 96.80,429.63 97.70,426.70 C98.60,423.77 100.22,421.98 101.80,421.30 C103.38,420.62 105.85,421.25 107.20,422.60 C108.55,423.95 109.00,426.75 109.90,429.40 C110.80,432.05 111.68,439.85 112.60,438.50 C113.52,437.15 114.83,425.30 115.40,421.30 C115.97,417.30 115.22,415.97 116.00,414.50 C116.78,413.03 118.40,412.73 120.10,412.50 C121.80,412.27 124.62,412.53 126.20,413.10 C127.78,413.67 129.22,415.00 129.60,415.90 C129.98,416.80 128.27,417.15 128.50,418.50 C128.73,419.85 130.08,421.92 131.00,424.00 C131.92,426.08 133.00,431.17 134.00,431.00 C135.00,430.83 136.03,425.52 137.00,423.00 C137.97,420.48 138.67,417.65 139.80,415.90 C140.93,414.15 141.77,412.97 143.80,412.50 C145.83,412.03 149.73,412.32 152.00,413.10 C154.27,413.88 156.05,415.17 157.40,417.20 C158.75,419.23 159.42,422.48 160.10,425.30 C160.78,428.12 160.78,434.25 161.50,434.10 C162.22,433.95 163.12,426.98 164.40,424.40 C165.68,421.82 167.42,420.05 169.20,418.60 C170.98,417.15 173.15,415.70 175.10,415.70 C177.05,415.70 179.45,416.18 180.90,418.60 C182.35,421.02 182.83,429.40 183.80,430.20 C184.77,431.00 185.42,424.85 186.70,423.40 C187.98,421.95 190.22,421.33 191.50,421.50 C192.78,421.67 193.58,422.63 194.40,424.40 C195.22,426.17 195.43,430.97 196.40,432.10 C197.37,433.23 197.95,431.20 200.20,431.20 C202.45,431.20 207.47,430.98 209.90,432.10 C212.33,433.22 212.95,435.75 214.80,437.90 C216.65,440.05 219.80,439.65 221.00,445.00 C222.20,450.35 221.83,459.50 222.00,470.00 C222.17,480.50 229.00,501.00 222.00,508.00 C215.00,515.00 200.33,511.33 180.00,512.00 C159.67,512.67 123.17,512.33 100.00,512.00 C76.83,511.67 50.73,511.57 41.00,510.00 C31.27,508.43 41.37,505.77 41.60,502.60 Z" fill="none" stroke="#7a7a7a" stroke-width="7"/>
<path d="M120.80,449.60 C121.83,450.50 125.13,453.18 127.00,455.00 C128.87,456.82 130.50,458.67 132.00,460.50 C133.50,462.33 134.50,464.58 136.00,466.00 C137.50,467.42 139.17,468.42 141.00,469.00 C142.83,469.58 144.88,469.75 147.00,469.50 C149.12,469.25 151.60,468.00 153.70,467.50 C155.80,467.00 158.62,466.67 159.60,466.50" fill="none" stroke="#b9b9b9" stroke-width="7" stroke-linecap="round"/>
<path d="M120.80,449.60 C121.83,450.50 125.13,453.18 127.00,455.00 C128.87,456.82 130.50,458.67 132.00,460.50 C133.50,462.33 134.50,464.58 136.00,466.00 C137.50,467.42 139.17,468.42 141.00,469.00 C142.83,469.58 144.88,469.75 147.00,469.50 C149.12,469.25 151.60,468.00 153.70,467.50 C155.80,467.00 158.62,466.67 159.60,466.50" fill="none" stroke="#8a8a8a" stroke-width="3.6" stroke-linecap="round"/>
<path d="M56.90,472.10 C57.17,473.42 58.02,477.33 58.50,480.00 C58.98,482.67 59.58,486.75 59.80,488.10" fill="none" stroke="#b9b9b9" stroke-width="7" stroke-linecap="round"/>
<path d="M56.90,472.10 C57.17,473.42 58.02,477.33 58.50,480.00 C58.98,482.67 59.58,486.75 59.80,488.10" fill="none" stroke="#8a8a8a" stroke-width="3.6" stroke-linecap="round"/>
<path d="M67.00,472.10 C67.67,473.58 69.53,477.85 71.00,481.00 C72.47,484.15 75.00,489.33 75.80,491.00" fill="none" stroke="#b9b9b9" stroke-width="7" stroke-linecap="round"/>
<path d="M67.00,472.10 C67.67,473.58 69.53,477.85 71.00,481.00 C72.47,484.15 75.00,489.33 75.80,491.00" fill="none" stroke="#8a8a8a" stroke-width="3.6" stroke-linecap="round"/>
<path d="M79.00,458.00 C79.67,458.83 81.83,461.00 83.00,463.00 C84.17,465.00 85.50,468.83 86.00,470.00" fill="none" stroke="#b9b9b9" stroke-width="7" stroke-linecap="round"/>
<path d="M79.00,458.00 C79.67,458.83 81.83,461.00 83.00,463.00 C84.17,465.00 85.50,468.83 86.00,470.00" fill="none" stroke="#8a8a8a" stroke-width="3.6" stroke-linecap="round"/>
<path d="M97.00,449.00 C97.50,450.17 98.83,453.83 100.00,456.00 C101.17,458.17 103.33,461.00 104.00,462.00" fill="none" stroke="#b9b9b9" stroke-width="7" stroke-linecap="round"/>
<path d="M97.00,449.00 C97.50,450.17 98.83,453.83 100.00,456.00 C101.17,458.17 103.33,461.00 104.00,462.00" fill="none" stroke="#8a8a8a" stroke-width="3.6" stroke-linecap="round"/>
<path d="M113.00,439.00 C113.50,440.17 114.83,444.17 116.00,446.00 C117.17,447.83 119.33,449.33 120.00,450.00" fill="none" stroke="#b9b9b9" stroke-width="7" stroke-linecap="round"/>
<path d="M113.00,439.00 C113.50,440.17 114.83,444.17 116.00,446.00 C117.17,447.83 119.33,449.33 120.00,450.00" fill="none" stroke="#8a8a8a" stroke-width="3.6" stroke-linecap="round"/>
<path d="M162.00,435.00 C162.67,435.83 164.33,438.83 166.00,440.00 C167.67,441.17 171.00,441.67 172.00,442.00" fill="none" stroke="#b9b9b9" stroke-width="7" stroke-linecap="round"/>
<path d="M162.00,435.00 C162.67,435.83 164.33,438.83 166.00,440.00 C167.67,441.17 171.00,441.67 172.00,442.00" fill="none" stroke="#8a8a8a" stroke-width="3.6" stroke-linecap="round"/>
<ellipse cx="118" cy="467.4" rx="6.5" ry="2.6" fill="#9a9a9a"/>
<ellipse cx="116" cy="484.5" rx="5" ry="2.2" fill="#a4a4a4"/>
<ellipse cx="88.8" cy="497" rx="2.2" ry="1.8" fill="#333"/>
<ellipse cx="202" cy="448.5" rx="4" ry="4.5" fill="#b4b4b4"/>
<path d="M41.60,502.60 C41.83,499.43 41.78,494.38 42.40,491.00 C43.02,487.62 44.10,484.48 45.30,482.30 C46.50,480.12 48.40,478.52 49.60,477.90 C50.80,477.28 51.65,480.17 52.50,478.60 C53.35,477.03 53.85,470.78 54.70,468.50 C55.55,466.22 56.52,465.38 57.60,464.90 C58.68,464.42 60.13,465.17 61.20,465.60 C62.27,466.03 63.87,468.35 64.00,467.50 C64.13,466.65 62.22,462.27 62.00,460.50 C61.78,458.73 62.10,457.75 62.70,456.90 C63.30,456.05 63.90,455.53 65.60,455.40 C67.30,455.27 70.97,455.62 72.90,456.10 C74.83,456.58 76.27,458.65 77.20,458.30 C78.13,457.95 78.38,455.82 78.50,454.00 C78.62,452.18 77.38,449.22 77.90,447.40 C78.42,445.58 80.02,443.70 81.60,443.10 C83.18,442.50 85.47,443.20 87.40,443.80 C89.33,444.40 91.85,445.92 93.20,446.70 C94.55,447.48 94.97,449.80 95.50,448.50 C96.03,447.20 96.03,442.53 96.40,438.90 C96.77,435.27 96.80,429.63 97.70,426.70 C98.60,423.77 100.22,421.98 101.80,421.30 C103.38,420.62 105.85,421.25 107.20,422.60 C108.55,423.95 109.00,426.75 109.90,429.40 C110.80,432.05 111.68,439.85 112.60,438.50 C113.52,437.15 114.83,425.30 115.40,421.30 C115.97,417.30 115.22,415.97 116.00,414.50 C116.78,413.03 118.40,412.73 120.10,412.50 C121.80,412.27 124.62,412.53 126.20,413.10 C127.78,413.67 129.22,415.00 129.60,415.90 C129.98,416.80 128.27,417.15 128.50,418.50 C128.73,419.85 130.08,421.92 131.00,424.00 C131.92,426.08 133.00,431.17 134.00,431.00 C135.00,430.83 136.03,425.52 137.00,423.00 C137.97,420.48 138.67,417.65 139.80,415.90 C140.93,414.15 141.77,412.97 143.80,412.50 C145.83,412.03 149.73,412.32 152.00,413.10 C154.27,413.88 156.05,415.17 157.40,417.20 C158.75,419.23 159.42,422.48 160.10,425.30 C160.78,428.12 160.78,434.25 161.50,434.10 C162.22,433.95 163.12,426.98 164.40,424.40 C165.68,421.82 167.42,420.05 169.20,418.60 C170.98,417.15 173.15,415.70 175.10,415.70 C177.05,415.70 179.45,416.18 180.90,418.60 C182.35,421.02 182.83,429.40 183.80,430.20 C184.77,431.00 185.42,424.85 186.70,423.40 C187.98,421.95 190.22,421.33 191.50,421.50 C192.78,421.67 193.58,422.63 194.40,424.40 C195.22,426.17 195.43,430.97 196.40,432.10 C197.37,433.23 197.95,431.20 200.20,431.20 C202.45,431.20 207.47,430.98 209.90,432.10 C212.33,433.22 212.95,435.75 214.80,437.90 C216.65,440.05 219.80,439.65 221.00,445.00 C222.20,450.35 221.83,459.50 222.00,470.00 C222.17,480.50 229.00,501.00 222.00,508.00 C215.00,515.00 200.33,511.33 180.00,512.00 C159.67,512.67 123.17,512.33 100.00,512.00 C76.83,511.67 50.73,511.57 41.00,510.00 C31.27,508.43 41.37,505.77 41.60,502.60 Z" fill="none" stroke="#353535" stroke-width="3"/>
</g>
<path d="M130.00,506.00 C115.50,505.33 132.83,504.17 135.00,502.00 C137.17,499.83 140.07,495.40 143.00,493.00 C145.93,490.60 149.10,488.77 152.60,487.60 C156.10,486.43 160.10,486.27 164.00,486.00 C167.90,485.73 171.33,485.50 176.00,486.00 C180.67,486.50 187.17,487.77 192.00,489.00 C196.83,490.23 201.10,491.45 205.00,493.40 C208.90,495.35 212.57,498.60 215.40,500.70 C218.23,502.80 236.23,505.12 222.00,506.00 C207.77,506.88 144.50,506.67 130.00,506.00 Z" fill="#fcfcfc" stroke="#666" stroke-width="1"/>
</g></g>
<path d="M123.40,423.50 C124.07,422.28 126.40,422.45 128.00,422.70 C129.60,422.95 131.33,424.28 133.00,425.00 C134.67,425.72 137.33,426.00 138.00,427.00 C138.67,428.00 138.33,430.25 137.00,431.00 C135.67,431.75 132.17,431.67 130.00,431.50 C127.83,431.33 125.10,431.33 124.00,430.00 C122.90,428.67 122.73,424.72 123.40,423.50 Z" fill="#a63bc0"/>
<path d="M135.50,431.00 C135.92,429.77 136.92,428.93 138.00,428.60 C139.08,428.27 140.92,428.43 142.00,429.00 C143.08,429.57 144.17,430.83 144.50,432.00 C144.83,433.17 144.58,434.83 144.00,436.00 C143.42,437.17 141.67,438.05 141.00,439.00 C140.33,439.95 140.50,441.53 140.00,441.70 C139.50,441.87 138.75,440.95 138.00,440.00 C137.25,439.05 135.92,437.50 135.50,436.00 C135.08,434.50 135.08,432.23 135.50,431.00 Z" fill="#3ff03c"/>
<clipPath id="c5r"><rect x="0" y="395" width="465.5" height="106.8"/></clipPath>
<g clip-path="url(#c5r)"><g filter="url(#bl9)">
<clipPath id="c5"><path d="M300.00,510.00 C272.18,508.63 302.23,505.20 303.10,501.80 C303.97,498.40 303.83,493.33 305.20,489.60 C306.57,485.87 309.27,483.13 311.30,479.40 C313.33,475.67 315.03,470.25 317.40,467.20 C319.77,464.15 323.12,462.80 325.50,461.10 C327.88,459.40 330.33,459.03 331.70,457.00 C333.07,454.97 332.52,450.93 333.70,448.90 C334.88,446.87 337.10,445.65 338.80,444.80 C340.50,443.95 343.22,444.82 343.90,443.80 C344.58,442.78 342.73,439.88 342.90,438.70 C343.07,437.52 343.88,436.53 344.90,436.70 C345.92,436.87 348.15,438.52 349.00,439.70 C349.85,440.88 348.82,443.47 350.00,443.80 C351.18,444.13 355.42,443.23 356.10,441.70 C356.78,440.17 354.27,436.63 354.10,434.60 C353.93,432.57 354.08,430.52 355.10,429.50 C356.12,428.48 358.33,428.33 360.20,428.50 C362.07,428.67 364.95,429.32 366.30,430.50 C367.65,431.68 368.48,436.27 368.30,435.60 C368.12,434.93 365.20,428.70 365.20,426.50 C365.20,424.30 366.43,423.25 368.30,422.40 C370.17,421.55 374.45,421.40 376.40,421.40 C378.35,421.40 378.38,422.75 380.00,422.40 C381.62,422.05 384.23,419.47 386.10,419.30 C387.97,419.13 390.18,419.62 391.20,421.40 C392.22,423.18 391.90,430.23 392.20,430.00 C392.50,429.77 393.12,422.92 393.00,420.00 C392.88,417.08 392.32,414.45 391.50,412.50 C390.68,410.55 387.63,409.20 388.10,408.30 C388.57,407.40 391.92,406.95 394.30,407.10 C396.68,407.25 400.37,407.67 402.40,409.20 C404.43,410.73 405.82,413.08 406.50,416.30 C407.18,419.52 406.17,424.43 406.50,428.50 C406.83,432.57 407.48,441.38 408.50,440.70 C409.52,440.02 411.42,428.47 412.60,424.40 C413.78,420.33 414.25,418.33 415.60,416.30 C416.95,414.27 418.48,413.05 420.70,412.20 C422.92,411.35 426.52,410.85 428.90,411.20 C431.28,411.55 433.82,413.12 435.00,414.30 C436.18,415.48 436.68,416.62 436.00,418.30 C435.32,419.98 432.93,422.37 430.90,424.40 C428.87,426.43 425.33,428.80 423.80,430.50 C422.27,432.20 420.85,434.60 421.70,434.60 C422.55,434.60 426.68,431.85 428.90,430.50 C431.12,429.15 433.32,428.18 435.00,426.50 C436.68,424.82 437.98,421.77 439.00,420.40 C440.02,419.03 439.73,419.32 441.10,418.30 C442.47,417.28 444.48,415.32 447.20,414.30 C449.92,413.28 454.52,412.38 457.40,412.20 C460.28,412.02 462.07,412.73 464.50,413.20 C466.93,413.67 470.75,399.70 472.00,415.00 C473.25,430.30 472.33,489.17 472.00,505.00 C471.67,520.83 498.67,509.17 470.00,510.00 C441.33,510.83 327.82,511.37 300.00,510.00 Z"/></clipPath>
<g clip-path="url(#c5)">
<path d="M300.00,510.00 C272.18,508.63 302.23,505.20 303.10,501.80 C303.97,498.40 303.83,493.33 305.20,489.60 C306.57,485.87 309.27,483.13 311.30,479.40 C313.33,475.67 315.03,470.25 317.40,467.20 C319.77,464.15 323.12,462.80 325.50,461.10 C327.88,459.40 330.33,459.03 331.70,457.00 C333.07,454.97 332.52,450.93 333.70,448.90 C334.88,446.87 337.10,445.65 338.80,444.80 C340.50,443.95 343.22,444.82 343.90,443.80 C344.58,442.78 342.73,439.88 342.90,438.70 C343.07,437.52 343.88,436.53 344.90,436.70 C345.92,436.87 348.15,438.52 349.00,439.70 C349.85,440.88 348.82,443.47 350.00,443.80 C351.18,444.13 355.42,443.23 356.10,441.70 C356.78,440.17 354.27,436.63 354.10,434.60 C353.93,432.57 354.08,430.52 355.10,429.50 C356.12,428.48 358.33,428.33 360.20,428.50 C362.07,428.67 364.95,429.32 366.30,430.50 C367.65,431.68 368.48,436.27 368.30,435.60 C368.12,434.93 365.20,428.70 365.20,426.50 C365.20,424.30 366.43,423.25 368.30,422.40 C370.17,421.55 374.45,421.40 376.40,421.40 C378.35,421.40 378.38,422.75 380.00,422.40 C381.62,422.05 384.23,419.47 386.10,419.30 C387.97,419.13 390.18,419.62 391.20,421.40 C392.22,423.18 391.90,430.23 392.20,430.00 C392.50,429.77 393.12,422.92 393.00,420.00 C392.88,417.08 392.32,414.45 391.50,412.50 C390.68,410.55 387.63,409.20 388.10,408.30 C388.57,407.40 391.92,406.95 394.30,407.10 C396.68,407.25 400.37,407.67 402.40,409.20 C404.43,410.73 405.82,413.08 406.50,416.30 C407.18,419.52 406.17,424.43 406.50,428.50 C406.83,432.57 407.48,441.38 408.50,440.70 C409.52,440.02 411.42,428.47 412.60,424.40 C413.78,420.33 414.25,418.33 415.60,416.30 C416.95,414.27 418.48,413.05 420.70,412.20 C422.92,411.35 426.52,410.85 428.90,411.20 C431.28,411.55 433.82,413.12 435.00,414.30 C436.18,415.48 436.68,416.62 436.00,418.30 C435.32,419.98 432.93,422.37 430.90,424.40 C428.87,426.43 425.33,428.80 423.80,430.50 C422.27,432.20 420.85,434.60 421.70,434.60 C422.55,434.60 426.68,431.85 428.90,430.50 C431.12,429.15 433.32,428.18 435.00,426.50 C436.68,424.82 437.98,421.77 439.00,420.40 C440.02,419.03 439.73,419.32 441.10,418.30 C442.47,417.28 444.48,415.32 447.20,414.30 C449.92,413.28 454.52,412.38 457.40,412.20 C460.28,412.02 462.07,412.73 464.50,413.20 C466.93,413.67 470.75,399.70 472.00,415.00 C473.25,430.30 472.33,489.17 472.00,505.00 C471.67,520.83 498.67,509.17 470.00,510.00 C441.33,510.83 327.82,511.37 300.00,510.00 Z" fill="#a2a2a2"/>
<path d="M300.00,510.00 C272.18,508.63 302.23,505.20 303.10,501.80 C303.97,498.40 303.83,493.33 305.20,489.60 C306.57,485.87 309.27,483.13 311.30,479.40 C313.33,475.67 315.03,470.25 317.40,467.20 C319.77,464.15 323.12,462.80 325.50,461.10 C327.88,459.40 330.33,459.03 331.70,457.00 C333.07,454.97 332.52,450.93 333.70,448.90 C334.88,446.87 337.10,445.65 338.80,444.80 C340.50,443.95 343.22,444.82 343.90,443.80 C344.58,442.78 342.73,439.88 342.90,438.70 C343.07,437.52 343.88,436.53 344.90,436.70 C345.92,436.87 348.15,438.52 349.00,439.70 C349.85,440.88 348.82,443.47 350.00,443.80 C351.18,444.13 355.42,443.23 356.10,441.70 C356.78,440.17 354.27,436.63 354.10,434.60 C353.93,432.57 354.08,430.52 355.10,429.50 C356.12,428.48 358.33,428.33 360.20,428.50 C362.07,428.67 364.95,429.32 366.30,430.50 C367.65,431.68 368.48,436.27 368.30,435.60 C368.12,434.93 365.20,428.70 365.20,426.50 C365.20,424.30 366.43,423.25 368.30,422.40 C370.17,421.55 374.45,421.40 376.40,421.40 C378.35,421.40 378.38,422.75 380.00,422.40 C381.62,422.05 384.23,419.47 386.10,419.30 C387.97,419.13 390.18,419.62 391.20,421.40 C392.22,423.18 391.90,430.23 392.20,430.00 C392.50,429.77 393.12,422.92 393.00,420.00 C392.88,417.08 392.32,414.45 391.50,412.50 C390.68,410.55 387.63,409.20 388.10,408.30 C388.57,407.40 391.92,406.95 394.30,407.10 C396.68,407.25 400.37,407.67 402.40,409.20 C404.43,410.73 405.82,413.08 406.50,416.30 C407.18,419.52 406.17,424.43 406.50,428.50 C406.83,432.57 407.48,441.38 408.50,440.70 C409.52,440.02 411.42,428.47 412.60,424.40 C413.78,420.33 414.25,418.33 415.60,416.30 C416.95,414.27 418.48,413.05 420.70,412.20 C422.92,411.35 426.52,410.85 428.90,411.20 C431.28,411.55 433.82,413.12 435.00,414.30 C436.18,415.48 436.68,416.62 436.00,418.30 C435.32,419.98 432.93,422.37 430.90,424.40 C428.87,426.43 425.33,428.80 423.80,430.50 C422.27,432.20 420.85,434.60 421.70,434.60 C422.55,434.60 426.68,431.85 428.90,430.50 C431.12,429.15 433.32,428.18 435.00,426.50 C436.68,424.82 437.98,421.77 439.00,420.40 C440.02,419.03 439.73,419.32 441.10,418.30 C442.47,417.28 444.48,415.32 447.20,414.30 C449.92,413.28 454.52,412.38 457.40,412.20 C460.28,412.02 462.07,412.73 464.50,413.20 C466.93,413.67 470.75,399.70 472.00,415.00 C473.25,430.30 472.33,489.17 472.00,505.00 C471.67,520.83 498.67,509.17 470.00,510.00 C441.33,510.83 327.82,511.37 300.00,510.00 Z" fill="none" stroke="#5a5a5a" stroke-width="8"/>
<path d="M300.00,510.00 C272.18,508.63 302.23,505.20 303.10,501.80 C303.97,498.40 303.83,493.33 305.20,489.60 C306.57,485.87 309.27,483.13 311.30,479.40 C313.33,475.67 315.03,470.25 317.40,467.20 C319.77,464.15 323.12,462.80 325.50,461.10 C327.88,459.40 330.33,459.03 331.70,457.00 C333.07,454.97 332.52,450.93 333.70,448.90 C334.88,446.87 337.10,445.65 338.80,444.80 C340.50,443.95 343.22,444.82 343.90,443.80 C344.58,442.78 342.73,439.88 342.90,438.70 C343.07,437.52 343.88,436.53 344.90,436.70 C345.92,436.87 348.15,438.52 349.00,439.70 C349.85,440.88 348.82,443.47 350.00,443.80 C351.18,444.13 355.42,443.23 356.10,441.70 C356.78,440.17 354.27,436.63 354.10,434.60 C353.93,432.57 354.08,430.52 355.10,429.50 C356.12,428.48 358.33,428.33 360.20,428.50 C362.07,428.67 364.95,429.32 366.30,430.50 C367.65,431.68 368.48,436.27 368.30,435.60 C368.12,434.93 365.20,428.70 365.20,426.50 C365.20,424.30 366.43,423.25 368.30,422.40 C370.17,421.55 374.45,421.40 376.40,421.40 C378.35,421.40 378.38,422.75 380.00,422.40 C381.62,422.05 384.23,419.47 386.10,419.30 C387.97,419.13 390.18,419.62 391.20,421.40 C392.22,423.18 391.90,430.23 392.20,430.00 C392.50,429.77 393.12,422.92 393.00,420.00 C392.88,417.08 392.32,414.45 391.50,412.50 C390.68,410.55 387.63,409.20 388.10,408.30 C388.57,407.40 391.92,406.95 394.30,407.10 C396.68,407.25 400.37,407.67 402.40,409.20 C404.43,410.73 405.82,413.08 406.50,416.30 C407.18,419.52 406.17,424.43 406.50,428.50 C406.83,432.57 407.48,441.38 408.50,440.70 C409.52,440.02 411.42,428.47 412.60,424.40 C413.78,420.33 414.25,418.33 415.60,416.30 C416.95,414.27 418.48,413.05 420.70,412.20 C422.92,411.35 426.52,410.85 428.90,411.20 C431.28,411.55 433.82,413.12 435.00,414.30 C436.18,415.48 436.68,416.62 436.00,418.30 C435.32,419.98 432.93,422.37 430.90,424.40 C428.87,426.43 425.33,428.80 423.80,430.50 C422.27,432.20 420.85,434.60 421.70,434.60 C422.55,434.60 426.68,431.85 428.90,430.50 C431.12,429.15 433.32,428.18 435.00,426.50 C436.68,424.82 437.98,421.77 439.00,420.40 C440.02,419.03 439.73,419.32 441.10,418.30 C442.47,417.28 444.48,415.32 447.20,414.30 C449.92,413.28 454.52,412.38 457.40,412.20 C460.28,412.02 462.07,412.73 464.50,413.20 C466.93,413.67 470.75,399.70 472.00,415.00 C473.25,430.30 472.33,489.17 472.00,505.00 C471.67,520.83 498.67,509.17 470.00,510.00 C441.33,510.83 327.82,511.37 300.00,510.00 Z" fill="none" stroke="#a8a8a8" stroke-width="4.6"/>
<path d="M298.00,505.00 C290.83,501.83 300.67,491.50 303.00,486.00 C305.33,480.50 308.33,476.00 312.00,472.00 C315.67,468.00 320.67,464.67 325.00,462.00 C329.33,459.33 334.50,455.00 338.00,456.00 C341.50,457.00 344.00,462.67 346.00,468.00 C348.00,473.33 350.00,481.83 350.00,488.00 C350.00,494.17 354.67,502.17 346.00,505.00 C337.33,507.83 305.17,508.17 298.00,505.00 Z" fill="#aaaaaa"/>
<path d="M306.92,493.85 C307.27,493.71 308.44,493.54 309.01,493.02 C309.58,492.50 309.96,491.59 310.37,490.74 C310.78,489.88 310.76,488.76 311.46,487.92 C312.16,487.08 313.74,485.92 314.57,485.70 C315.41,485.49 315.88,486.14 316.46,486.64 C317.05,487.14 317.54,488.01 318.07,488.73 C318.59,489.46 318.79,490.42 319.63,490.99 C320.46,491.56 322.22,492.23 323.07,492.14 C323.92,492.06 324.27,491.21 324.74,490.48 C325.21,489.75 325.48,488.63 325.87,487.75 C326.27,486.87 326.34,485.86 327.10,485.20 C327.86,484.53 329.60,483.73 330.45,483.75 C331.30,483.78 331.65,484.71 332.21,485.34 C332.78,485.98 333.29,486.91 333.85,487.57 C334.41,488.24 334.95,488.96 335.57,489.33 C336.19,489.70 336.82,490.02 337.56,489.80 C338.30,489.58 339.59,488.30 340.00,488.00" fill="none" stroke="#5e5e5e" stroke-width="6.5" stroke-linecap="round" stroke-linejoin="round"/><path d="M306.92,493.85 C307.27,493.71 308.44,493.54 309.01,493.02 C309.58,492.50 309.96,491.59 310.37,490.74 C310.78,489.88 310.76,488.76 311.46,487.92 C312.16,487.08 313.74,485.92 314.57,485.70 C315.41,485.49 315.88,486.14 316.46,486.64 C317.05,487.14 317.54,488.01 318.07,488.73 C318.59,489.46 318.79,490.42 319.63,490.99 C320.46,491.56 322.22,492.23 323.07,492.14 C323.92,492.06 324.27,491.21 324.74,490.48 C325.21,489.75 325.48,488.63 325.87,487.75 C326.27,486.87 326.34,485.86 327.10,485.20 C327.86,484.53 329.60,483.73 330.45,483.75 C331.30,483.78 331.65,484.71 332.21,485.34 C332.78,485.98 333.29,486.91 333.85,487.57 C334.41,488.24 334.95,488.96 335.57,489.33 C336.19,489.70 336.82,490.02 337.56,489.80 C338.30,489.58 339.59,488.30 340.00,488.00" fill="none" stroke="#b2b2b2" stroke-width="4.2" stroke-linecap="round" stroke-linejoin="round"/>
<path d="M313.74,475.48 C314.21,475.59 315.69,476.05 316.57,476.13 C317.44,476.21 318.29,476.25 318.98,475.96 C319.67,475.67 320.17,475.07 320.69,474.37 C321.20,473.68 321.43,472.37 322.06,471.78 C322.68,471.18 323.68,470.96 324.42,470.81 C325.17,470.66 325.88,470.65 326.53,470.89 C327.17,471.14 327.69,471.70 328.30,472.28 C328.92,472.87 329.44,473.99 330.20,474.39 C330.96,474.80 332.08,474.83 332.87,474.74 C333.65,474.64 334.34,474.35 334.91,473.82 C335.48,473.30 335.78,472.23 336.30,471.59 C336.81,470.95 337.72,470.27 338.00,470.00" fill="none" stroke="#5e5e5e" stroke-width="6.5" stroke-linecap="round" stroke-linejoin="round"/><path d="M313.74,475.48 C314.21,475.59 315.69,476.05 316.57,476.13 C317.44,476.21 318.29,476.25 318.98,475.96 C319.67,475.67 320.17,475.07 320.69,474.37 C321.20,473.68 321.43,472.37 322.06,471.78 C322.68,471.18 323.68,470.96 324.42,470.81 C325.17,470.66 325.88,470.65 326.53,470.89 C327.17,471.14 327.69,471.70 328.30,472.28 C328.92,472.87 329.44,473.99 330.20,474.39 C330.96,474.80 332.08,474.83 332.87,474.74 C333.65,474.64 334.34,474.35 334.91,473.82 C335.48,473.30 335.78,472.23 336.30,471.59 C336.81,470.95 337.72,470.27 338.00,470.00" fill="none" stroke="#b2b2b2" stroke-width="4.2" stroke-linecap="round" stroke-linejoin="round"/>
<path d="M305.82,501.10 C306.20,501.29 307.37,501.92 308.13,502.23 C308.88,502.54 309.65,502.90 310.35,502.97 C311.06,503.04 311.73,502.93 312.37,502.64 C313.00,502.34 313.53,501.75 314.16,501.19 C314.79,500.62 315.45,499.69 316.15,499.26 C316.85,498.82 317.66,498.62 318.36,498.58 C319.07,498.54 319.73,498.68 320.36,499.01 C320.99,499.33 321.56,499.95 322.13,500.53 C322.71,501.10 323.11,501.90 323.83,502.45 C324.55,503.01 325.69,503.72 326.46,503.84 C327.23,503.97 327.82,503.60 328.43,503.21 C329.04,502.82 329.58,502.14 330.13,501.52 C330.68,500.90 331.19,500.07 331.75,499.51 C332.32,498.94 332.89,498.38 333.53,498.11 C334.17,497.84 334.83,497.79 335.60,497.88 C336.36,497.98 337.42,498.19 338.10,498.67 C338.78,499.15 339.10,500.18 339.65,500.75 C340.21,501.33 340.78,501.86 341.43,502.11 C342.08,502.35 342.81,502.35 343.57,502.25 C344.32,502.14 345.24,501.51 345.98,501.47 C346.72,501.43 347.66,501.91 348.00,502.00" fill="none" stroke="#5e5e5e" stroke-width="6.5" stroke-linecap="round" stroke-linejoin="round"/><path d="M305.82,501.10 C306.20,501.29 307.37,501.92 308.13,502.23 C308.88,502.54 309.65,502.90 310.35,502.97 C311.06,503.04 311.73,502.93 312.37,502.64 C313.00,502.34 313.53,501.75 314.16,501.19 C314.79,500.62 315.45,499.69 316.15,499.26 C316.85,498.82 317.66,498.62 318.36,498.58 C319.07,498.54 319.73,498.68 320.36,499.01 C320.99,499.33 321.56,499.95 322.13,500.53 C322.71,501.10 323.11,501.90 323.83,502.45 C324.55,503.01 325.69,503.72 326.46,503.84 C327.23,503.97 327.82,503.60 328.43,503.21 C329.04,502.82 329.58,502.14 330.13,501.52 C330.68,500.90 331.19,500.07 331.75,499.51 C332.32,498.94 332.89,498.38 333.53,498.11 C334.17,497.84 334.83,497.79 335.60,497.88 C336.36,497.98 337.42,498.19 338.10,498.67 C338.78,499.15 339.10,500.18 339.65,500.75 C340.21,501.33 340.78,501.86 341.43,502.11 C342.08,502.35 342.81,502.35 343.57,502.25 C344.32,502.14 345.24,501.51 345.98,501.47 C346.72,501.43 347.66,501.91 348.00,502.00" fill="none" stroke="#b2b2b2" stroke-width="4.2" stroke-linecap="round" stroke-linejoin="round"/>
<path d="M344.78,451.05 C345.14,450.98 346.22,450.69 346.96,450.60 C347.70,450.51 348.46,450.50 349.22,450.50 C349.98,450.50 350.75,450.57 351.52,450.59 C352.29,450.62 353.06,450.67 353.82,450.65 C354.57,450.63 355.34,450.58 356.05,450.45 C356.76,450.33 357.41,450.09 358.08,449.91 C358.74,449.73 359.39,449.58 360.04,449.37 C360.70,449.16 361.35,448.90 362.00,448.66 C362.65,448.43 363.30,448.16 363.95,447.96 C364.61,447.75 365.26,447.55 365.92,447.42 C366.58,447.29 367.23,447.21 367.92,447.18 C368.61,447.15 369.39,447.13 370.07,447.26 C370.76,447.38 371.38,447.69 372.03,447.94 C372.68,448.18 373.32,448.46 373.97,448.70 C374.62,448.94 375.27,449.18 375.92,449.37 C376.58,449.55 377.22,449.85 377.90,449.79 C378.58,449.73 379.65,449.13 380.00,449.00" fill="none" stroke="#5c5c5c" stroke-width="7" stroke-linecap="round" stroke-linejoin="round"/><path d="M344.78,451.05 C345.14,450.98 346.22,450.69 346.96,450.60 C347.70,450.51 348.46,450.50 349.22,450.50 C349.98,450.50 350.75,450.57 351.52,450.59 C352.29,450.62 353.06,450.67 353.82,450.65 C354.57,450.63 355.34,450.58 356.05,450.45 C356.76,450.33 357.41,450.09 358.08,449.91 C358.74,449.73 359.39,449.58 360.04,449.37 C360.70,449.16 361.35,448.90 362.00,448.66 C362.65,448.43 363.30,448.16 363.95,447.96 C364.61,447.75 365.26,447.55 365.92,447.42 C366.58,447.29 367.23,447.21 367.92,447.18 C368.61,447.15 369.39,447.13 370.07,447.26 C370.76,447.38 371.38,447.69 372.03,447.94 C372.68,448.18 373.32,448.46 373.97,448.70 C374.62,448.94 375.27,449.18 375.92,449.37 C376.58,449.55 377.22,449.85 377.90,449.79 C378.58,449.73 379.65,449.13 380.00,449.00" fill="none" stroke="#ababab" stroke-width="4.6" stroke-linecap="round" stroke-linejoin="round"/>
<path d="M352.14,470.97 C352.46,470.82 353.41,470.37 354.05,470.05 C354.68,469.73 355.31,469.36 355.94,469.04 C356.58,468.72 357.21,468.39 357.86,468.14 C358.50,467.88 359.15,467.66 359.81,467.51 C360.47,467.36 361.13,467.27 361.81,467.25 C362.49,467.22 363.16,467.27 363.87,467.35 C364.57,467.42 365.34,467.50 366.02,467.70 C366.71,467.91 367.32,468.30 367.97,468.57 C368.62,468.84 369.27,469.12 369.93,469.32 C370.58,469.53 371.24,469.70 371.90,469.79 C372.57,469.89 373.23,469.92 373.91,469.90 C374.58,469.87 375.25,469.77 375.93,469.65 C376.61,469.52 377.30,469.32 377.98,469.14 C378.66,468.96 379.35,468.74 380.03,468.56 C380.71,468.38 381.39,468.19 382.07,468.08 C382.74,467.97 383.42,467.89 384.09,467.88 C384.76,467.88 385.42,467.93 386.08,468.05 C386.74,468.17 387.40,468.36 388.06,468.57 C388.71,468.79 389.36,469.08 390.02,469.35 C390.67,469.62 391.32,469.93 391.97,470.20 C392.62,470.46 393.30,470.73 393.93,470.92 C394.57,471.12 395.16,471.25 395.81,471.36 C396.45,471.47 397.14,471.58 397.81,471.60 C398.49,471.61 399.18,471.56 399.87,471.47 C400.56,471.39 401.27,471.24 401.96,471.11 C402.66,470.97 403.37,470.79 404.07,470.67 C404.77,470.55 405.46,470.42 406.15,470.36 C406.84,470.31 407.55,470.07 408.20,470.35 C408.84,470.62 409.70,471.72 410.00,472.00" fill="none" stroke="#5c5c5c" stroke-width="7" stroke-linecap="round" stroke-linejoin="round"/><path d="M352.14,470.97 C352.46,470.82 353.41,470.37 354.05,470.05 C354.68,469.73 355.31,469.36 355.94,469.04 C356.58,468.72 357.21,468.39 357.86,468.14 C358.50,467.88 359.15,467.66 359.81,467.51 C360.47,467.36 361.13,467.27 361.81,467.25 C362.49,467.22 363.16,467.27 363.87,467.35 C364.57,467.42 365.34,467.50 366.02,467.70 C366.71,467.91 367.32,468.30 367.97,468.57 C368.62,468.84 369.27,469.12 369.93,469.32 C370.58,469.53 371.24,469.70 371.90,469.79 C372.57,469.89 373.23,469.92 373.91,469.90 C374.58,469.87 375.25,469.77 375.93,469.65 C376.61,469.52 377.30,469.32 377.98,469.14 C378.66,468.96 379.35,468.74 380.03,468.56 C380.71,468.38 381.39,468.19 382.07,468.08 C382.74,467.97 383.42,467.89 384.09,467.88 C384.76,467.88 385.42,467.93 386.08,468.05 C386.74,468.17 387.40,468.36 388.06,468.57 C388.71,468.79 389.36,469.08 390.02,469.35 C390.67,469.62 391.32,469.93 391.97,470.20 C392.62,470.46 393.30,470.73 393.93,470.92 C394.57,471.12 395.16,471.25 395.81,471.36 C396.45,471.47 397.14,471.58 397.81,471.60 C398.49,471.61 399.18,471.56 399.87,471.47 C400.56,471.39 401.27,471.24 401.96,471.11 C402.66,470.97 403.37,470.79 404.07,470.67 C404.77,470.55 405.46,470.42 406.15,470.36 C406.84,470.31 407.55,470.07 408.20,470.35 C408.84,470.62 409.70,471.72 410.00,472.00" fill="none" stroke="#ababab" stroke-width="4.6" stroke-linecap="round" stroke-linejoin="round"/>
<path d="M411.66,458.64 C412.00,458.59 413.01,458.37 413.71,458.32 C414.40,458.27 415.12,458.30 415.83,458.34 C416.55,458.37 417.29,458.47 418.01,458.54 C418.73,458.61 419.47,458.70 420.18,458.73 C420.90,458.76 421.65,458.77 422.30,458.72 C422.96,458.66 423.47,458.51 424.10,458.39 C424.73,458.27 425.42,458.19 426.08,458.01 C426.74,457.83 427.39,457.57 428.04,457.31 C428.69,457.06 429.34,456.74 429.99,456.46 C430.64,456.18 431.29,455.87 431.94,455.63 C432.60,455.39 433.25,455.17 433.91,455.02 C434.57,454.88 435.19,454.78 435.90,454.75 C436.61,454.73 437.47,454.71 438.16,454.86 C438.86,455.02 439.45,455.40 440.08,455.71 C440.72,456.01 441.35,456.38 441.98,456.71 C442.61,457.03 443.24,457.39 443.88,457.67 C444.52,457.95 445.17,458.22 445.82,458.41 C446.47,458.60 447.13,458.74 447.80,458.81 C448.47,458.87 449.16,458.87 449.84,458.82 C450.52,458.78 451.17,458.61 451.87,458.53 C452.57,458.44 453.32,458.37 454.05,458.31 C454.77,458.25 455.50,458.16 456.21,458.15 C456.93,458.13 457.63,458.14 458.32,458.22 C459.01,458.31 459.68,458.46 460.33,458.67 C460.99,458.88 461.64,459.10 462.25,459.49 C462.86,459.88 463.71,460.75 464.00,461.00" fill="none" stroke="#5c5c5c" stroke-width="7" stroke-linecap="round" stroke-linejoin="round"/><path d="M411.66,458.64 C412.00,458.59 413.01,458.37 413.71,458.32 C414.40,458.27 415.12,458.30 415.83,458.34 C416.55,458.37 417.29,458.47 418.01,458.54 C418.73,458.61 419.47,458.70 420.18,458.73 C420.90,458.76 421.65,458.77 422.30,458.72 C422.96,458.66 423.47,458.51 424.10,458.39 C424.73,458.27 425.42,458.19 426.08,458.01 C426.74,457.83 427.39,457.57 428.04,457.31 C428.69,457.06 429.34,456.74 429.99,456.46 C430.64,456.18 431.29,455.87 431.94,455.63 C432.60,455.39 433.25,455.17 433.91,455.02 C434.57,454.88 435.19,454.78 435.90,454.75 C436.61,454.73 437.47,454.71 438.16,454.86 C438.86,455.02 439.45,455.40 440.08,455.71 C440.72,456.01 441.35,456.38 441.98,456.71 C442.61,457.03 443.24,457.39 443.88,457.67 C444.52,457.95 445.17,458.22 445.82,458.41 C446.47,458.60 447.13,458.74 447.80,458.81 C448.47,458.87 449.16,458.87 449.84,458.82 C450.52,458.78 451.17,458.61 451.87,458.53 C452.57,458.44 453.32,458.37 454.05,458.31 C454.77,458.25 455.50,458.16 456.21,458.15 C456.93,458.13 457.63,458.14 458.32,458.22 C459.01,458.31 459.68,458.46 460.33,458.67 C460.99,458.88 461.64,459.10 462.25,459.49 C462.86,459.88 463.71,460.75 464.00,461.00" fill="none" stroke="#ababab" stroke-width="4.6" stroke-linecap="round" stroke-linejoin="round"/>
<path d="M398.95,415.84 C399.03,416.17 399.44,417.13 399.41,417.82 C399.38,418.51 399.00,419.26 398.77,419.98 C398.54,420.71 398.10,421.46 398.02,422.16 C397.94,422.86 398.01,423.54 398.28,424.18 C398.54,424.82 399.16,425.41 399.61,426.01 C400.07,426.60 400.68,427.13 400.99,427.75 C401.31,428.38 401.51,429.04 401.51,429.75 C401.50,430.46 401.13,431.26 400.96,432.01 C400.78,432.76 400.44,433.56 400.46,434.26 C400.47,434.97 400.69,435.62 401.05,436.24 C401.42,436.85 402.33,437.33 402.65,437.96 C402.98,438.59 402.94,439.66 403.00,440.00" fill="none" stroke="#5c5c5c" stroke-width="6.5" stroke-linecap="round" stroke-linejoin="round"/><path d="M398.95,415.84 C399.03,416.17 399.44,417.13 399.41,417.82 C399.38,418.51 399.00,419.26 398.77,419.98 C398.54,420.71 398.10,421.46 398.02,422.16 C397.94,422.86 398.01,423.54 398.28,424.18 C398.54,424.82 399.16,425.41 399.61,426.01 C400.07,426.60 400.68,427.13 400.99,427.75 C401.31,428.38 401.51,429.04 401.51,429.75 C401.50,430.46 401.13,431.26 400.96,432.01 C400.78,432.76 400.44,433.56 400.46,434.26 C400.47,434.97 400.69,435.62 401.05,436.24 C401.42,436.85 402.33,437.33 402.65,437.96 C402.98,438.59 402.94,439.66 403.00,440.00" fill="none" stroke="#adadad" stroke-width="4.4" stroke-linecap="round" stroke-linejoin="round"/>
<path d="M416.19,420.76 C416.54,420.74 417.64,420.88 418.28,420.64 C418.93,420.40 419.49,419.81 420.08,419.31 C420.66,418.82 421.14,418.07 421.79,417.66 C422.44,417.25 423.30,416.84 424.00,416.86 C424.70,416.87 425.33,417.41 426.00,417.75 C426.67,418.09 427.33,418.66 428.00,418.89 C428.67,419.12 429.33,419.29 430.00,419.14 C430.67,418.99 431.67,418.19 432.00,418.00" fill="none" stroke="#5c5c5c" stroke-width="6.5" stroke-linecap="round" stroke-linejoin="round"/><path d="M416.19,420.76 C416.54,420.74 417.64,420.88 418.28,420.64 C418.93,420.40 419.49,419.81 420.08,419.31 C420.66,418.82 421.14,418.07 421.79,417.66 C422.44,417.25 423.30,416.84 424.00,416.86 C424.70,416.87 425.33,417.41 426.00,417.75 C426.67,418.09 427.33,418.66 428.00,418.89 C428.67,419.12 429.33,419.29 430.00,419.14 C430.67,418.99 431.67,418.19 432.00,418.00" fill="none" stroke="#adadad" stroke-width="4.4" stroke-linecap="round" stroke-linejoin="round"/>
<path d="M444.42,423.79 C444.76,424.04 446.05,424.64 446.42,425.29 C446.80,425.93 446.74,426.80 446.69,427.66 C446.63,428.52 446.12,429.61 446.11,430.45 C446.10,431.28 446.17,432.08 446.62,432.69 C447.07,433.30 448.07,433.68 448.82,434.09 C449.56,434.50 450.49,434.68 451.08,435.14 C451.67,435.59 452.14,436.11 452.37,436.84 C452.61,437.56 452.42,438.62 452.50,439.47 C452.57,440.32 452.49,441.30 452.81,441.95 C453.14,442.60 453.75,443.02 454.46,443.36 C455.18,443.70 456.50,443.55 457.09,443.99 C457.68,444.43 457.85,445.67 458.00,446.00" fill="none" stroke="#5c5c5c" stroke-width="6.5" stroke-linecap="round" stroke-linejoin="round"/><path d="M444.42,423.79 C444.76,424.04 446.05,424.64 446.42,425.29 C446.80,425.93 446.74,426.80 446.69,427.66 C446.63,428.52 446.12,429.61 446.11,430.45 C446.10,431.28 446.17,432.08 446.62,432.69 C447.07,433.30 448.07,433.68 448.82,434.09 C449.56,434.50 450.49,434.68 451.08,435.14 C451.67,435.59 452.14,436.11 452.37,436.84 C452.61,437.56 452.42,438.62 452.50,439.47 C452.57,440.32 452.49,441.30 452.81,441.95 C453.14,442.60 453.75,443.02 454.46,443.36 C455.18,443.70 456.50,443.55 457.09,443.99 C457.68,444.43 457.85,445.67 458.00,446.00" fill="none" stroke="#adadad" stroke-width="4.4" stroke-linecap="round" stroke-linejoin="round"/>
<path d="M369.89,431.73 C370.17,431.46 370.92,430.44 371.56,430.11 C372.20,429.77 372.96,429.73 373.73,429.73 C374.51,429.73 375.42,430.09 376.21,430.12 C376.99,430.15 377.81,430.19 378.45,429.91 C379.08,429.64 379.41,428.91 380.00,428.47 C380.59,428.03 381.33,427.55 382.00,427.28 C382.67,427.00 383.33,426.77 384.00,426.81 C384.67,426.85 385.33,427.33 386.00,427.53 C386.67,427.73 387.67,427.92 388.00,428.00" fill="none" stroke="#5c5c5c" stroke-width="6" stroke-linecap="round" stroke-linejoin="round"/><path d="M369.89,431.73 C370.17,431.46 370.92,430.44 371.56,430.11 C372.20,429.77 372.96,429.73 373.73,429.73 C374.51,429.73 375.42,430.09 376.21,430.12 C376.99,430.15 377.81,430.19 378.45,429.91 C379.08,429.64 379.41,428.91 380.00,428.47 C380.59,428.03 381.33,427.55 382.00,427.28 C382.67,427.00 383.33,426.77 384.00,426.81 C384.67,426.85 385.33,427.33 386.00,427.53 C386.67,427.73 387.67,427.92 388.00,428.00" fill="none" stroke="#adadad" stroke-width="4" stroke-linecap="round" stroke-linejoin="round"/>
<path d="M341.00,460.00 C343.33,460.25 350.50,461.00 355.00,461.50 C359.50,462.00 364.00,462.60 368.00,463.00 C372.00,463.40 375.33,463.90 379.00,463.90 C382.67,463.90 387.00,463.22 390.00,463.00 C393.00,462.78 394.33,462.93 397.00,462.60 C399.67,462.27 403.00,461.63 406.00,461.00 C409.00,460.37 413.50,459.17 415.00,458.80" fill="none" stroke="#3e3e3e" stroke-width="1.8" stroke-linecap="round"/>
<path d="M380.00,450.50 C382.50,450.58 390.83,451.00 395.00,451.00 C399.17,451.00 401.67,450.67 405.00,450.50 C408.33,450.33 413.33,450.08 415.00,450.00" fill="none" stroke="#3e3e3e" stroke-width="1.8" stroke-linecap="round"/>
<rect x="435" y="442.8" width="12.2" height="4" rx="1.5" fill="#f4f4f4"/>
<ellipse cx="453.8" cy="431.6" rx="2.2" ry="5" fill="#f4f4f4"/>
<ellipse cx="388" cy="437" rx="1" ry="3" fill="#eeeeee"/>
<path d="M393.00,505.00 C391.55,504.00 394.07,502.25 395.30,499.00 C396.53,495.75 397.87,488.77 400.40,485.50 C402.93,482.23 405.42,480.58 410.50,479.40 C415.58,478.22 424.32,478.47 430.90,478.40 C437.48,478.33 443.48,478.67 450.00,479.00 C456.52,479.33 466.67,478.90 470.00,480.40 C473.33,481.90 474.82,486.98 470.00,488.00 C465.18,489.02 449.32,486.23 441.10,486.50 C432.88,486.77 425.88,488.35 420.70,489.60 C415.52,490.85 412.78,491.43 410.00,494.00 C407.22,496.57 406.83,503.17 404.00,505.00 C401.17,506.83 394.45,506.00 393.00,505.00 Z" fill="#e0e0e0" stroke="#555" stroke-width="0.9"/>
<path d="M412.00,505.00 C411.67,503.17 413.83,496.42 416.00,494.00 C418.17,491.58 420.83,491.20 425.00,490.50 C429.17,489.80 433.50,489.80 441.00,489.80 C448.50,489.80 465.17,489.47 470.00,490.50 C474.83,491.53 475.00,494.83 470.00,496.00 C465.00,497.17 447.50,496.83 440.00,497.50 C432.50,498.17 428.67,498.75 425.00,500.00 C421.33,501.25 420.17,504.17 418.00,505.00 C415.83,505.83 412.33,506.83 412.00,505.00 Z" fill="#f8f8f8"/>
<path d="M300.00,510.00 C272.18,508.63 302.23,505.20 303.10,501.80 C303.97,498.40 303.83,493.33 305.20,489.60 C306.57,485.87 309.27,483.13 311.30,479.40 C313.33,475.67 315.03,470.25 317.40,467.20 C319.77,464.15 323.12,462.80 325.50,461.10 C327.88,459.40 330.33,459.03 331.70,457.00 C333.07,454.97 332.52,450.93 333.70,448.90 C334.88,446.87 337.10,445.65 338.80,444.80 C340.50,443.95 343.22,444.82 343.90,443.80 C344.58,442.78 342.73,439.88 342.90,438.70 C343.07,437.52 343.88,436.53 344.90,436.70 C345.92,436.87 348.15,438.52 349.00,439.70 C349.85,440.88 348.82,443.47 350.00,443.80 C351.18,444.13 355.42,443.23 356.10,441.70 C356.78,440.17 354.27,436.63 354.10,434.60 C353.93,432.57 354.08,430.52 355.10,429.50 C356.12,428.48 358.33,428.33 360.20,428.50 C362.07,428.67 364.95,429.32 366.30,430.50 C367.65,431.68 368.48,436.27 368.30,435.60 C368.12,434.93 365.20,428.70 365.20,426.50 C365.20,424.30 366.43,423.25 368.30,422.40 C370.17,421.55 374.45,421.40 376.40,421.40 C378.35,421.40 378.38,422.75 380.00,422.40 C381.62,422.05 384.23,419.47 386.10,419.30 C387.97,419.13 390.18,419.62 391.20,421.40 C392.22,423.18 391.90,430.23 392.20,430.00 C392.50,429.77 393.12,422.92 393.00,420.00 C392.88,417.08 392.32,414.45 391.50,412.50 C390.68,410.55 387.63,409.20 388.10,408.30 C388.57,407.40 391.92,406.95 394.30,407.10 C396.68,407.25 400.37,407.67 402.40,409.20 C404.43,410.73 405.82,413.08 406.50,416.30 C407.18,419.52 406.17,424.43 406.50,428.50 C406.83,432.57 407.48,441.38 408.50,440.70 C409.52,440.02 411.42,428.47 412.60,424.40 C413.78,420.33 414.25,418.33 415.60,416.30 C416.95,414.27 418.48,413.05 420.70,412.20 C422.92,411.35 426.52,410.85 428.90,411.20 C431.28,411.55 433.82,413.12 435.00,414.30 C436.18,415.48 436.68,416.62 436.00,418.30 C435.32,419.98 432.93,422.37 430.90,424.40 C428.87,426.43 425.33,428.80 423.80,430.50 C422.27,432.20 420.85,434.60 421.70,434.60 C422.55,434.60 426.68,431.85 428.90,430.50 C431.12,429.15 433.32,428.18 435.00,426.50 C436.68,424.82 437.98,421.77 439.00,420.40 C440.02,419.03 439.73,419.32 441.10,418.30 C442.47,417.28 444.48,415.32 447.20,414.30 C449.92,413.28 454.52,412.38 457.40,412.20 C460.28,412.02 462.07,412.73 464.50,413.20 C466.93,413.67 470.75,399.70 472.00,415.00 C473.25,430.30 472.33,489.17 472.00,505.00 C471.67,520.83 498.67,509.17 470.00,510.00 C441.33,510.83 327.82,511.37 300.00,510.00 Z" fill="none" stroke="#444" stroke-width="2.4"/>
</g>
</g></g>
<g filter="url(#bl6)">
<rect x="360.5" y="449.2" width="8.8" height="5.8" rx="1" fill="#44ee30"/>
<path d="M393.3,438.6 L404,438.6 L404,441.5 L410.6,441.5 L410.6,446 L404,446 L404,449.8 L395.3,449.8 L395.3,457 L381.1,457 L381.1,448.8 L393.3,448.8 Z" fill="#a336c2"/>
<rect x="381.1" y="437.6" width="12.2" height="5.2" fill="#43ee33"/>
<rect x="381.1" y="442.7" width="12.2" height="6.2" fill="#eeee33"/>
<rect x="383" y="448.6" width="3" height="2.3" fill="#eeee33"/>
</g>
<defs>
<linearGradient id="ag1" gradientUnits="userSpaceOnUse" x1="119" y1="139" x2="150" y2="121.5"><stop offset="0" stop-color="#fff"/><stop offset="0.7" stop-color="#222"/><stop offset="1" stop-color="#222"/></linearGradient>
<linearGradient id="ag2" gradientUnits="userSpaceOnUse" x1="129" y1="205" x2="158" y2="222"><stop offset="0" stop-color="#fff"/><stop offset="0.7" stop-color="#222"/><stop offset="1" stop-color="#222"/></linearGradient>
</defs>
<polygon points="120.31,143.03 162.99,119.10 166.81,125.90 171.30,110.20 155.56,105.84 159.37,112.65 116.69,136.57" fill="url(#ag1)"/>
<polygon points="126.57,208.59 174.54,235.86 170.78,242.47 186.90,238.40 182.15,222.47 178.40,229.08 130.43,201.81" fill="url(#ag2)"/>
<text transform="translate(127.2,126.9) rotate(-30)" class="fc">FC</text>
<text transform="translate(134.2,232.4) rotate(30)" class="fc">FC</text>
<text x="232.8" y="23.2" class="ttl" textLength="27.6" lengthAdjust="spacingAndGlyphs">L S1</text>
<text x="41.2" y="114.4" class="ttl" textLength="36.4" lengthAdjust="spacingAndGlyphs">R aIC</text>
<text x="204.5" y="203" class="ttl" textLength="85.9" lengthAdjust="spacingAndGlyphs">L Precuneus</text>
<text x="52" y="419.8" class="ttl" textLength="28.2" lengthAdjust="spacingAndGlyphs">L S1</text>
<text x="258.2" y="419.8" class="ttl" textLength="85.6" lengthAdjust="spacingAndGlyphs">L Precuneus</text>
<defs><linearGradient id="cb" x1="0" x2="1" y1="0" y2="0"><stop offset="0" stop-color="#e3391b"/><stop offset="0.5" stop-color="#e9a02e"/><stop offset="1" stop-color="#f2f43c"/></linearGradient></defs>
<rect x="161" y="351" width="174" height="9" fill="url(#cb)"/>
<text x="148" y="358.3" font-size="12" textLength="8.2" lengthAdjust="spacingAndGlyphs">Z</text>
<text x="163.2" y="372.3" font-size="12">2</text>
<text x="237" y="372.3" font-size="12">4</text>
<text x="306.8" y="372.3" font-size="12">6</text>
<rect x="514" y="421.6" width="10.5" height="10.5" fill="#9b2fa6" stroke="#111" stroke-width="1"/>
<rect x="514" y="441.7" width="10.5" height="10.5" fill="#55f25f" stroke="#111" stroke-width="1"/>
<rect x="514.3" y="463.6" width="10.5" height="10.5" fill="#f6f63c" stroke="#111" stroke-width="1"/>
<text x="531.7" y="430.4" class="lg" textLength="57.4" lengthAdjust="spacingAndGlyphs">FC cluster</text>
<text x="531.7" y="451.3" class="lg" textLength="106.3" lengthAdjust="spacingAndGlyphs">Activation cluster</text>
<text x="530" y="472.5" class="lg" textLength="45.6" lengthAdjust="spacingAndGlyphs">Overlap</text>
<line x1="394.0" y1="9" x2="394.0" y2="173.1" stroke="#555" stroke-width="1.3"/>
<line x1="393.4" y1="173.1" x2="661" y2="173.1" stroke="#555" stroke-width="1.3"/>
<line x1="391.0" y1="18.30" x2="394.0" y2="18.30" stroke="#555" stroke-width="1"/>
<text x="388.0" y="22.50" text-anchor="end" class="tk">4</text>
<line x1="391.0" y1="36.46" x2="394.0" y2="36.46" stroke="#555" stroke-width="1"/>
<text x="388.0" y="40.66" text-anchor="end" class="tk">3</text>
<line x1="391.0" y1="54.62" x2="394.0" y2="54.62" stroke="#555" stroke-width="1"/>
<text x="388.0" y="58.82" text-anchor="end" class="tk">2</text>
<line x1="391.0" y1="72.78" x2="394.0" y2="72.78" stroke="#555" stroke-width="1"/>
<text x="388.0" y="76.98" text-anchor="end" class="tk">1</text>
<line x1="391.0" y1="90.94" x2="394.0" y2="90.94" stroke="#555" stroke-width="1"/>
<text x="388.0" y="95.14" text-anchor="end" class="tk">0</text>
<line x1="391.0" y1="109.10" x2="394.0" y2="109.10" stroke="#555" stroke-width="1"/>
<text x="388.0" y="113.30" text-anchor="end" class="tk">-1</text>
<line x1="391.0" y1="127.26" x2="394.0" y2="127.26" stroke="#555" stroke-width="1"/>
<text x="388.0" y="131.46" text-anchor="end" class="tk">-2</text>
<line x1="391.0" y1="145.42" x2="394.0" y2="145.42" stroke="#555" stroke-width="1"/>
<text x="388.0" y="149.62" text-anchor="end" class="tk">-3</text>
<line x1="391.0" y1="163.58" x2="394.0" y2="163.58" stroke="#555" stroke-width="1"/>
<text x="388.0" y="167.78" text-anchor="end" class="tk">-4</text>
<line x1="408.00" y1="173.1" x2="408.00" y2="177" stroke="#555" stroke-width="1"/>
<line x1="437.80" y1="173.1" x2="437.80" y2="177" stroke="#555" stroke-width="1"/>
<line x1="467.60" y1="173.1" x2="467.60" y2="177" stroke="#555" stroke-width="1"/>
<line x1="497.40" y1="173.1" x2="497.40" y2="177" stroke="#555" stroke-width="1"/>
<line x1="527.20" y1="173.1" x2="527.20" y2="177" stroke="#555" stroke-width="1"/>
<line x1="557.00" y1="173.1" x2="557.00" y2="177" stroke="#555" stroke-width="1"/>
<line x1="586.80" y1="173.1" x2="586.80" y2="177" stroke="#555" stroke-width="1"/>
<line x1="616.60" y1="173.1" x2="616.60" y2="177" stroke="#555" stroke-width="1"/>
<line x1="646.40" y1="173.1" x2="646.40" y2="177" stroke="#555" stroke-width="1"/>
<line x1="395.6" y1="183" x2="395.6" y2="344.4" stroke="#555" stroke-width="1.3"/>
<line x1="395.0" y1="344.4" x2="666.8" y2="344.4" stroke="#555" stroke-width="1.3"/>
<line x1="392.6" y1="192.10" x2="395.6" y2="192.10" stroke="#555" stroke-width="1"/>
<text x="389.6" y="196.30" text-anchor="end" class="tk">4</text>
<line x1="392.6" y1="210.11" x2="395.6" y2="210.11" stroke="#555" stroke-width="1"/>
<text x="389.6" y="214.31" text-anchor="end" class="tk">3</text>
<line x1="392.6" y1="228.12" x2="395.6" y2="228.12" stroke="#555" stroke-width="1"/>
<text x="389.6" y="232.32" text-anchor="end" class="tk">2</text>
<line x1="392.6" y1="246.13" x2="395.6" y2="246.13" stroke="#555" stroke-width="1"/>
<text x="389.6" y="250.33" text-anchor="end" class="tk">1</text>
<line x1="392.6" y1="264.14" x2="395.6" y2="264.14" stroke="#555" stroke-width="1"/>
<text x="389.6" y="268.34" text-anchor="end" class="tk">0</text>
<line x1="392.6" y1="282.15" x2="395.6" y2="282.15" stroke="#555" stroke-width="1"/>
<text x="389.6" y="286.35" text-anchor="end" class="tk">-1</text>
<line x1="392.6" y1="300.16" x2="395.6" y2="300.16" stroke="#555" stroke-width="1"/>
<text x="389.6" y="304.36" text-anchor="end" class="tk">-2</text>
<line x1="392.6" y1="318.17" x2="395.6" y2="318.17" stroke="#555" stroke-width="1"/>
<text x="389.6" y="322.37" text-anchor="end" class="tk">-3</text>
<line x1="392.6" y1="336.18" x2="395.6" y2="336.18" stroke="#555" stroke-width="1"/>
<text x="389.6" y="340.38" text-anchor="end" class="tk">-4</text>
<line x1="411.00" y1="344.4" x2="411.00" y2="348.4" stroke="#555" stroke-width="1"/>
<text x="411.00" y="361.9" text-anchor="middle" class="tk">-4</text>
<line x1="441.05" y1="344.4" x2="441.05" y2="348.4" stroke="#555" stroke-width="1"/>
<text x="441.05" y="361.9" text-anchor="middle" class="tk">-3</text>
<line x1="471.10" y1="344.4" x2="471.10" y2="348.4" stroke="#555" stroke-width="1"/>
<text x="471.10" y="361.9" text-anchor="middle" class="tk">-2</text>
<line x1="501.15" y1="344.4" x2="501.15" y2="348.4" stroke="#555" stroke-width="1"/>
<text x="501.15" y="361.9" text-anchor="middle" class="tk">-1</text>
<line x1="531.20" y1="344.4" x2="531.20" y2="348.4" stroke="#555" stroke-width="1"/>
<text x="531.20" y="361.9" text-anchor="middle" class="tk">0</text>
<line x1="561.25" y1="344.4" x2="561.25" y2="348.4" stroke="#555" stroke-width="1"/>
<text x="561.25" y="361.9" text-anchor="middle" class="tk">1</text>
<line x1="591.30" y1="344.4" x2="591.30" y2="348.4" stroke="#555" stroke-width="1"/>
<text x="591.30" y="361.9" text-anchor="middle" class="tk">2</text>
<line x1="621.35" y1="344.4" x2="621.35" y2="348.4" stroke="#555" stroke-width="1"/>
<text x="621.35" y="361.9" text-anchor="middle" class="tk">3</text>
<line x1="651.40" y1="344.4" x2="651.40" y2="348.4" stroke="#555" stroke-width="1"/>
<text x="651.40" y="361.9" text-anchor="middle" class="tk">4</text>
<text x="472.8" y="376.5" class="ax" textLength="116.5" lengthAdjust="spacingAndGlyphs"><tspan font-weight="normal">Δ</tspan> Widespread Pain</text>
<text transform="translate(373.3,142.5) rotate(-90)" class="ax" textLength="104" lengthAdjust="spacingAndGlyphs"><tspan font-weight="normal">Δ</tspan> L S1 to R aIC FC</text>
<text transform="translate(373.8,341) rotate(-90)" class="ax" textLength="156" lengthAdjust="spacingAndGlyphs"><tspan font-weight="normal">Δ</tspan> L Precuneus to R aIC FC</text>
<circle cx="408.7" cy="55" r="3" fill="#1a1aff"/>
<circle cx="468" cy="50.5" r="3" fill="#1a1aff"/>
<circle cx="468" cy="59" r="3" fill="#1a1aff"/>
<circle cx="497.5" cy="40" r="3" fill="#1a1aff"/>
<circle cx="497.5" cy="64.2" r="3" fill="#1a1aff"/>
<circle cx="497.5" cy="66" r="3" fill="#1a1aff"/>
<circle cx="527.2" cy="77" r="3" fill="#1a1aff"/>
<circle cx="527.2" cy="98" r="3" fill="#1a1aff"/>
<circle cx="527.2" cy="99.8" r="3" fill="#1a1aff"/>
<circle cx="527.2" cy="119.4" r="3" fill="#1a1aff"/>
<circle cx="527.2" cy="90" r="3" fill="#1a1aff"/>
<circle cx="556.8" cy="107.6" r="3" fill="#1a1aff"/>
<circle cx="556.8" cy="120.1" r="3" fill="#1a1aff"/>
<circle cx="586.6" cy="135" r="3" fill="#1a1aff"/>
<circle cx="616" cy="103.1" r="3" fill="#1a1aff"/>
<circle cx="438" cy="148.8" r="3" fill="#ff2a1a"/>
<circle cx="467.6" cy="89.7" r="3" fill="#ff2a1a"/>
<circle cx="467.6" cy="103.7" r="3" fill="#ff2a1a"/>
<circle cx="497.5" cy="69.7" r="3" fill="#ff2a1a"/>
<circle cx="497.5" cy="76.3" r="3" fill="#ff2a1a"/>
<circle cx="497.5" cy="82.8" r="3" fill="#ff2a1a"/>
<circle cx="497.5" cy="86" r="3" fill="#ff2a1a"/>
<circle cx="497.5" cy="89" r="3" fill="#ff2a1a"/>
<circle cx="497.5" cy="92" r="3" fill="#ff2a1a"/>
<circle cx="497.5" cy="94.3" r="3" fill="#ff2a1a"/>
<circle cx="497.5" cy="108.3" r="3" fill="#ff2a1a"/>
<circle cx="497.5" cy="115.8" r="3" fill="#ff2a1a"/>
<circle cx="527.2" cy="74.4" r="3" fill="#ff2a1a"/>
<circle cx="527.2" cy="84.2" r="3" fill="#ff2a1a"/>
<circle cx="527.2" cy="86.5" r="3" fill="#ff2a1a"/>
<circle cx="527.2" cy="89" r="3" fill="#ff2a1a"/>
<circle cx="527.2" cy="91.5" r="3" fill="#ff2a1a"/>
<circle cx="527.2" cy="94.3" r="3" fill="#ff2a1a"/>
<circle cx="527.2" cy="103.2" r="3" fill="#ff2a1a"/>
<circle cx="527.2" cy="105.2" r="3" fill="#ff2a1a"/>
<circle cx="527.2" cy="116.3" r="3" fill="#ff2a1a"/>
<circle cx="556.8" cy="78.2" r="3" fill="#ff2a1a"/>
<circle cx="556.8" cy="83.7" r="3" fill="#ff2a1a"/>
<circle cx="616" cy="62.9" r="3" fill="#ff2a1a"/>
<circle cx="645.7" cy="78.6" r="3" fill="#ff2a1a"/>
<line x1="408.7" y1="37.6" x2="616.6" y2="131.1" stroke="#1a1aff" stroke-width="1.6"/>
<line x1="437.2" y1="109.8" x2="646.3" y2="63.7" stroke="#ff2a1a" stroke-width="1.6"/>
<circle cx="410.5" cy="190.2" r="3" fill="#1a1aff"/>
<circle cx="470.7" cy="262.5" r="3" fill="#1a1aff"/>
<circle cx="470.7" cy="270.7" r="3" fill="#1a1aff"/>
<circle cx="500.9" cy="244.2" r="3" fill="#1a1aff"/>
<circle cx="500.9" cy="275.2" r="3" fill="#1a1aff"/>
<circle cx="500.9" cy="280" r="3" fill="#1a1aff"/>
<circle cx="530.9" cy="262.5" r="3" fill="#1a1aff"/>
<circle cx="530.9" cy="275.6" r="3" fill="#1a1aff"/>
<circle cx="530.9" cy="276.8" r="3" fill="#1a1aff"/>
<circle cx="530.9" cy="285.2" r="3" fill="#1a1aff"/>
<circle cx="530.9" cy="295.6" r="3" fill="#1a1aff"/>
<circle cx="530.9" cy="298.3" r="3" fill="#1a1aff"/>
<circle cx="530.9" cy="300.9" r="3" fill="#1a1aff"/>
<circle cx="530.9" cy="302.1" r="3" fill="#1a1aff"/>
<circle cx="561" cy="250.1" r="3" fill="#1a1aff"/>
<circle cx="561" cy="260.7" r="3" fill="#1a1aff"/>
<circle cx="590.9" cy="270.5" r="3" fill="#1a1aff"/>
<circle cx="621.2" cy="267.5" r="3" fill="#1a1aff"/>
<circle cx="440.6" cy="322.7" r="3" fill="#ff2a1a"/>
<circle cx="470.7" cy="269.8" r="3" fill="#ff2a1a"/>
<circle cx="470.7" cy="292.2" r="3" fill="#ff2a1a"/>
<circle cx="500.9" cy="236" r="3" fill="#ff2a1a"/>
<circle cx="500.9" cy="255" r="3" fill="#ff2a1a"/>
<circle cx="500.9" cy="268.3" r="3" fill="#ff2a1a"/>
<circle cx="500.9" cy="270" r="3" fill="#ff2a1a"/>
<circle cx="500.9" cy="283.4" r="3" fill="#ff2a1a"/>
<circle cx="500.9" cy="285.2" r="3" fill="#ff2a1a"/>
<circle cx="500.9" cy="289.5" r="3" fill="#ff2a1a"/>
<circle cx="500.9" cy="310.8" r="3" fill="#ff2a1a"/>
<circle cx="530.9" cy="220" r="3" fill="#ff2a1a"/>
<circle cx="530.9" cy="245.1" r="3" fill="#ff2a1a"/>
<circle cx="530.9" cy="250.8" r="3" fill="#ff2a1a"/>
<circle cx="530.9" cy="252.6" r="3" fill="#ff2a1a"/>
<circle cx="530.9" cy="259.9" r="3" fill="#ff2a1a"/>
<circle cx="530.9" cy="270" r="3" fill="#ff2a1a"/>
<circle cx="530.9" cy="292.2" r="3" fill="#ff2a1a"/>
<circle cx="561" cy="229.5" r="3" fill="#ff2a1a"/>
<circle cx="561" cy="252.6" r="3" fill="#ff2a1a"/>
<circle cx="621.3" cy="216.4" r="3" fill="#ff2a1a"/>
<circle cx="651.4" cy="185.7" r="3" fill="#ff2a1a"/>
<line x1="410.9" y1="241.7" x2="622" y2="294.3" stroke="#1a1aff" stroke-width="1.6"/>
<line x1="439.7" y1="307.4" x2="651" y2="189.9" stroke="#ff2a1a" stroke-width="1.6"/>
<text x="578" y="32.1" class="rho" fill="#1a1aff" textLength="79.6" lengthAdjust="spacingAndGlyphs">EA: rho = -0.86</text>
<text x="579.5" y="44.6" class="rho" fill="#ff2a1a" textLength="75.6" lengthAdjust="spacingAndGlyphs">ML: rho = 0.41</text>
<text x="582.7" y="319" class="rho" fill="#1a1aff" textLength="81.3" lengthAdjust="spacingAndGlyphs">EA: rho = -0.09</text>
<text x="583.9" y="331.8" class="rho" fill="#ff2a1a" textLength="78.2" lengthAdjust="spacingAndGlyphs">ML: rho = 0.70</text>
<line x1="1.9" y1="1" x2="1.9" y2="514.5" stroke="#000" stroke-width="1.6"/>
<line x1="1" y1="1.7" x2="683.8" y2="1.7" stroke="#000" stroke-width="1.6"/>
<line x1="682.9" y1="1" x2="682.9" y2="388" stroke="#000" stroke-width="1.8"/>
<line x1="683.3" y1="387" x2="683.3" y2="514.5" stroke="#000" stroke-width="1.8"/>
<line x1="1" y1="387.4" x2="684.2" y2="387.4" stroke="#000" stroke-width="2.5"/>
<line x1="1" y1="513.8" x2="684.2" y2="513.8" stroke="#000" stroke-width="1.6"/>
<ellipse cx="26.85" cy="20.55" rx="12.85" ry="11.75" fill="#000"/>
<text x="26.7" y="25.2" text-anchor="middle" font-weight="bold" font-size="15.5" fill="#fff">a</text>
<ellipse cx="27" cy="404" rx="12.8" ry="11.6" fill="#000"/>
<text x="27" y="408.6" text-anchor="middle" font-weight="bold" font-size="14.5" fill="#fff">b</text>
</svg>
</body></html>
